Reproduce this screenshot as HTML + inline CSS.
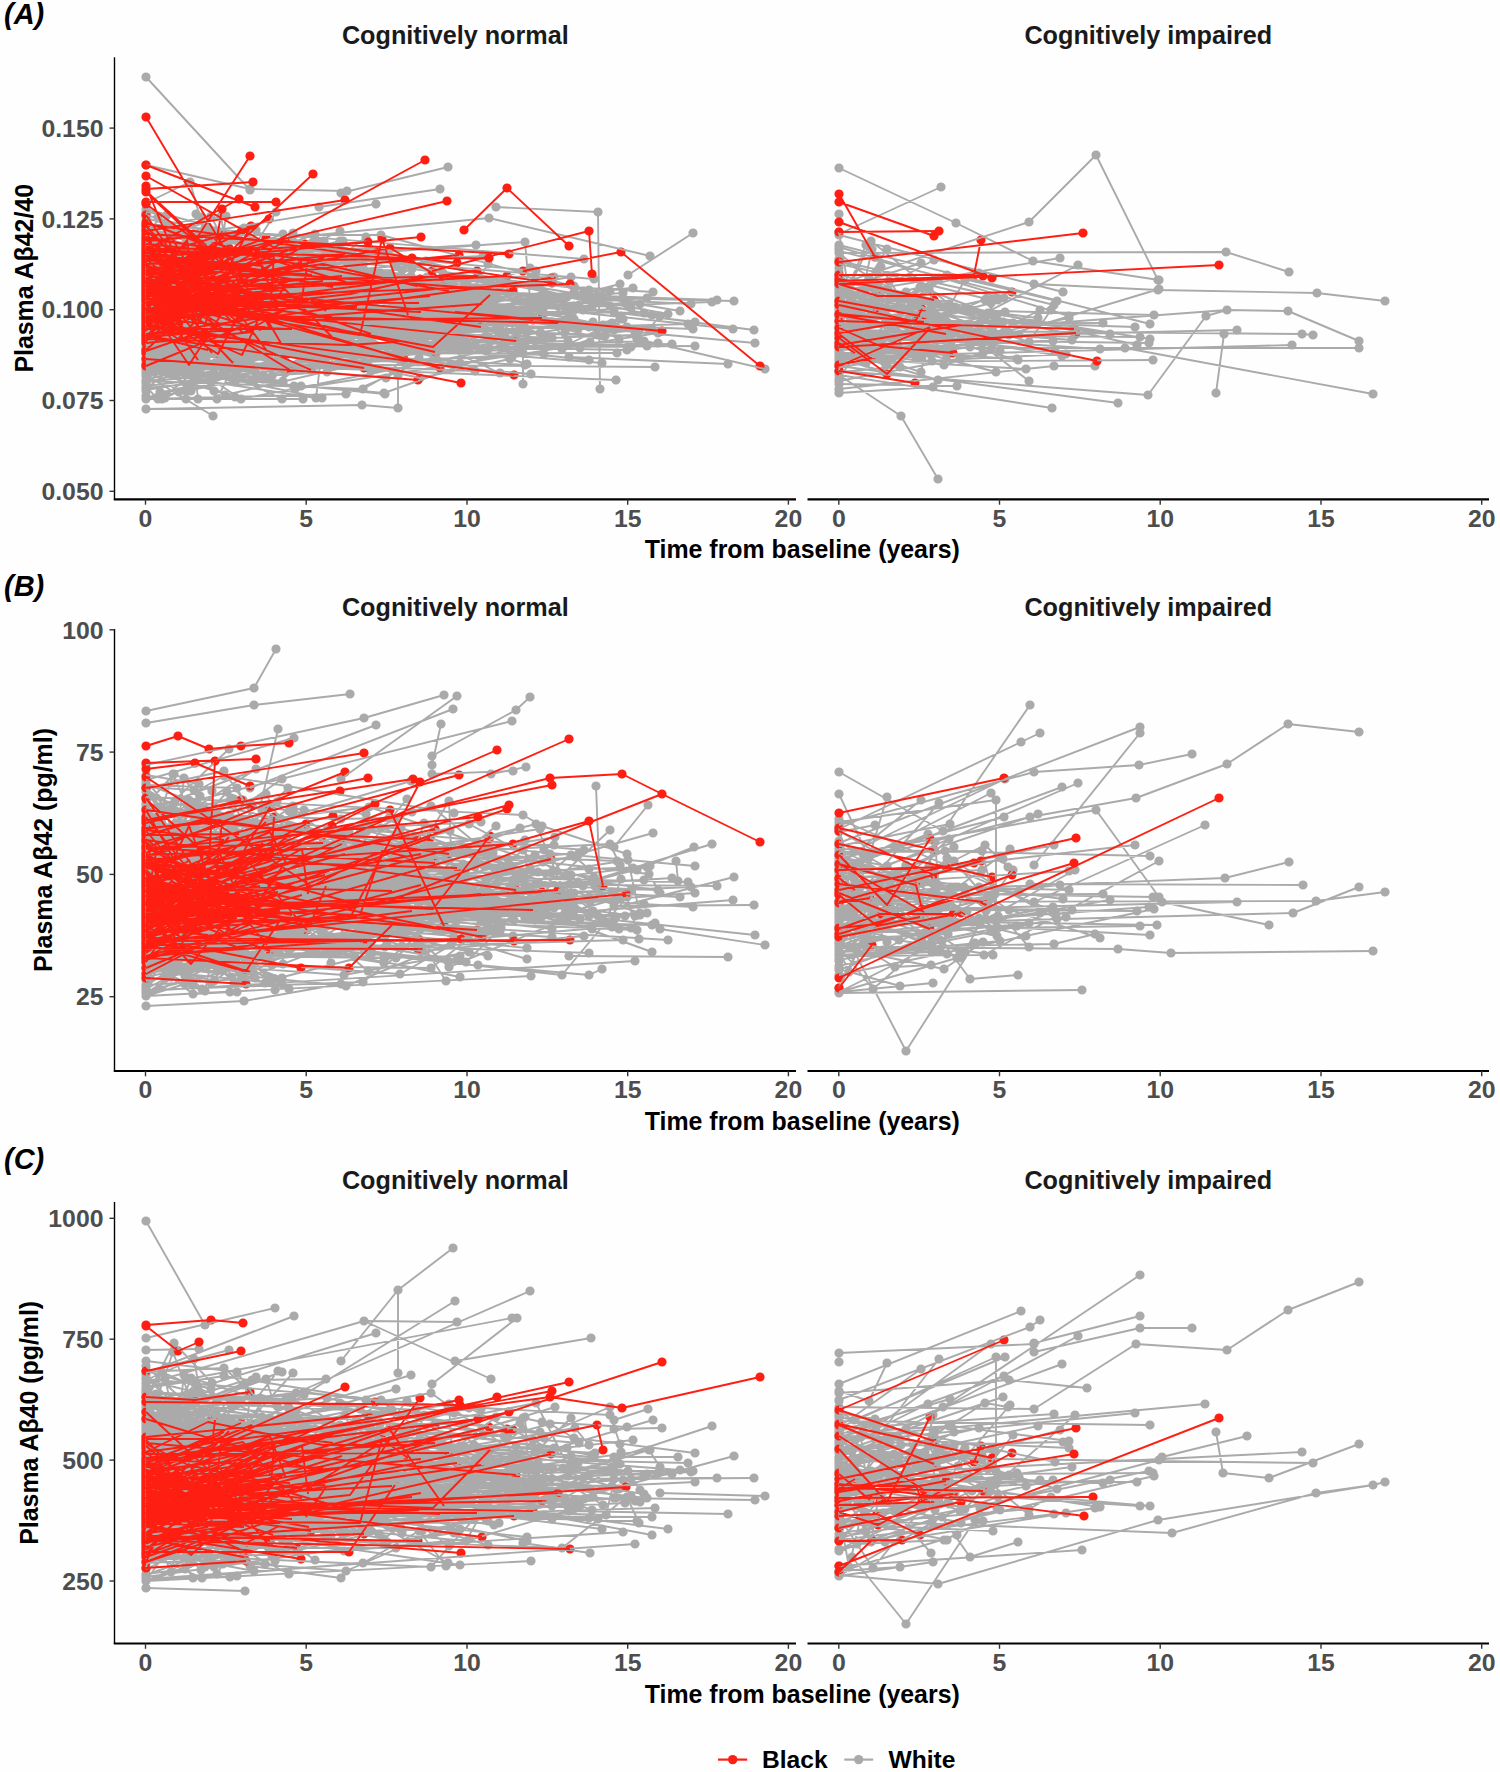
<!DOCTYPE html><html><head><meta charset="utf-8"><style>
html,body{margin:0;padding:0;background:#fefefe;width:1500px;height:1772px;overflow:hidden}
svg{display:block}
text{font-family:"Liberation Sans",sans-serif;font-weight:bold}
.lab{font-size:29px;font-style:italic;fill:#000}
.strip{font-size:25.2px;fill:#1a1a1a;text-anchor:middle}
.yt{font-size:24.8px;fill:#4d4d4d;text-anchor:end}
.xt{font-size:24.8px;fill:#4d4d4d;text-anchor:middle}
.xtitle{font-size:24.9px;fill:#000;text-anchor:middle}
.ytitle{font-size:24.9px;fill:#000;text-anchor:middle}
.leg{font-size:24.6px;fill:#000}
</style></head><body><svg width="1500" height="1772" viewBox="0 0 1500 1772"><rect width="1500" height="1772" fill="#fefefe"/><path d="M146 264h0M146 318h0M170 320h0M184 278h0M146 242h0M256 230h0M146 293h0M530 314h0M146 254h0M169 268h0M146 281h0M183 287h0M146 294h0M382 297h0M146 313h0M424 323h0M146 346h0M155 329h0M180 331h0M146 277h0M229 274h0M278 273h0M357 277h0M146 335h0M167 266h0M285 360h0M146 281h0M487 301h0M567 297h0M734 301h0M146 224h0M584 259h0M146 357h0M341 306h0M376 321h0M146 399h0M165 398h0M286 341h0M146 383h0M255 352h0M146 344h0M197 339h0M205 366h0M207 305h0M146 272h0M249 290h0M146 331h0M267 326h0M489 348h0M565 332h0M589 291h0M146 344h0M146 341h0M262 317h0M284 324h0M317 325h0M146 349h0M146 284h0M169 271h0M187 311h0M146 323h0M340 231h0M146 329h0M227 336h0M396 345h0M146 360h0M301 345h0M146 327h0M258 322h0M146 272h0M483 256h0M146 213h0M166 262h0M178 249h0M146 260h0M236 296h0M524 325h0M146 346h0M223 302h0M244 332h0M146 342h0M543 309h0M146 304h0M198 294h0M243 313h0M146 326h0M256 354h0M146 275h0M302 266h0M363 275h0M146 276h0M541 312h0M603 325h0M146 320h0M173 311h0M146 314h0M314 340h0M368 316h0M146 320h0M637 336h0M146 308h0M250 302h0M420 301h0M525 315h0M146 326h0M307 324h0M465 301h0M146 244h0M392 276h0M653 292h0M146 359h0M146 380h0M165 357h0M146 341h0M301 353h0M146 275h0M248 291h0M360 294h0M146 268h0M216 253h0M514 314h0M146 263h0M490 282h0M146 298h0M241 275h0M146 307h0M188 290h0M438 339h0M544 292h0M146 368h0M190 344h0M217 399h0M266 301h0M146 366h0M254 381h0M146 359h0M209 375h0M235 382h0M146 271h0M327 261h0M508 293h0M579 305h0M146 297h0M158 293h0M218 325h0M146 317h0M250 299h0M252 325h0M275 334h0M146 303h0M270 333h0M146 290h0M189 294h0M304 250h0M146 312h0M606 329h0M621 316h0M146 291h0M273 266h0M344 281h0M574 319h0M146 289h0M196 318h0M345 291h0M616 327h0M146 399h0M303 399h0M146 317h0M241 354h0M536 304h0M569 344h0M612 323h0M146 301h0M156 297h0M165 267h0M236 338h0M146 247h0M146 307h0M644 313h0M146 308h0M381 296h0M146 315h0M146 305h0M481 289h0M146 326h0M146 352h0M146 287h0M291 322h0M310 298h0M352 310h0M146 368h0M179 392h0M257 355h0M362 351h0M146 274h0M571 326h0M146 235h0M536 271h0M146 346h0M165 334h0M625 303h0M146 307h0M283 316h0M146 308h0M221 297h0M146 286h0M176 268h0M221 296h0M146 288h0M195 302h0M146 354h0M179 351h0M146 312h0M415 288h0M631 347h0M146 307h0M173 279h0M218 334h0M469 314h0M578 329h0M146 328h0M190 322h0M270 323h0M276 363h0M146 292h0M265 326h0M146 325h0M633 288h0M146 357h0M156 314h0M212 342h0M245 319h0M146 232h0M156 241h0M221 216h0M235 305h0M146 332h0M285 373h0M146 302h0M247 284h0M146 249h0M282 251h0M146 328h0M265 355h0M272 314h0M400 301h0M468 345h0M146 353h0M272 376h0M623 319h0M146 261h0M260 263h0M540 287h0M146 305h0M431 299h0M551 337h0M146 371h0M210 365h0M146 304h0M163 311h0M196 268h0M146 303h0M170 314h0M201 322h0M221 323h0M146 251h0M240 278h0M291 272h0M146 316h0M412 282h0M419 297h0M459 319h0M146 277h0M231 277h0M237 291h0M293 247h0M146 328h0M319 360h0M146 279h0M189 243h0M575 288h0M589 290h0M146 282h0M164 287h0M146 262h0M218 231h0M146 259h0M234 277h0M304 285h0M366 237h0M146 246h0M391 275h0M146 286h0M157 294h0M168 285h0M253 326h0M146 274h0M275 327h0M146 342h0M331 333h0M589 360h0M146 342h0M220 349h0M287 316h0M146 316h0M451 334h0M146 305h0M189 284h0M250 283h0M146 359h0M300 336h0M146 252h0M489 218h0M650 256h0M146 345h0M355 355h0M475 345h0M146 296h0M612 324h0M146 277h0M146 311h0M206 350h0M412 269h0M146 362h0M232 347h0M417 361h0M146 303h0M361 333h0M688 324h0M146 325h0M193 346h0M219 329h0M146 282h0M212 249h0M146 311h0M234 293h0M583 310h0M146 321h0M283 294h0M146 209h0M286 247h0M352 264h0M146 293h0M146 305h0M177 319h0M202 322h0M220 295h0M146 285h0M233 300h0M363 265h0M146 351h0M165 358h0M172 344h0M146 250h0M211 304h0M403 292h0M146 292h0M349 322h0M146 370h0M277 344h0M146 247h0M165 271h0M182 328h0M146 282h0M187 271h0M290 328h0M355 287h0M146 291h0M175 370h0M293 340h0M146 319h0M460 337h0M146 281h0M432 303h0M146 316h0M180 291h0M211 292h0M146 346h0M227 355h0M328 347h0M146 252h0M273 282h0M146 269h0M525 242h0M530 299h0M146 294h0M193 328h0M146 267h0M297 332h0M146 328h0M368 293h0M432 322h0M146 368h0M301 370h0M146 325h0M163 260h0M146 372h0M384 393h0M523 344h0M146 230h0M379 257h0M146 358h0M376 369h0M146 312h0M199 325h0M303 284h0M146 300h0M323 320h0M146 298h0M298 304h0M322 302h0M488 317h0M146 338h0M178 317h0M146 229h0M229 287h0M146 303h0M284 288h0M146 245h0M230 285h0M486 280h0M146 328h0M347 344h0M146 349h0M304 352h0M429 328h0M488 337h0M146 316h0M227 308h0M357 267h0M146 310h0M227 335h0M286 312h0M146 288h0M538 301h0M619 339h0M146 277h0M196 273h0M217 278h0M324 241h0M146 334h0M189 322h0M281 347h0M326 312h0M146 263h0M171 255h0M146 261h0M189 321h0M313 242h0M146 286h0M289 325h0M407 310h0M146 265h0M353 292h0M457 294h0M146 345h0M185 326h0M243 321h0M146 258h0M250 311h0M251 321h0M304 281h0M146 322h0M380 273h0M146 353h0M416 334h0M146 315h0M171 373h0M185 339h0M271 326h0M146 295h0M168 328h0M174 318h0M146 319h0M567 319h0M146 304h0M165 341h0M196 325h0M247 322h0M146 317h0M160 288h0M190 340h0M234 320h0M146 299h0M282 262h0M146 329h0M315 282h0M429 302h0M146 386h0M459 349h0M146 313h0M249 351h0M267 288h0M375 301h0M146 347h0M197 372h0M146 275h0M171 323h0M199 297h0M146 336h0M631 308h0M146 254h0M368 283h0M146 302h0M162 279h0M146 327h0M312 334h0M146 287h0M174 308h0M325 298h0M386 313h0M146 325h0M411 276h0M554 323h0M146 367h0M253 380h0M301 386h0M146 344h0M426 261h0M525 343h0M647 346h0M146 263h0M476 245h0M146 363h0M217 311h0M146 285h0M172 233h0M175 248h0M146 283h0M199 308h0M281 262h0M146 319h0M205 343h0M219 351h0M243 318h0M146 316h0M220 292h0M146 290h0M146 303h0M388 315h0M445 313h0M544 292h0M652 315h0M146 333h0M146 301h0M146 288h0M207 275h0M223 317h0M146 318h0M146 380h0M337 327h0M340 343h0M146 372h0M316 398h0M321 358h0M146 288h0M493 298h0M146 278h0M177 268h0M178 253h0M146 299h0M351 342h0M409 330h0M146 253h0M296 263h0M333 273h0M146 269h0M402 329h0M487 287h0M146 260h0M177 279h0M240 292h0M146 271h0M207 288h0M146 259h0M214 291h0M296 262h0M146 295h0M359 331h0M376 298h0M405 297h0M146 235h0M156 255h0M165 280h0M427 277h0M146 295h0M574 306h0M146 227h0M235 306h0M263 271h0M695 322h0M146 329h0M207 331h0M304 335h0M324 306h0M146 273h0M180 332h0M647 298h0M146 341h0M627 350h0M146 279h0M315 240h0M443 273h0M668 314h0M146 330h0M247 329h0M289 336h0M331 323h0M146 287h0M146 330h0M146 298h0M230 269h0M280 293h0M146 321h0M146 320h0M163 293h0M308 359h0M146 278h0M472 291h0M488 264h0M146 338h0M146 315h0M540 333h0M146 269h0M482 310h0M712 302h0M146 352h0M394 357h0M146 332h0M268 308h0M340 336h0M345 321h0M486 351h0M146 281h0M146 241h0M179 290h0M227 254h0M146 328h0M339 323h0M146 318h0M605 336h0M146 376h0M225 361h0M239 359h0M260 352h0M302 358h0M146 296h0M166 281h0M206 345h0M260 308h0M146 325h0M371 315h0M146 312h0M259 280h0M279 302h0M450 330h0M146 367h0M196 356h0M223 369h0M146 349h0M392 319h0M146 326h0M451 364h0M146 325h0M227 303h0M146 305h0M146 293h0M316 309h0M387 347h0M146 382h0M547 338h0M146 309h0M535 341h0M146 272h0M172 312h0M289 326h0M146 337h0M216 298h0M301 283h0M146 308h0M146 279h0M146 273h0M270 317h0M329 264h0M146 363h0M254 336h0M268 350h0M146 298h0M458 313h0M146 266h0M410 314h0M146 271h0M206 266h0M208 311h0M288 295h0M146 319h0M270 290h0M315 337h0M146 328h0M190 342h0M193 344h0M146 340h0M162 310h0M146 271h0M465 282h0M474 290h0M146 285h0M146 383h0M210 365h0M282 399h0M146 365h0M179 352h0M200 350h0M223 374h0M146 307h0M166 292h0M181 317h0M146 212h0M167 215h0M175 267h0M146 320h0M299 353h0M146 215h0M430 292h0M552 338h0M146 336h0M146 301h0M210 312h0M242 334h0M146 327h0M202 328h0M410 336h0M146 329h0M173 328h0M249 348h0M261 341h0M262 270h0M146 388h0M185 332h0M457 324h0M146 337h0M146 203h0M190 182h0M217 277h0M226 216h0M146 348h0M240 280h0M146 371h0M385 394h0M146 326h0M279 295h0M300 354h0M146 337h0M178 354h0M224 333h0M304 296h0M146 362h0M185 373h0M198 378h0M214 391h0M146 322h0M384 317h0M146 366h0M512 357h0M146 324h0M176 290h0M232 338h0M146 344h0M436 354h0M563 300h0M146 381h0M363 389h0M419 358h0M446 335h0M146 340h0M242 322h0M146 308h0M160 319h0M200 281h0M202 217h0M146 308h0M593 322h0M146 314h0M466 314h0M501 345h0M516 322h0M146 310h0M146 366h0M475 316h0M517 353h0M146 330h0M367 315h0M505 280h0M515 311h0M146 324h0M416 331h0M449 347h0M452 331h0M146 362h0M158 370h0M165 354h0M207 333h0M146 340h0M146 295h0M535 276h0M146 289h0M301 317h0M146 266h0M167 296h0M146 309h0M199 310h0M146 399h0M346 394h0M463 344h0M146 230h0M383 254h0M146 275h0M282 290h0M146 335h0M297 292h0M146 291h0M340 241h0M146 280h0M225 285h0M334 267h0M395 353h0M496 295h0M146 269h0M546 300h0M146 372h0M544 354h0M146 237h0M146 347h0M146 272h0M167 226h0M274 297h0M146 321h0M188 299h0M188 328h0M276 342h0M315 359h0M146 321h0M246 323h0M553 302h0M146 284h0M197 296h0M246 288h0M289 300h0M146 277h0M230 268h0M287 256h0M146 325h0M165 344h0M184 265h0M146 291h0M146 388h0M211 382h0M230 344h0M278 340h0M146 293h0M652 329h0M146 255h0M146 281h0M173 286h0M146 321h0M146 380h0M229 320h0M345 339h0M371 371h0M146 265h0M196 234h0M209 300h0M402 361h0M146 399h0M162 399h0M195 371h0M198 399h0M146 344h0M225 395h0M520 327h0M146 245h0M185 232h0M474 290h0M146 277h0M168 276h0M146 297h0M302 311h0M146 351h0M233 323h0M275 347h0M146 351h0M178 329h0M184 328h0M146 336h0M282 359h0M146 370h0M235 397h0M146 218h0M290 260h0M343 241h0M146 304h0M224 333h0M146 279h0M256 274h0M146 325h0M500 328h0M146 268h0M157 280h0M190 272h0M146 354h0M494 297h0M146 341h0M432 347h0M146 306h0M188 303h0M298 355h0M146 371h0M169 374h0M238 362h0M146 344h0M163 320h0M194 308h0M146 251h0M178 234h0M146 331h0M146 278h0M146 269h0M164 298h0M384 309h0M460 305h0M146 254h0M565 298h0M620 284h0M146 313h0M243 263h0M280 328h0M146 242h0M376 204h0M146 267h0M360 290h0M379 312h0M449 284h0M574 286h0M146 296h0M589 327h0M146 351h0M322 340h0M602 363h0M146 245h0M146 269h0M324 278h0M344 334h0M146 334h0M158 281h0M411 306h0M146 365h0M146 353h0M294 386h0M146 363h0M209 290h0M146 284h0M172 289h0M222 257h0M283 234h0M146 373h0M178 309h0M527 332h0M146 359h0M146 396h0M146 327h0M164 337h0M146 257h0M194 302h0M146 300h0M205 283h0M232 338h0M146 282h0M206 247h0M146 296h0M515 285h0M146 326h0M199 260h0M295 334h0M146 361h0M454 325h0M146 312h0M231 327h0M289 267h0M146 350h0M695 346h0M146 335h0M244 318h0M319 307h0M338 327h0M371 309h0M146 331h0M247 364h0M360 318h0M394 323h0M146 362h0M199 330h0M420 378h0M510 359h0M146 348h0M580 348h0M146 326h0M217 326h0M341 318h0M389 337h0M146 327h0M175 374h0M186 324h0M146 305h0M171 281h0M189 329h0M227 304h0M146 289h0M146 349h0M146 358h0M217 351h0M372 321h0M146 254h0M258 265h0M297 288h0M146 348h0M185 321h0M210 296h0M242 337h0M356 333h0M146 263h0M251 302h0M494 314h0M146 323h0M188 363h0M189 291h0M146 321h0M168 310h0M263 375h0M146 318h0M598 335h0M146 347h0M213 348h0M525 365h0M146 274h0M244 313h0M267 309h0M146 339h0M368 325h0M469 325h0M571 321h0M146 291h0M179 304h0M239 343h0M288 366h0M146 262h0M369 248h0M592 302h0M146 307h0M162 261h0M146 266h0M350 286h0M146 262h0M168 240h0M172 242h0M146 309h0M318 304h0M347 290h0M146 349h0M146 348h0M146 342h0M340 334h0M484 297h0M146 306h0M146 282h0M252 251h0M326 358h0M658 343h0M146 324h0M266 345h0M341 275h0M146 298h0M315 234h0M367 289h0M595 327h0M146 330h0M166 341h0M176 324h0M231 364h0M258 279h0M146 352h0M349 324h0M555 298h0M146 340h0M531 374h0M146 297h0M196 366h0M199 291h0M146 328h0M628 347h0M640 340h0M146 372h0M227 307h0M460 363h0M146 293h0M235 275h0M275 328h0M370 312h0M146 275h0M224 312h0M454 317h0M146 322h0M146 267h0M174 301h0M212 310h0M217 252h0M279 352h0M146 369h0M290 337h0M146 387h0M158 399h0M186 399h0M146 355h0M386 378h0M424 331h0M146 350h0M169 329h0M146 315h0M294 283h0M146 365h0M185 372h0M204 337h0M248 336h0M269 341h0M146 265h0M162 267h0M292 311h0M146 340h0M146 341h0M166 339h0M175 344h0M146 340h0M370 342h0M146 345h0M146 313h0M165 334h0M146 280h0M231 305h0M146 317h0M279 331h0M368 365h0M146 305h0M308 282h0M146 294h0M454 311h0M467 283h0M146 297h0M422 331h0M584 291h0M146 348h0M146 327h0M295 389h0M658 333h0M146 326h0M401 313h0M510 311h0M146 296h0M146 247h0M172 298h0M288 247h0M296 248h0M146 339h0M372 272h0M448 335h0M146 311h0M287 304h0M146 346h0M146 297h0M449 322h0M146 228h0M146 287h0M202 338h0M146 284h0M554 277h0M146 390h0M255 372h0M146 338h0M162 332h0M332 355h0M505 337h0M146 312h0M635 331h0M146 284h0M266 327h0M402 327h0M146 317h0M159 322h0M174 271h0M202 318h0M146 382h0M146 304h0M176 312h0M237 319h0M275 297h0M146 336h0M259 347h0M568 341h0M146 325h0M217 351h0M266 306h0M146 302h0M419 281h0M146 349h0M214 335h0M244 342h0M146 369h0M210 375h0M322 398h0M146 255h0M245 247h0M272 266h0M146 399h0M287 371h0M146 389h0M196 349h0M201 353h0M297 364h0M146 346h0M146 280h0M146 300h0M206 310h0M304 319h0M146 286h0M268 282h0M146 259h0M489 294h0M146 364h0M197 380h0M327 372h0M342 336h0M146 212h0M146 264h0M220 246h0M232 319h0M146 245h0M186 274h0M196 214h0M234 271h0M146 308h0M693 329h0M146 254h0M197 285h0M146 365h0M344 353h0M469 350h0M146 300h0M385 321h0M146 339h0M278 352h0M146 229h0M211 216h0M267 328h0M292 239h0M352 254h0M146 298h0M385 314h0M441 294h0M146 286h0M283 266h0M146 286h0M284 285h0M146 351h0M635 335h0M146 339h0M319 355h0M644 341h0M146 263h0M162 264h0M568 307h0M146 248h0M158 217h0M191 244h0M146 318h0M343 347h0M146 288h0M171 318h0M191 298h0M205 271h0M146 330h0M253 326h0M552 338h0M146 350h0M191 391h0M288 353h0M146 355h0M455 348h0M146 314h0M570 314h0M146 259h0M189 282h0M146 264h0M156 249h0M240 287h0M293 233h0M146 326h0M206 347h0M253 335h0M295 268h0M146 229h0M219 250h0M278 290h0M146 259h0M182 253h0M353 260h0M146 319h0M445 333h0M146 315h0M165 298h0M349 308h0M146 314h0M162 308h0M146 300h0M448 309h0M610 306h0M620 319h0M146 269h0M206 232h0M680 311h0M146 322h0M623 293h0M146 243h0M166 268h0M244 228h0M146 346h0M440 346h0M500 373h0M146 333h0M180 331h0M146 276h0M691 304h0M146 277h0M240 262h0M259 288h0M146 304h0M146 360h0M209 376h0M146 310h0M242 330h0M250 303h0M146 297h0M194 299h0M200 250h0M146 399h0M160 392h0M263 379h0M146 260h0M199 270h0M208 227h0M146 303h0M173 315h0M234 313h0M277 313h0M146 366h0M283 381h0M146 288h0M199 310h0M226 299h0M146 332h0M146 334h0M146 327h0M206 356h0M146 266h0M169 307h0M189 240h0M146 277h0M175 253h0M368 339h0M146 274h0M174 284h0M362 314h0M146 294h0M251 301h0M289 280h0M301 341h0M146 361h0M616 380h0M146 298h0M222 309h0M249 318h0M402 329h0M146 296h0M172 275h0M184 258h0M278 306h0M146 289h0M192 286h0M146 302h0M236 305h0M146 310h0M281 302h0M356 305h0M146 235h0M381 235h0M640 304h0M146 310h0M224 330h0M420 338h0M592 307h0M146 280h0M717 300h0M146 293h0M168 305h0M266 269h0M285 351h0M146 370h0M411 304h0M146 281h0M190 261h0M146 295h0M180 308h0M181 258h0M146 311h0M186 391h0M270 362h0M280 300h0M146 324h0M513 320h0M146 268h0M385 295h0M146 336h0M229 336h0M334 333h0M520 329h0M146 345h0M207 311h0M222 339h0M146 270h0M543 339h0M649 329h0M660 316h0M146 318h0M146 295h0M283 296h0M381 286h0M447 289h0M146 323h0M426 337h0M533 305h0M610 291h0M146 312h0M146 323h0M146 399h0M426 312h0M146 293h0M146 280h0M274 318h0M278 315h0M146 336h0M369 319h0M527 364h0M146 224h0M224 247h0M243 264h0M276 212h0M146 295h0M168 229h0M298 288h0M364 304h0M146 257h0M172 245h0M496 324h0M146 363h0M655 367h0M146 295h0M504 343h0M550 303h0M574 292h0M146 336h0M241 399h0M487 351h0M590 342h0M146 368h0M171 336h0M193 383h0M230 369h0M237 370h0M146 332h0M188 336h0M243 293h0M276 309h0M146 344h0M182 354h0M617 353h0M146 298h0M495 300h0M146 310h0M541 333h0M146 345h0M233 328h0M341 336h0M146 269h0M161 267h0M198 283h0M258 337h0M146 279h0M481 325h0M146 280h0M179 258h0M439 282h0M146 352h0M566 311h0M733 329h0M146 360h0M158 345h0M172 339h0M250 360h0M146 281h0M306 268h0M352 296h0M146 313h0M167 326h0M146 281h0M395 292h0M146 288h0M491 303h0M146 321h0M146 355h0M282 327h0M283 382h0M146 369h0M396 322h0M146 289h0M271 315h0M392 307h0M146 232h0M181 247h0M216 264h0M146 318h0M186 308h0M249 324h0M146 309h0M562 349h0M627 327h0M639 331h0M146 308h0M299 287h0M146 254h0M478 292h0M571 277h0M146 294h0M237 306h0M256 281h0M278 326h0M146 323h0M146 243h0M343 333h0M530 268h0M146 326h0M197 314h0M146 345h0M198 373h0M214 373h0M215 317h0M146 301h0M177 303h0M349 262h0M146 342h0M271 361h0M286 292h0M463 345h0M146 318h0M167 343h0M499 331h0M146 301h0M156 302h0M226 295h0M146 391h0M146 273h0M402 270h0M146 289h0M396 266h0M146 306h0M219 319h0M146 278h0M158 238h0M464 298h0M146 306h0M214 364h0M280 324h0M146 325h0M338 334h0M146 292h0M523 321h0M542 302h0M627 304h0M146 242h0M594 279h0M146 341h0M431 333h0M497 322h0M146 352h0M672 344h0M146 295h0M176 281h0M267 272h0M146 369h0M272 363h0M475 371h0M146 306h0M191 253h0M552 322h0M146 329h0M185 331h0M197 332h0M199 361h0M146 77h0M250 190h0M146 165h0M250 189h0M347 191h0M341 193h0M448 167h0M319 207h0M440 189h0M496 207h0M598 212h0M598 212h0M600 389h0M628 275h0M693 233h0M614 312h0M754 330h0M614 330h0M755 343h0M637 339h0M765 369h0M569 357h0M728 364h0M146 409h0M362 405h0M398 408h0M146 375h0M213 416h0M398 375h0M398 408h0M523 353h0M523 384h0M839 282h0M895 318h0M947 275h0M1057 301h0M839 295h0M887 364h0M1078 265h0M839 286h0M865 289h0M1029 342h0M1051 310h0M839 315h0M945 316h0M1029 381h0M839 293h0M935 351h0M839 348h0M1017 359h0M839 362h0M1153 360h0M839 299h0M917 334h0M943 317h0M839 334h0M920 319h0M935 325h0M940 333h0M839 247h0M1069 316h0M839 327h0M940 322h0M965 280h0M839 289h0M839 308h0M873 348h0M942 328h0M839 272h0M839 303h0M947 356h0M839 302h0M855 323h0M1062 356h0M839 290h0M921 263h0M839 302h0M1003 322h0M839 350h0M1053 341h0M839 367h0M932 354h0M839 278h0M954 310h0M839 322h0M865 355h0M948 349h0M839 333h0M839 300h0M1019 335h0M839 340h0M899 354h0M839 285h0M854 347h0M1005 312h0M839 285h0M960 359h0M839 291h0M839 335h0M961 339h0M839 333h0M985 300h0M1008 332h0M839 305h0M982 319h0M998 300h0M839 276h0M839 344h0M885 359h0M954 333h0M839 359h0M883 371h0M988 315h0M1009 335h0M839 332h0M839 323h0M1072 340h0M839 307h0M1154 315h0M839 235h0M1063 292h0M839 349h0M930 313h0M936 317h0M949 337h0M839 335h0M852 333h0M859 348h0M939 278h0M839 303h0M850 325h0M958 328h0M1010 334h0M839 331h0M996 372h0M839 304h0M839 342h0M931 355h0M839 384h0M957 386h0M839 332h0M839 302h0M950 311h0M839 352h0M839 264h0M876 272h0M991 300h0M839 371h0M851 299h0M866 363h0M839 278h0M1137 345h0M839 282h0M894 329h0M991 303h0M839 214h0M839 232h0M856 334h0M939 278h0M839 286h0M839 259h0M984 342h0M1159 289h0M839 344h0M991 328h0M839 356h0M861 317h0M869 358h0M839 324h0M906 292h0M916 357h0M839 379h0M857 351h0M944 365h0M983 353h0M839 289h0M1150 339h0M839 296h0M965 308h0M986 299h0M839 360h0M942 351h0M970 347h0M1018 360h0M839 361h0M979 325h0M986 316h0M1075 335h0M839 280h0M901 311h0M839 317h0M925 321h0M980 342h0M839 335h0M858 312h0M991 349h0M1013 323h0M839 314h0M922 357h0M839 294h0M927 329h0M839 304h0M860 329h0M920 287h0M988 313h0M839 356h0M993 343h0M839 307h0M979 273h0M839 308h0M871 285h0M937 304h0M839 310h0M871 241h0M949 304h0M839 346h0M839 357h0M839 393h0M933 387h0M839 274h0M888 290h0M995 318h0M839 264h0M839 290h0M878 286h0M955 307h0M839 293h0M993 334h0M1040 310h0M839 390h0M839 293h0M1038 318h0M839 331h0M1055 351h0M839 287h0M863 298h0M934 260h0M839 325h0M872 286h0M887 337h0M839 333h0M839 251h0M1054 305h0M839 354h0M932 361h0M839 381h0M1000 351h0M839 358h0M1026 369h0M839 260h0M839 308h0M890 299h0M929 289h0M946 348h0M839 323h0M875 339h0M839 309h0M866 245h0M839 310h0M839 333h0M908 352h0M964 327h0M839 314h0M898 319h0M1135 327h0M839 295h0M869 324h0M889 281h0M839 346h0M923 344h0M933 301h0M839 275h0M855 325h0M881 336h0M839 311h0M996 338h0M996 323h0M839 346h0M921 372h0M934 313h0M941 331h0M839 249h0M839 372h0M900 367h0M839 295h0M1060 258h0M839 324h0M1103 323h0M839 331h0M998 336h0M1140 337h0M839 318h0M849 339h0M870 303h0M839 288h0M851 302h0M997 315h0M839 280h0M982 319h0M839 268h0M859 309h0M872 249h0M839 253h0M869 278h0M887 249h0M839 284h0M860 351h0M928 324h0M839 296h0M1110 334h0M839 347h0M881 267h0M924 335h0M839 351h0M938 380h0M839 332h0M1100 349h0M839 389h0M1054 366h0M1095 366h0M839 301h0M839 339h0M1149 343h0M839 351h0M891 338h0M972 334h0M839 301h0M890 320h0M839 295h0M863 299h0M967 329h0M839 354h0M885 363h0M1066 354h0M839 290h0M871 315h0M884 313h0M935 278h0M839 245h0M1150 324h0M839 339h0M895 348h0M931 306h0M839 261h0M1004 298h0M839 354h0M951 342h0M1069 318h0M839 168h0M956 223h0M1033 261h0M1159 280h0M839 234h0M941 187h0M839 284h0M1029 222h0M1096 155h0M1158 280h0M839 253h0M1226 252h0M1289 272h0M1034 284h0M1158 290h0M1317 293h0M1385 301h0M839 375h0M901 416h0M938 479h0M839 339h0M1227 310h0M1288 311h0M1359 341h0M839 348h0M1359 348h0M1125 348h0M1373 394h0M839 375h0M1052 408h0M839 366h0M1118 403h0M839 371h0M1148 395h0M1206 316h0M1227 310h0M1216 393h0M1224 334h0M839 330h0M1302 334h0M1313 335h0M839 339h0M1237 330h0M839 357h0M1292 345h0" stroke="#aaaaaa" stroke-width="9.2" stroke-linecap="round" fill="none"/><path d="M146 268h0M276 298h0M481 327h0M146 282h0M171 332h0M231 338h0M146 334h0M551 278h0M146 256h0M263 266h0M146 275h0M211 272h0M222 209h0M146 281h0M221 272h0M146 300h0M323 281h0M146 222h0M195 241h0M250 156h0M146 305h0M225 281h0M146 301h0M419 303h0M146 289h0M278 308h0M146 249h0M172 238h0M203 291h0M146 287h0M160 286h0M233 363h0M146 319h0M286 329h0M146 309h0M209 300h0M215 244h0M146 289h0M240 296h0M146 314h0M146 253h0M289 274h0M146 240h0M228 298h0M232 302h0M146 290h0M392 281h0M146 244h0M253 255h0M146 290h0M240 315h0M146 338h0M189 279h0M215 329h0M146 293h0M187 240h0M195 291h0M146 263h0M146 317h0M302 262h0M146 267h0M146 284h0M533 320h0M146 267h0M186 289h0M146 286h0M205 310h0M146 293h0M273 242h0M146 283h0M200 268h0M146 314h0M255 299h0M146 297h0M244 279h0M146 365h0M146 259h0M312 275h0M146 291h0M236 315h0M146 241h0M241 232h0M146 267h0M273 276h0M146 281h0M252 307h0M272 301h0M146 314h0M158 314h0M301 300h0M146 265h0M203 286h0M146 317h0M212 342h0M146 326h0M514 375h0M146 309h0M177 314h0M146 260h0M276 273h0M146 302h0M360 335h0M382 239h0M408 315h0M146 257h0M252 227h0M146 250h0M228 257h0M146 288h0M246 314h0M279 276h0M146 249h0M254 248h0M272 293h0M146 320h0M182 298h0M194 266h0M146 300h0M286 290h0M146 247h0M157 245h0M243 333h0M307 298h0M146 335h0M187 331h0M146 290h0M186 313h0M193 266h0M146 323h0M146 321h0M146 274h0M345 254h0M146 283h0M254 258h0M333 338h0M146 316h0M180 301h0M146 292h0M273 284h0M146 282h0M478 276h0M146 224h0M552 283h0M146 192h0M261 301h0M146 350h0M181 319h0M146 285h0M309 330h0M146 300h0M264 306h0M146 310h0M208 339h0M146 295h0M332 317h0M146 329h0M292 329h0M146 318h0M302 283h0M146 270h0M229 255h0M270 328h0M146 320h0M200 243h0M146 321h0M430 296h0M146 324h0M285 241h0M457 263h0M146 273h0M146 331h0M196 267h0M280 310h0M146 366h0M310 299h0M326 311h0M146 271h0M228 268h0M146 251h0M274 256h0M146 285h0M191 337h0M251 226h0M146 278h0M325 256h0M146 186h0M188 288h0M305 244h0M376 252h0M146 261h0M289 250h0M146 335h0M306 245h0M146 259h0M190 296h0M146 300h0M271 296h0M274 255h0M146 323h0M237 274h0M146 300h0M421 312h0M146 285h0M198 360h0M146 296h0M146 312h0M146 294h0M261 330h0M146 191h0M249 285h0M275 261h0M146 270h0M288 320h0M542 318h0M146 230h0M160 265h0M513 291h0M146 284h0M435 352h0M146 250h0M239 199h0M146 276h0M146 321h0M461 383h0M146 324h0M244 340h0M146 288h0M440 368h0M146 341h0M224 235h0M146 282h0M290 370h0M146 283h0M164 284h0M205 325h0M219 276h0M146 275h0M146 328h0M161 289h0M270 320h0M146 284h0M176 306h0M146 269h0M208 265h0M146 313h0M477 271h0M146 251h0M255 335h0M146 319h0M268 311h0M146 339h0M349 345h0M395 342h0M146 313h0M558 323h0M146 351h0M244 317h0M146 331h0M146 325h0M146 321h0M325 257h0M146 301h0M146 257h0M270 308h0M286 285h0M146 336h0M364 368h0M146 312h0M182 321h0M146 323h0M146 295h0M214 243h0M346 282h0M146 337h0M265 327h0M146 264h0M421 237h0M146 302h0M199 321h0M146 321h0M183 324h0M146 318h0M189 322h0M146 297h0M260 280h0M146 226h0M207 292h0M266 257h0M146 293h0M180 313h0M264 294h0M146 293h0M146 315h0M146 306h0M203 294h0M146 277h0M186 305h0M146 295h0M297 305h0M146 272h0M233 290h0M507 276h0M146 293h0M260 299h0M146 280h0M308 274h0M146 285h0M211 274h0M146 286h0M459 255h0M146 238h0M146 291h0M146 291h0M236 290h0M146 321h0M186 306h0M146 234h0M509 254h0M146 250h0M412 258h0M146 280h0M302 298h0M308 260h0M146 261h0M162 315h0M350 294h0M420 279h0M146 256h0M146 257h0M368 242h0M146 296h0M193 251h0M146 277h0M146 230h0M237 311h0M146 296h0M226 296h0M267 351h0M146 340h0M146 341h0M238 265h0M146 297h0M311 370h0M146 359h0M418 380h0M146 300h0M255 317h0M146 299h0M570 284h0M146 264h0M229 262h0M146 319h0M228 305h0M146 320h0M435 289h0M146 313h0M180 291h0M146 330h0M211 299h0M146 302h0M189 365h0M226 307h0M242 274h0M146 273h0M212 353h0M146 279h0M269 219h0M146 308h0M218 354h0M239 314h0M146 323h0M220 301h0M240 316h0M146 318h0M146 204h0M202 245h0M146 276h0M146 294h0M433 347h0M490 295h0M146 302h0M516 341h0M146 317h0M178 339h0M238 278h0M146 310h0M375 289h0M146 309h0M229 248h0M146 298h0M272 319h0M482 304h0M146 270h0M179 297h0M243 247h0M146 313h0M260 308h0M146 239h0M311 260h0M489 258h0M146 295h0M342 276h0M146 255h0M371 334h0M146 289h0M194 302h0M206 309h0M146 231h0M345 200h0M146 215h0M180 265h0M146 281h0M404 359h0M146 277h0M192 318h0M289 281h0M146 314h0M242 355h0M265 305h0M146 247h0M242 320h0M146 343h0M252 332h0M146 299h0M357 307h0M146 237h0M449 291h0M146 252h0M333 287h0M146 299h0M146 353h0M146 296h0M208 280h0M323 264h0M417 286h0M146 287h0M222 261h0M146 280h0M220 324h0M146 296h0M176 250h0M146 325h0M174 311h0M228 287h0M146 338h0M251 292h0M282 345h0M146 283h0M266 238h0M146 335h0M208 350h0M146 293h0M390 248h0M444 280h0M146 310h0M241 306h0M146 117h0M242 278h0M146 165h0M255 207h0M146 176h0M275 248h0M146 189h0M253 182h0M146 202h0M276 202h0M205 275h0M313 174h0M146 312h0M425 160h0M146 271h0M447 201h0M464 230h0M507 188h0M569 246h0M432 271h0M589 231h0M592 274h0M523 271h0M621 252h0M760 366h0M455 312h0M662 331h0M839 366h0M930 327h0M839 333h0M916 320h0M922 309h0M839 347h0M1076 333h0M839 284h0M878 296h0M1012 292h0M839 284h0M839 328h0M880 346h0M953 353h0M839 202h0M934 236h0M839 365h0M872 358h0M839 301h0M877 308h0M920 316h0M839 281h0M983 276h0M839 334h0M870 358h0M839 275h0M974 275h0M981 240h0M839 314h0M924 322h0M839 338h0M887 374h0M930 328h0M839 315h0M946 334h0M839 345h0M961 325h0M839 321h0M1074 329h0M839 343h0M855 353h0M839 222h0M992 278h0M839 279h0M934 300h0M839 194h0M875 257h0M839 232h0M939 231h0M839 262h0M1083 233h0M839 284h0M1219 265h0M839 305h0M1097 361h0M839 371h0M915 383h0" stroke="#fe1e12" stroke-width="9.2" stroke-linecap="round" fill="none"/><path d="M146 318L170 320L184 278M146 242L256 230M146 293L530 314M146 254L169 268M146 281L183 287M146 294L382 297M146 313L424 323M146 346L155 329L180 331M146 277L229 274L278 273L357 277M146 335L167 266L285 360M146 281L487 301L567 297L734 301M146 224L584 259M146 357L341 306L376 321M146 399L165 398L286 341M146 383L255 352M146 344L197 339L205 366L207 305M146 272L249 290M146 331L267 326L489 348L565 332L589 291M146 341L262 317L284 324L317 325M146 284L169 271L187 311M146 323L340 231M146 329L227 336L396 345M146 360L301 345M146 327L258 322M146 272L483 256M146 213L166 262L178 249M146 260L236 296L524 325M146 346L223 302L244 332M146 342L543 309M146 304L198 294L243 313M146 326L256 354M146 275L302 266L363 275M146 276L541 312L603 325M146 320L173 311M146 314L314 340L368 316M146 320L637 336M146 308L250 302L420 301L525 315M146 326L307 324L465 301M146 244L392 276L653 292M146 380L165 357M146 341L301 353M146 275L248 291L360 294M146 268L216 253L514 314M146 263L490 282M146 298L241 275M146 307L188 290L438 339L544 292M146 368L190 344L217 399L266 301M146 366L254 381M146 359L209 375L235 382M146 271L327 261L508 293L579 305M146 297L158 293L218 325M146 317L250 299L252 325L275 334M146 303L270 333M146 290L189 294L304 250M146 312L606 329L621 316M146 291L273 266L344 281L574 319M146 289L196 318L345 291L616 327M146 399L303 399M146 317L241 354L536 304L569 344L612 323M146 301L156 297L165 267L236 338M146 307L644 313M146 308L381 296M146 305L481 289M146 287L291 322L310 298L352 310M146 368L179 392L257 355L362 351M146 274L571 326M146 235L536 271M146 346L165 334L625 303M146 307L283 316M146 308L221 297M146 286L176 268L221 296M146 288L195 302M146 354L179 351M146 312L415 288L631 347M146 307L173 279L218 334L469 314L578 329M146 328L190 322L270 323L276 363M146 292L265 326M146 325L633 288M146 357L156 314L212 342L245 319M146 232L156 241L221 216L235 305M146 332L285 373M146 302L247 284M146 249L282 251M146 328L265 355L272 314L400 301L468 345M146 353L272 376L623 319M146 261L260 263L540 287M146 305L431 299L551 337M146 371L210 365M146 304L163 311L196 268M146 303L170 314L201 322L221 323M146 251L240 278L291 272M146 316L412 282L419 297L459 319M146 277L231 277L237 291L293 247M146 328L319 360M146 279L189 243L575 288L589 290M146 282L164 287M146 262L218 231M146 259L234 277L304 285L366 237M146 246L391 275M146 286L157 294L168 285L253 326M146 274L275 327M146 342L331 333L589 360M146 342L220 349L287 316M146 316L451 334M146 305L189 284L250 283M146 359L300 336M146 252L489 218L650 256M146 345L355 355L475 345M146 296L612 324M146 311L206 350L412 269M146 362L232 347L417 361M146 303L361 333L688 324M146 325L193 346L219 329M146 282L212 249M146 311L234 293L583 310M146 321L283 294M146 209L286 247L352 264M146 305L177 319L202 322L220 295M146 285L233 300L363 265M146 351L165 358L172 344M146 250L211 304L403 292M146 292L349 322M146 370L277 344M146 247L165 271L182 328M146 282L187 271L290 328L355 287M146 291L175 370L293 340M146 319L460 337M146 281L432 303M146 316L180 291L211 292M146 346L227 355L328 347M146 252L273 282M146 269L525 242L530 299M146 294L193 328M146 267L297 332M146 328L368 293L432 322M146 368L301 370M146 325L163 260M146 372L384 393L523 344M146 230L379 257M146 358L376 369M146 312L199 325L303 284M146 300L323 320M146 298L298 304L322 302L488 317M146 338L178 317M146 229L229 287M146 303L284 288M146 245L230 285L486 280M146 328L347 344M146 349L304 352L429 328L488 337M146 316L227 308L357 267M146 310L227 335L286 312M146 288L538 301L619 339M146 277L196 273L217 278L324 241M146 334L189 322L281 347L326 312M146 263L171 255M146 261L189 321L313 242M146 286L289 325L407 310M146 265L353 292L457 294M146 345L185 326L243 321M146 258L250 311L251 321L304 281M146 322L380 273M146 353L416 334M146 315L171 373L185 339L271 326M146 295L168 328L174 318M146 319L567 319M146 304L165 341L196 325L247 322M146 317L160 288L190 340L234 320M146 299L282 262M146 329L315 282L429 302M146 386L459 349M146 313L249 351L267 288L375 301M146 347L197 372M146 275L171 323L199 297M146 336L631 308M146 254L368 283M146 302L162 279M146 327L312 334M146 287L174 308L325 298L386 313M146 325L411 276L554 323M146 367L253 380L301 386M146 344L426 261L525 343L647 346M146 263L476 245M146 363L217 311M146 285L172 233L175 248M146 283L199 308L281 262M146 319L205 343L219 351L243 318M146 316L220 292M146 303L388 315L445 313L544 292L652 315M146 288L207 275L223 317M146 380L337 327L340 343M146 372L316 398L321 358M146 288L493 298M146 278L177 268L178 253M146 299L351 342L409 330M146 253L296 263L333 273M146 269L402 329L487 287M146 260L177 279L240 292M146 271L207 288M146 259L214 291L296 262M146 295L359 331L376 298L405 297M146 235L156 255L165 280L427 277M146 295L574 306M146 227L235 306L263 271L695 322M146 329L207 331L304 335L324 306M146 273L180 332L647 298M146 341L627 350M146 279L315 240L443 273L668 314M146 330L247 329L289 336L331 323M146 298L230 269L280 293M146 320L163 293L308 359M146 278L472 291L488 264M146 315L540 333M146 269L482 310L712 302M146 352L394 357M146 332L268 308L340 336L345 321L486 351M146 241L179 290L227 254M146 328L339 323M146 318L605 336M146 376L225 361L239 359L260 352L302 358M146 296L166 281L206 345L260 308M146 325L371 315M146 312L259 280L279 302L450 330M146 367L196 356L223 369M146 349L392 319M146 326L451 364M146 325L227 303M146 293L316 309L387 347M146 382L547 338M146 309L535 341M146 272L172 312L289 326M146 337L216 298L301 283M146 273L270 317L329 264M146 363L254 336L268 350M146 298L458 313M146 266L410 314M146 271L206 266L208 311L288 295M146 319L270 290L315 337M146 328L190 342L193 344M146 340L162 310M146 271L465 282L474 290M146 383L210 365L282 399M146 365L179 352L200 350L223 374M146 307L166 292L181 317M146 212L167 215L175 267M146 320L299 353M146 215L430 292L552 338M146 301L210 312L242 334M146 327L202 328L410 336M146 329L173 328L249 348L261 341L262 270M146 388L185 332L457 324M146 203L190 182L217 277L226 216M146 348L240 280M146 371L385 394M146 326L279 295L300 354M146 337L178 354L224 333L304 296M146 362L185 373L198 378L214 391M146 322L384 317M146 366L512 357M146 324L176 290L232 338M146 344L436 354L563 300M146 381L363 389L419 358L446 335M146 340L242 322M146 308L160 319L200 281L202 217M146 308L593 322M146 314L466 314L501 345L516 322M146 366L475 316L517 353M146 330L367 315L505 280L515 311M146 324L416 331L449 347L452 331M146 362L158 370L165 354L207 333M146 295L535 276M146 289L301 317M146 266L167 296M146 309L199 310M146 399L346 394L463 344M146 230L383 254M146 275L282 290M146 335L297 292M146 291L340 241M146 280L225 285L334 267L395 353L496 295M146 269L546 300M146 372L544 354M146 272L167 226L274 297M146 321L188 299L188 328L276 342L315 359M146 321L246 323L553 302M146 284L197 296L246 288L289 300M146 277L230 268L287 256M146 325L165 344L184 265M146 388L211 382L230 344L278 340M146 293L652 329M146 281L173 286M146 380L229 320L345 339L371 371M146 265L196 234L209 300L402 361M146 399L162 399L195 371L198 399M146 344L225 395L520 327M146 245L185 232L474 290M146 277L168 276M146 297L302 311M146 351L233 323L275 347M146 351L178 329L184 328M146 336L282 359M146 370L235 397M146 218L290 260L343 241M146 304L224 333M146 279L256 274M146 325L500 328M146 268L157 280L190 272M146 354L494 297M146 341L432 347M146 306L188 303L298 355M146 371L169 374L238 362M146 344L163 320L194 308M146 251L178 234M146 269L164 298L384 309L460 305M146 254L565 298L620 284M146 313L243 263L280 328M146 242L376 204M146 267L360 290L379 312L449 284L574 286M146 296L589 327M146 351L322 340L602 363M146 269L324 278L344 334M146 334L158 281L411 306M146 353L294 386M146 363L209 290M146 284L172 289L222 257L283 234M146 373L178 309L527 332M146 327L164 337M146 257L194 302M146 300L205 283L232 338M146 282L206 247M146 296L515 285M146 326L199 260L295 334M146 361L454 325M146 312L231 327L289 267M146 350L695 346M146 335L244 318L319 307L338 327L371 309M146 331L247 364L360 318L394 323M146 362L199 330L420 378L510 359M146 348L580 348M146 326L217 326L341 318L389 337M146 327L175 374L186 324M146 305L171 281L189 329L227 304M146 358L217 351L372 321M146 254L258 265L297 288M146 348L185 321L210 296L242 337L356 333M146 263L251 302L494 314M146 323L188 363L189 291M146 321L168 310L263 375M146 318L598 335M146 347L213 348L525 365M146 274L244 313L267 309M146 339L368 325L469 325L571 321M146 291L179 304L239 343L288 366M146 262L369 248L592 302M146 307L162 261M146 266L350 286M146 262L168 240L172 242M146 309L318 304L347 290M146 342L340 334L484 297M146 282L252 251L326 358L658 343M146 324L266 345L341 275M146 298L315 234L367 289L595 327M146 330L166 341L176 324L231 364L258 279M146 352L349 324L555 298M146 340L531 374M146 297L196 366L199 291M146 328L628 347L640 340M146 372L227 307L460 363M146 293L235 275L275 328L370 312M146 275L224 312L454 317M146 267L174 301L212 310L217 252L279 352M146 369L290 337M146 387L158 399L186 399M146 355L386 378L424 331M146 350L169 329M146 315L294 283M146 365L185 372L204 337L248 336L269 341M146 265L162 267L292 311M146 341L166 339L175 344M146 340L370 342M146 313L165 334M146 280L231 305M146 317L279 331L368 365M146 305L308 282M146 294L454 311L467 283M146 297L422 331L584 291M146 327L295 389L658 333M146 326L401 313L510 311M146 247L172 298L288 247L296 248M146 339L372 272L448 335M146 311L287 304M146 297L449 322M146 287L202 338M146 284L554 277M146 390L255 372M146 338L162 332L332 355L505 337M146 312L635 331M146 284L266 327L402 327M146 317L159 322L174 271L202 318M146 304L176 312L237 319L275 297M146 336L259 347L568 341M146 325L217 351L266 306M146 302L419 281M146 349L214 335L244 342M146 369L210 375L322 398M146 255L245 247L272 266M146 399L287 371M146 389L196 349L201 353L297 364M146 300L206 310L304 319M146 286L268 282M146 259L489 294M146 364L197 380L327 372L342 336M146 264L220 246L232 319M146 245L186 274L196 214L234 271M146 308L693 329M146 254L197 285M146 365L344 353L469 350M146 300L385 321M146 339L278 352M146 229L211 216L267 328L292 239L352 254M146 298L385 314L441 294M146 286L283 266M146 286L284 285M146 351L635 335M146 339L319 355L644 341M146 263L162 264L568 307M146 248L158 217L191 244M146 318L343 347M146 288L171 318L191 298L205 271M146 330L253 326L552 338M146 350L191 391L288 353M146 355L455 348M146 314L570 314M146 259L189 282M146 264L156 249L240 287L293 233M146 326L206 347L253 335L295 268M146 229L219 250L278 290M146 259L182 253L353 260M146 319L445 333M146 315L165 298L349 308M146 314L162 308M146 300L448 309L610 306L620 319M146 269L206 232L680 311M146 322L623 293M146 243L166 268L244 228M146 346L440 346L500 373M146 333L180 331M146 276L691 304M146 277L240 262L259 288M146 360L209 376M146 310L242 330L250 303M146 297L194 299L200 250M146 399L160 392L263 379M146 260L199 270L208 227M146 303L173 315L234 313L277 313M146 366L283 381M146 288L199 310L226 299M146 327L206 356M146 266L169 307L189 240M146 277L175 253L368 339M146 274L174 284L362 314M146 294L251 301L289 280L301 341M146 361L616 380M146 298L222 309L249 318L402 329M146 296L172 275L184 258L278 306M146 289L192 286M146 302L236 305M146 310L281 302L356 305M146 235L381 235L640 304M146 310L224 330L420 338L592 307M146 280L717 300M146 293L168 305L266 269L285 351M146 370L411 304M146 281L190 261M146 295L180 308L181 258M146 311L186 391L270 362L280 300M146 324L513 320M146 268L385 295M146 336L229 336L334 333L520 329M146 345L207 311L222 339M146 270L543 339L649 329L660 316M146 295L283 296L381 286L447 289M146 323L426 337L533 305L610 291M146 399L426 312M146 280L274 318L278 315M146 336L369 319L527 364M146 224L224 247L243 264L276 212M146 295L168 229L298 288L364 304M146 257L172 245L496 324M146 363L655 367M146 295L504 343L550 303L574 292M146 336L241 399L487 351L590 342M146 368L171 336L193 383L230 369L237 370M146 332L188 336L243 293L276 309M146 344L182 354L617 353M146 298L495 300M146 310L541 333M146 345L233 328L341 336M146 269L161 267L198 283L258 337M146 279L481 325M146 280L179 258L439 282M146 352L566 311L733 329M146 360L158 345L172 339L250 360M146 281L306 268L352 296M146 313L167 326M146 281L395 292M146 288L491 303M146 355L282 327L283 382M146 369L396 322M146 289L271 315L392 307M146 232L181 247L216 264M146 318L186 308L249 324M146 309L562 349L627 327L639 331M146 308L299 287M146 254L478 292L571 277M146 294L237 306L256 281L278 326M146 243L343 333L530 268M146 326L197 314M146 345L198 373L214 373L215 317M146 301L177 303L349 262M146 342L271 361L286 292L463 345M146 318L167 343L499 331M146 301L156 302L226 295M146 273L402 270M146 289L396 266M146 306L219 319M146 278L158 238L464 298M146 306L214 364L280 324M146 325L338 334M146 292L523 321L542 302L627 304M146 242L594 279M146 341L431 333L497 322M146 352L672 344M146 295L176 281L267 272M146 369L272 363L475 371M146 306L191 253L552 322M146 329L185 331L197 332L199 361M146 77L250 190M146 165L250 189L347 191M341 193L448 167M319 207L440 189M496 207L598 212M598 212L600 389M628 275L693 233M614 312L754 330M614 330L755 343M637 339L765 369M569 357L728 364M146 409L362 405L398 408M146 375L213 416M398 375L398 408M523 353L523 384M839 282L895 318L947 275L1057 301M839 295L887 364L1078 265M839 286L865 289L1029 342L1051 310M839 315L945 316L1029 381M839 293L935 351M839 348L1017 359M839 362L1153 360M839 299L917 334L943 317M839 334L920 319L935 325L940 333M839 247L1069 316M839 327L940 322L965 280M839 308L873 348L942 328M839 303L947 356M839 302L855 323L1062 356M839 290L921 263M839 302L1003 322M839 350L1053 341M839 367L932 354M839 278L954 310M839 322L865 355L948 349M839 300L1019 335M839 340L899 354M839 285L854 347L1005 312M839 285L960 359M839 335L961 339M839 333L985 300L1008 332M839 305L982 319L998 300M839 344L885 359L954 333M839 359L883 371L988 315L1009 335M839 323L1072 340M839 307L1154 315M839 235L1063 292M839 349L930 313L936 317L949 337M839 335L852 333L859 348L939 278M839 303L850 325L958 328L1010 334M839 331L996 372M839 342L931 355M839 384L957 386M839 302L950 311M839 264L876 272L991 300M839 371L851 299L866 363M839 278L1137 345M839 282L894 329L991 303M839 232L856 334L939 278M839 259L984 342L1159 289M839 344L991 328M839 356L861 317L869 358M839 324L906 292L916 357M839 379L857 351L944 365L983 353M839 289L1150 339M839 296L965 308L986 299M839 360L942 351L970 347L1018 360M839 361L979 325L986 316L1075 335M839 280L901 311M839 317L925 321L980 342M839 335L858 312L991 349L1013 323M839 314L922 357M839 294L927 329M839 304L860 329L920 287L988 313M839 356L993 343M839 307L979 273M839 308L871 285L937 304M839 310L871 241L949 304M839 393L933 387M839 274L888 290L995 318M839 290L878 286L955 307M839 293L993 334L1040 310M839 293L1038 318M839 331L1055 351M839 287L863 298L934 260M839 325L872 286L887 337M839 251L1054 305M839 354L932 361M839 381L1000 351M839 358L1026 369M839 308L890 299L929 289L946 348M839 323L875 339M839 309L866 245M839 333L908 352L964 327M839 314L898 319L1135 327M839 295L869 324L889 281M839 346L923 344L933 301M839 275L855 325L881 336M839 311L996 338L996 323M839 346L921 372L934 313L941 331M839 372L900 367M839 295L1060 258M839 324L1103 323M839 331L998 336L1140 337M839 318L849 339L870 303M839 288L851 302L997 315M839 280L982 319M839 268L859 309L872 249M839 253L869 278L887 249M839 284L860 351L928 324M839 296L1110 334M839 347L881 267L924 335M839 351L938 380M839 332L1100 349M839 389L1054 366L1095 366M839 339L1149 343M839 351L891 338L972 334M839 301L890 320M839 295L863 299L967 329M839 354L885 363L1066 354M839 290L871 315L884 313L935 278M839 245L1150 324M839 339L895 348L931 306M839 261L1004 298M839 354L951 342L1069 318M839 168L956 223L1033 261L1159 280M839 234L941 187M839 284L1029 222L1096 155L1158 280M839 253L1226 252L1289 272M1034 284L1158 290L1317 293L1385 301M839 375L901 416L938 479M839 339L1227 310L1288 311L1359 341M839 348L1359 348M1125 348L1373 394M839 375L1052 408M839 366L1118 403M839 371L1148 395L1206 316L1227 310M1216 393L1224 334M839 330L1302 334L1313 335M839 339L1237 330M839 357L1292 345" stroke="#aaaaaa" stroke-width="1.9" stroke-linejoin="round" fill="none"/><path d="M146 268L276 298L481 327M146 282L171 332L231 338M146 334L551 278M146 256L263 266M146 275L211 272L222 209M146 281L221 272M146 300L323 281M146 222L195 241L250 156M146 305L225 281M146 301L419 303M146 289L278 308M146 249L172 238L203 291M146 287L160 286L233 363M146 319L286 329M146 309L209 300L215 244M146 289L240 296M146 253L289 274M146 240L228 298L232 302M146 290L392 281M146 244L253 255M146 290L240 315M146 338L189 279L215 329M146 293L187 240L195 291M146 317L302 262M146 284L533 320M146 267L186 289M146 286L205 310M146 293L273 242M146 283L200 268M146 314L255 299M146 297L244 279M146 259L312 275M146 291L236 315M146 241L241 232M146 267L273 276M146 281L252 307L272 301M146 314L158 314L301 300M146 265L203 286M146 317L212 342M146 326L514 375M146 309L177 314M146 260L276 273M146 302L360 335L382 239L408 315M146 257L252 227M146 250L228 257M146 288L246 314L279 276M146 249L254 248L272 293M146 320L182 298L194 266M146 300L286 290M146 247L157 245L243 333L307 298M146 335L187 331M146 290L186 313L193 266M146 274L345 254M146 283L254 258L333 338M146 316L180 301M146 292L273 284M146 282L478 276M146 224L552 283M146 192L261 301M146 350L181 319M146 285L309 330M146 300L264 306M146 310L208 339M146 295L332 317M146 329L292 329M146 318L302 283M146 270L229 255L270 328M146 320L200 243M146 321L430 296M146 324L285 241L457 263M146 331L196 267L280 310M146 366L310 299L326 311M146 271L228 268M146 251L274 256M146 285L191 337L251 226M146 278L325 256M146 186L188 288L305 244L376 252M146 261L289 250M146 335L306 245M146 259L190 296M146 300L271 296L274 255M146 323L237 274M146 300L421 312M146 285L198 360M146 294L261 330M146 191L249 285L275 261M146 270L288 320L542 318M146 230L160 265L513 291M146 284L435 352M146 250L239 199M146 321L461 383M146 324L244 340M146 288L440 368M146 341L224 235M146 282L290 370M146 283L164 284L205 325L219 276M146 328L161 289L270 320M146 284L176 306M146 269L208 265M146 313L477 271M146 251L255 335M146 319L268 311M146 339L349 345L395 342M146 313L558 323M146 351L244 317M146 321L325 257M146 257L270 308L286 285M146 336L364 368M146 312L182 321M146 295L214 243L346 282M146 337L265 327M146 264L421 237M146 302L199 321M146 321L183 324M146 318L189 322M146 297L260 280M146 226L207 292L266 257M146 293L180 313L264 294M146 306L203 294M146 277L186 305M146 295L297 305M146 272L233 290L507 276M146 293L260 299M146 280L308 274M146 285L211 274M146 286L459 255M146 291L236 290M146 321L186 306M146 234L509 254M146 250L412 258M146 280L302 298L308 260M146 261L162 315L350 294L420 279M146 257L368 242M146 296L193 251M146 230L237 311M146 296L226 296L267 351M146 341L238 265M146 297L311 370M146 359L418 380M146 300L255 317M146 299L570 284M146 264L229 262M146 319L228 305M146 320L435 289M146 313L180 291M146 330L211 299M146 302L189 365L226 307L242 274M146 273L212 353M146 279L269 219M146 308L218 354L239 314M146 323L220 301L240 316M146 204L202 245M146 294L433 347L490 295M146 302L516 341M146 317L178 339L238 278M146 310L375 289M146 309L229 248M146 298L272 319L482 304M146 270L179 297L243 247M146 313L260 308M146 239L311 260L489 258M146 295L342 276M146 255L371 334M146 289L194 302L206 309M146 231L345 200M146 215L180 265M146 281L404 359M146 277L192 318L289 281M146 314L242 355L265 305M146 247L242 320M146 343L252 332M146 299L357 307M146 237L449 291M146 252L333 287M146 296L208 280L323 264L417 286M146 287L222 261M146 280L220 324M146 296L176 250M146 325L174 311L228 287M146 338L251 292L282 345M146 283L266 238M146 335L208 350M146 293L390 248L444 280M146 310L241 306M146 117L242 278M146 165L255 207M146 176L275 248M146 189L253 182M146 202L276 202M205 275L313 174M146 312L425 160M146 271L447 201M464 230L507 188L569 246M432 271L589 231L592 274M523 271L621 252L760 366M455 312L662 331M839 366L930 327M839 333L916 320L922 309M839 347L1076 333M839 284L878 296L1012 292M839 328L880 346L953 353M839 202L934 236M839 365L872 358M839 301L877 308L920 316M839 281L983 276M839 334L870 358M839 275L974 275L981 240M839 314L924 322M839 338L887 374L930 328M839 315L946 334M839 345L961 325M839 321L1074 329M839 343L855 353M839 222L992 278M839 279L934 300M839 194L875 257M839 232L939 231M839 262L1083 233M839 284L1219 265M839 305L1097 361M839 371L915 383" stroke="#fe1e12" stroke-width="1.9" stroke-linejoin="round" fill="none"/><path d="M146 935h0M146 898h0M170 928h0M184 868h0M146 839h0M256 769h0M146 944h0M530 868h0M146 855h0M169 937h0M146 920h0M183 858h0M146 913h0M382 899h0M146 872h0M424 878h0M146 972h0M155 943h0M180 908h0M146 910h0M229 815h0M278 896h0M357 873h0M146 908h0M167 840h0M285 905h0M146 842h0M487 894h0M567 920h0M734 877h0M146 810h0M584 850h0M146 959h0M341 910h0M376 864h0M146 907h0M165 866h0M286 926h0M146 985h0M255 978h0M146 886h0M197 861h0M205 905h0M207 892h0M146 846h0M249 880h0M146 910h0M267 915h0M489 928h0M565 895h0M589 916h0M146 943h0M146 880h0M262 886h0M284 872h0M317 889h0M146 925h0M146 942h0M169 913h0M187 855h0M146 920h0M340 916h0M146 885h0M227 922h0M396 870h0M146 925h0M301 881h0M146 923h0M258 888h0M146 834h0M483 850h0M146 798h0M166 875h0M178 861h0M146 821h0M236 874h0M524 878h0M146 956h0M223 883h0M244 920h0M146 991h0M543 895h0M146 895h0M198 832h0M243 908h0M146 933h0M256 958h0M146 930h0M302 903h0M363 916h0M146 939h0M541 897h0M603 920h0M146 913h0M173 885h0M146 927h0M314 891h0M368 920h0M146 910h0M637 930h0M146 897h0M250 906h0M420 853h0M525 886h0M146 888h0M307 872h0M465 878h0M146 842h0M392 907h0M653 833h0M146 934h0M146 922h0M165 860h0M146 867h0M301 856h0M146 807h0M248 902h0M360 868h0M146 937h0M216 901h0M514 920h0M146 845h0M490 854h0M146 829h0M241 820h0M146 860h0M188 805h0M438 903h0M544 850h0M146 948h0M190 970h0M217 971h0M266 918h0M146 958h0M254 974h0M146 920h0M209 957h0M235 964h0M146 846h0M327 830h0M508 859h0M579 853h0M146 899h0M158 956h0M218 955h0M146 910h0M250 889h0M252 904h0M275 897h0M146 927h0M270 978h0M146 832h0M189 826h0M304 827h0M146 911h0M606 923h0M621 879h0M146 905h0M273 910h0M344 888h0M574 910h0M146 857h0M196 883h0M345 903h0M616 917h0M146 996h0M303 886h0M146 830h0M241 897h0M536 824h0M569 904h0M612 892h0M146 868h0M156 904h0M165 839h0M236 912h0M146 831h0M146 896h0M644 880h0M146 874h0M381 862h0M146 913h0M146 838h0M481 822h0M146 936h0M146 936h0M146 860h0M291 919h0M310 873h0M352 915h0M146 907h0M179 902h0M257 850h0M362 930h0M146 841h0M571 904h0M146 836h0M536 884h0M146 942h0M165 916h0M625 916h0M146 789h0M283 871h0M146 872h0M221 915h0M146 843h0M176 866h0M221 905h0M146 883h0M195 876h0M146 915h0M179 854h0M146 931h0M415 917h0M631 928h0M146 859h0M173 774h0M218 878h0M469 824h0M578 882h0M146 933h0M190 938h0M270 920h0M276 943h0M146 937h0M265 983h0M146 927h0M633 868h0M146 924h0M156 924h0M212 875h0M245 878h0M146 848h0M156 853h0M221 874h0M235 866h0M146 877h0M285 908h0M146 981h0M247 961h0M146 933h0M282 939h0M146 877h0M265 909h0M272 965h0M400 974h0M468 936h0M146 977h0M272 950h0M623 940h0M146 889h0M260 871h0M540 829h0M146 889h0M431 806h0M551 905h0M146 970h0M210 963h0M146 832h0M163 837h0M196 833h0M146 950h0M170 944h0M201 966h0M221 958h0M146 887h0M240 898h0M291 895h0M146 921h0M412 923h0M419 882h0M459 903h0M146 869h0M231 836h0M237 870h0M293 812h0M146 952h0M319 912h0M146 871h0M189 896h0M575 857h0M589 869h0M146 820h0M164 810h0M146 921h0M218 904h0M146 818h0M234 799h0M304 810h0M366 814h0M146 885h0M391 917h0M146 852h0M157 917h0M168 850h0M253 925h0M146 883h0M275 880h0M146 842h0M331 944h0M589 953h0M146 945h0M220 935h0M287 927h0M146 947h0M451 945h0M146 906h0M189 881h0M250 899h0M146 946h0M300 903h0M146 910h0M489 908h0M650 866h0M146 908h0M355 957h0M475 861h0M146 865h0M612 927h0M146 836h0M146 933h0M206 906h0M412 812h0M146 905h0M232 828h0M417 879h0M146 861h0M361 875h0M688 882h0M146 912h0M193 930h0M219 929h0M146 946h0M212 944h0M146 888h0M234 851h0M583 886h0M146 906h0M283 890h0M146 784h0M286 837h0M352 876h0M146 918h0M146 865h0M177 901h0M202 920h0M220 851h0M146 968h0M233 906h0M363 942h0M146 939h0M165 947h0M172 890h0M146 833h0M211 888h0M403 879h0M146 848h0M349 831h0M146 936h0M277 896h0M146 792h0M165 811h0M182 857h0M146 877h0M187 883h0M290 949h0M355 890h0M146 935h0M175 951h0M293 938h0M146 878h0M460 874h0M146 881h0M432 883h0M146 913h0M180 926h0M211 903h0M146 942h0M227 965h0M328 886h0M146 820h0M273 862h0M146 940h0M525 840h0M530 916h0M146 933h0M193 985h0M146 888h0M297 898h0M146 878h0M368 887h0M432 904h0M146 939h0M301 854h0M146 909h0M163 880h0M146 925h0M384 963h0M523 850h0M146 943h0M379 920h0M146 925h0M376 914h0M146 860h0M199 816h0M303 851h0M146 959h0M323 942h0M146 898h0M298 886h0M322 918h0M488 956h0M146 917h0M178 893h0M146 827h0M229 749h0M146 874h0M284 856h0M146 917h0M230 938h0M486 932h0M146 875h0M347 856h0M146 950h0M304 940h0M429 855h0M488 930h0M146 993h0M227 942h0M357 936h0M146 883h0M227 792h0M286 901h0M146 906h0M538 872h0M619 929h0M146 909h0M196 889h0M217 836h0M324 928h0M146 855h0M189 800h0M281 819h0M326 833h0M146 850h0M171 871h0M146 873h0M189 948h0M313 907h0M146 895h0M289 942h0M407 799h0M146 920h0M353 943h0M457 960h0M146 955h0M185 976h0M243 903h0M146 875h0M250 907h0M251 937h0M304 898h0M146 913h0M380 857h0M146 882h0M416 938h0M146 911h0M171 969h0M185 926h0M271 945h0M146 891h0M168 923h0M174 940h0M146 836h0M567 875h0M146 887h0M165 878h0M196 953h0M247 890h0M146 965h0M160 932h0M190 938h0M234 983h0M146 936h0M282 890h0M146 892h0M315 872h0M429 901h0M146 973h0M459 913h0M146 912h0M249 910h0M267 904h0M375 913h0M146 912h0M197 957h0M146 837h0M171 944h0M199 895h0M146 950h0M631 890h0M146 843h0M368 826h0M146 980h0M162 956h0M146 996h0M312 921h0M146 920h0M174 957h0M325 947h0M386 929h0M146 920h0M411 888h0M554 908h0M146 921h0M253 955h0M301 935h0M146 927h0M426 884h0M525 918h0M647 913h0M146 882h0M476 906h0M146 840h0M217 844h0M146 846h0M172 884h0M175 801h0M146 838h0M199 890h0M281 855h0M146 941h0M205 991h0M219 922h0M243 968h0M146 960h0M220 914h0M146 867h0M146 962h0M388 926h0M445 921h0M544 913h0M652 952h0M146 948h0M146 839h0M146 915h0M207 927h0M223 923h0M146 911h0M146 922h0M337 900h0M340 902h0M146 852h0M316 921h0M321 867h0M146 851h0M493 853h0M146 919h0M177 934h0M178 912h0M146 931h0M351 920h0M409 928h0M146 939h0M296 934h0M333 917h0M146 848h0M402 921h0M487 887h0M146 874h0M177 935h0M240 891h0M146 910h0M207 927h0M146 781h0M214 858h0M296 828h0M146 861h0M359 920h0M376 848h0M405 865h0M146 813h0M156 882h0M165 841h0M427 881h0M146 914h0M574 908h0M146 788h0M235 873h0M263 827h0M695 866h0M146 961h0M207 914h0M304 937h0M324 910h0M146 875h0M180 883h0M647 867h0M146 869h0M146 895h0M315 896h0M443 926h0M668 940h0M146 926h0M247 910h0M289 867h0M331 963h0M146 894h0M146 951h0M146 873h0M230 852h0M280 900h0M146 996h0M146 902h0M163 920h0M308 907h0M146 942h0M472 912h0M488 923h0M146 916h0M146 898h0M540 917h0M146 854h0M482 914h0M712 844h0M146 885h0M394 869h0M146 899h0M268 882h0M340 950h0M345 899h0M486 897h0M146 856h0M146 897h0M179 966h0M227 894h0M146 958h0M339 952h0M146 826h0M146 933h0M225 875h0M239 929h0M260 913h0M302 870h0M146 917h0M166 872h0M206 927h0M260 921h0M146 942h0M371 911h0M146 898h0M259 889h0M279 876h0M450 831h0M146 927h0M196 888h0M223 938h0M146 870h0M392 849h0M146 919h0M451 876h0M146 844h0M227 911h0M146 838h0M146 888h0M316 895h0M387 943h0M146 937h0M547 909h0M146 819h0M535 920h0M146 935h0M172 930h0M289 989h0M146 900h0M216 858h0M301 915h0M146 884h0M146 862h0M146 923h0M270 901h0M329 925h0M146 834h0M254 875h0M268 884h0M146 837h0M458 851h0M146 841h0M410 862h0M146 843h0M206 851h0M208 867h0M288 788h0M146 937h0M270 941h0M315 944h0M146 814h0M190 873h0M193 851h0M146 921h0M162 925h0M146 859h0M465 872h0M474 855h0M146 916h0M146 958h0M210 951h0M282 978h0M146 952h0M179 904h0M200 897h0M223 969h0M146 888h0M166 861h0M181 870h0M146 797h0M167 865h0M175 851h0M146 880h0M299 925h0M146 922h0M430 915h0M552 929h0M146 913h0M146 934h0M210 925h0M242 926h0M146 919h0M202 936h0M410 921h0M146 901h0M173 911h0M249 878h0M261 955h0M262 810h0M146 934h0M185 908h0M457 876h0M146 915h0M146 884h0M190 895h0M217 912h0M226 875h0M146 963h0M240 955h0M146 870h0M385 901h0M146 925h0M279 953h0M300 921h0M146 908h0M178 824h0M224 964h0M304 932h0M146 902h0M185 921h0M198 889h0M214 912h0M146 925h0M384 874h0M146 813h0M512 721h0M146 915h0M176 880h0M232 977h0M146 966h0M436 917h0M563 895h0M146 990h0M363 982h0M419 939h0M446 981h0M146 881h0M242 892h0M146 953h0M160 943h0M200 938h0M202 899h0M146 873h0M593 911h0M146 926h0M466 962h0M501 928h0M516 909h0M146 910h0M146 917h0M475 895h0M517 874h0M146 898h0M367 852h0M505 906h0M515 887h0M146 797h0M416 855h0M449 801h0M452 875h0M146 845h0M158 818h0M165 859h0M207 862h0M146 967h0M146 910h0M535 855h0M146 834h0M301 906h0M146 847h0M167 901h0M146 775h0M199 784h0M146 966h0M346 986h0M463 938h0M146 920h0M383 867h0M146 873h0M282 779h0M146 915h0M297 847h0M146 879h0M340 837h0M146 864h0M225 856h0M334 909h0M395 908h0M496 826h0M146 870h0M546 899h0M146 905h0M544 902h0M146 783h0M146 978h0M146 881h0M167 871h0M274 878h0M146 923h0M188 934h0M188 951h0M276 945h0M315 924h0M146 907h0M246 936h0M553 871h0M146 904h0M197 866h0M246 853h0M289 931h0M146 874h0M230 860h0M287 864h0M146 912h0M165 897h0M184 905h0M146 808h0M146 965h0M211 983h0M230 960h0M278 948h0M146 912h0M652 925h0M146 826h0M146 938h0M173 941h0M146 896h0M146 887h0M229 831h0M345 875h0M371 907h0M146 876h0M196 802h0M209 911h0M402 933h0M146 976h0M162 966h0M195 947h0M198 953h0M146 886h0M225 918h0M520 908h0M146 857h0M185 885h0M474 931h0M146 876h0M168 897h0M146 834h0M302 867h0M146 882h0M233 859h0M275 944h0M146 929h0M178 852h0M184 870h0M146 970h0M282 984h0M146 890h0M235 880h0M146 899h0M290 890h0M343 857h0M146 896h0M224 946h0M146 838h0M256 902h0M146 903h0M500 929h0M146 829h0M157 851h0M190 865h0M146 946h0M494 868h0M146 901h0M432 890h0M146 911h0M188 958h0M298 899h0M146 936h0M169 897h0M238 921h0M146 909h0M163 866h0M194 873h0M146 874h0M178 841h0M146 913h0M146 895h0M146 991h0M164 955h0M384 958h0M460 956h0M146 921h0M565 913h0M620 898h0M146 989h0M243 937h0M280 929h0M146 811h0M376 725h0M146 936h0M360 910h0M379 904h0M449 967h0M574 916h0M146 874h0M589 897h0M146 909h0M322 880h0M602 922h0M146 823h0M146 882h0M324 863h0M344 937h0M146 879h0M158 894h0M411 873h0M146 962h0M146 935h0M294 903h0M146 902h0M209 850h0M146 937h0M172 914h0M222 953h0M283 869h0M146 937h0M178 913h0M527 948h0M146 978h0M146 882h0M146 943h0M164 917h0M146 803h0M194 817h0M146 870h0M205 810h0M232 819h0M146 957h0M206 883h0M146 902h0M515 900h0M146 944h0M199 891h0M295 928h0M146 973h0M454 939h0M146 822h0M231 798h0M289 811h0M146 932h0M695 893h0M146 898h0M244 858h0M319 848h0M338 903h0M371 946h0M146 846h0M247 869h0M360 833h0M394 884h0M146 891h0M199 961h0M420 929h0M510 887h0M146 831h0M580 919h0M146 804h0M217 815h0M341 819h0M389 818h0M146 942h0M175 971h0M186 899h0M146 976h0M171 914h0M189 932h0M227 955h0M146 887h0M146 956h0M146 944h0M217 962h0M372 876h0M146 954h0M258 909h0M297 926h0M146 900h0M185 945h0M210 941h0M242 977h0M356 919h0M146 900h0M251 927h0M494 929h0M146 918h0M188 939h0M189 920h0M146 904h0M168 864h0M263 947h0M146 913h0M598 916h0M146 907h0M213 907h0M525 888h0M146 936h0M244 947h0M267 861h0M146 905h0M368 895h0M469 912h0M571 875h0M146 886h0M179 865h0M239 907h0M288 827h0M146 834h0M369 807h0M592 880h0M146 849h0M162 881h0M146 821h0M350 874h0M146 882h0M168 875h0M172 868h0M146 923h0M318 903h0M347 901h0M146 868h0M146 867h0M146 875h0M340 855h0M484 866h0M146 980h0M146 820h0M252 873h0M326 878h0M658 890h0M146 915h0M266 932h0M341 845h0M146 875h0M315 851h0M367 831h0M595 886h0M146 955h0M166 958h0M176 950h0M231 920h0M258 929h0M146 876h0M349 873h0M555 837h0M146 996h0M531 976h0M146 852h0M196 952h0M199 894h0M146 936h0M628 860h0M640 915h0M146 986h0M227 931h0M460 977h0M146 957h0M235 956h0M275 979h0M370 955h0M146 819h0M224 776h0M454 813h0M146 939h0M146 805h0M174 774h0M212 791h0M217 867h0M279 926h0M146 839h0M290 913h0M146 918h0M158 934h0M186 972h0M146 864h0M386 935h0M424 823h0M146 969h0M169 916h0M146 780h0M294 738h0M146 996h0M185 984h0M204 921h0M248 964h0M269 956h0M146 786h0M162 810h0M292 868h0M146 912h0M146 912h0M166 916h0M175 919h0M146 864h0M370 904h0M146 900h0M146 853h0M165 878h0M146 848h0M231 919h0M146 913h0M279 898h0M368 971h0M146 912h0M308 903h0M146 910h0M454 936h0M467 904h0M146 919h0M422 951h0M584 936h0M146 956h0M146 911h0M295 843h0M658 890h0M146 833h0M401 828h0M510 865h0M146 878h0M146 848h0M172 965h0M288 899h0M296 892h0M146 960h0M372 953h0M448 961h0M146 840h0M287 844h0M146 888h0M146 867h0M449 884h0M146 996h0M146 965h0M202 989h0M146 841h0M554 845h0M146 973h0M255 957h0M146 895h0M162 837h0M332 879h0M505 905h0M146 852h0M635 916h0M146 946h0M266 896h0M402 946h0M146 877h0M159 807h0M174 843h0M202 859h0M146 996h0M146 938h0M176 919h0M237 935h0M275 990h0M146 884h0M259 906h0M568 897h0M146 909h0M217 896h0M266 850h0M146 833h0M419 908h0M146 905h0M214 896h0M244 867h0M146 880h0M210 841h0M322 932h0M146 880h0M245 933h0M272 888h0M146 909h0M287 910h0M146 981h0M196 968h0M201 861h0M297 922h0M146 893h0M146 839h0M146 926h0M206 921h0M304 939h0M146 874h0M268 886h0M146 910h0M489 877h0M146 883h0M197 957h0M327 926h0M342 906h0M146 920h0M146 840h0M220 850h0M232 885h0M146 940h0M186 906h0M196 905h0M234 865h0M146 874h0M693 907h0M146 996h0M197 862h0M146 961h0M344 975h0M469 952h0M146 950h0M385 947h0M146 911h0M278 908h0M146 818h0M211 816h0M267 876h0M292 807h0M352 856h0M146 882h0M385 894h0M441 882h0M146 859h0M283 912h0M146 922h0M284 874h0M146 991h0M635 961h0M146 845h0M319 885h0M644 904h0M146 941h0M162 927h0M568 904h0M146 809h0M158 853h0M191 803h0M146 957h0M343 923h0M146 847h0M171 914h0M191 859h0M205 859h0M146 920h0M253 918h0M552 937h0M146 976h0M191 957h0M288 949h0M146 950h0M455 927h0M146 931h0M570 884h0M146 901h0M189 944h0M146 857h0M156 833h0M240 841h0M293 806h0M146 890h0M206 903h0M253 841h0M295 908h0M146 893h0M219 854h0M278 902h0M146 886h0M182 856h0M353 887h0M146 876h0M445 849h0M146 880h0M165 908h0M349 891h0M146 938h0M162 955h0M146 804h0M448 852h0M610 844h0M620 865h0M146 960h0M206 872h0M680 897h0M146 940h0M623 897h0M146 952h0M166 974h0M244 939h0M146 882h0M440 931h0M500 931h0M146 929h0M180 942h0M146 910h0M691 887h0M146 876h0M240 898h0M259 853h0M146 889h0M146 964h0M209 927h0M146 842h0M242 894h0M250 806h0M146 787h0M194 790h0M200 796h0M146 964h0M160 909h0M263 927h0M146 892h0M199 921h0M208 885h0M146 826h0M173 848h0M234 835h0M277 802h0M146 884h0M283 842h0M146 897h0M199 916h0M226 850h0M146 925h0M146 936h0M146 965h0M206 958h0M146 919h0M169 964h0M189 912h0M146 915h0M175 834h0M368 911h0M146 900h0M174 897h0M362 879h0M146 931h0M251 905h0M289 875h0M301 903h0M146 942h0M616 900h0M146 877h0M222 862h0M249 906h0M402 845h0M146 858h0M172 880h0M184 778h0M278 914h0M146 898h0M192 903h0M146 924h0M236 882h0M146 828h0M281 853h0M356 841h0M146 836h0M381 828h0M640 913h0M146 928h0M224 932h0M420 888h0M592 929h0M146 881h0M717 886h0M146 788h0M168 828h0M266 794h0M285 829h0M146 859h0M411 781h0M146 888h0M190 895h0M146 911h0M180 859h0M181 925h0M146 861h0M186 926h0M270 912h0M280 851h0M146 914h0M513 936h0M146 933h0M385 921h0M146 876h0M229 926h0M334 901h0M520 828h0M146 913h0M207 883h0M222 896h0M146 835h0M543 862h0M649 874h0M660 893h0M146 894h0M146 897h0M283 922h0M381 851h0M447 875h0M146 868h0M426 861h0M533 902h0M610 830h0M146 939h0M146 854h0M146 964h0M426 877h0M146 899h0M146 882h0M274 883h0M278 846h0M146 904h0M369 913h0M527 959h0M146 788h0M224 771h0M243 800h0M276 817h0M146 943h0M168 869h0M298 927h0M364 853h0M146 909h0M172 913h0M496 884h0M146 967h0M655 923h0M146 805h0M504 869h0M550 854h0M574 893h0M146 849h0M241 980h0M487 886h0M590 902h0M146 988h0M171 977h0M193 994h0M230 992h0M237 992h0M146 832h0M188 841h0M243 875h0M276 874h0M146 838h0M182 844h0M617 861h0M146 876h0M495 903h0M146 872h0M541 918h0M146 917h0M233 946h0M341 914h0M146 854h0M161 821h0M198 872h0M258 887h0M146 882h0M481 921h0M146 846h0M179 892h0M439 900h0M146 922h0M566 913h0M733 900h0M146 925h0M158 887h0M172 932h0M250 925h0M146 929h0M306 910h0M352 879h0M146 888h0M167 957h0M146 860h0M395 819h0M146 828h0M491 894h0M146 931h0M146 911h0M282 929h0M283 964h0M146 901h0M396 834h0M146 858h0M271 880h0M392 860h0M146 867h0M181 914h0M216 817h0M146 922h0M186 947h0M249 925h0M146 929h0M562 975h0M627 897h0M639 939h0M146 940h0M299 874h0M146 891h0M478 934h0M571 855h0M146 785h0M237 788h0M256 825h0M278 729h0M146 904h0M146 845h0M343 946h0M530 892h0M146 877h0M197 904h0M146 907h0M198 857h0M214 918h0M215 874h0M146 960h0M177 951h0M349 910h0M146 895h0M271 943h0M286 857h0M463 864h0M146 936h0M167 886h0M499 927h0M146 889h0M156 904h0M226 902h0M146 922h0M146 871h0M402 869h0M146 952h0M396 958h0M146 898h0M219 960h0M146 798h0M158 835h0M464 854h0M146 964h0M214 981h0M280 934h0M146 955h0M338 939h0M146 797h0M523 815h0M542 826h0M627 854h0M146 824h0M594 877h0M146 965h0M431 968h0M497 917h0M146 912h0M672 878h0M146 923h0M176 872h0M267 901h0M146 915h0M272 870h0M475 867h0M146 910h0M191 808h0M552 896h0M146 920h0M185 860h0M197 916h0M199 957h0M146 711h0M254 688h0M276 649h0M146 723h0M254 705h0M350 694h0M146 765h0M364 718h0M444 695h0M250 788h0M453 709h0M341 779h0M457 696h0M432 765h0M441 724h0M432 756h0M516 710h0M530 697h0M432 774h0M513 771h0M491 774h0M526 767h0M596 786h0M600 888h0M614 847h0M648 805h0M637 870h0M694 847h0M676 861h0M678 881h0M614 906h0M754 905h0M614 920h0M755 935h0M660 929h0M765 945h0M569 956h0M728 957h0M146 1006h0M244 1001h0M341 984h0M478 965h0M589 975h0M602 969h0M839 944h0M895 913h0M947 858h0M1057 919h0M839 857h0M887 866h0M1078 783h0M839 954h0M865 940h0M1029 923h0M1051 909h0M839 900h0M945 851h0M1029 947h0M839 913h0M935 882h0M839 934h0M1017 926h0M839 892h0M1153 897h0M839 860h0M917 915h0M943 920h0M839 908h0M920 901h0M935 842h0M940 902h0M839 885h0M1069 871h0M839 955h0M940 949h0M965 893h0M839 856h0M839 947h0M873 989h0M942 929h0M839 851h0M839 943h0M947 954h0M839 903h0M855 864h0M1062 787h0M839 866h0M921 800h0M839 891h0M1003 859h0M839 948h0M1053 907h0M839 956h0M932 952h0M839 895h0M954 847h0M839 933h0M865 938h0M948 934h0M839 869h0M839 921h0M1019 891h0M839 924h0M899 940h0M839 841h0M854 851h0M1005 779h0M839 885h0M960 953h0M839 890h0M839 909h0M961 958h0M839 918h0M985 845h0M1008 867h0M839 852h0M982 851h0M998 916h0M839 938h0M839 924h0M885 879h0M954 861h0M839 952h0M883 950h0M988 896h0M1009 910h0M839 926h0M839 907h0M1072 910h0M839 975h0M1154 909h0M839 869h0M1063 899h0M839 946h0M930 912h0M936 923h0M949 921h0M839 891h0M852 873h0M859 894h0M939 803h0M839 852h0M850 895h0M958 887h0M1010 849h0M839 849h0M996 928h0M839 900h0M839 966h0M931 943h0M839 992h0M957 958h0M839 944h0M839 846h0M950 824h0M839 893h0M839 831h0M876 852h0M991 793h0M839 954h0M851 909h0M866 925h0M839 909h0M1137 911h0M839 878h0M894 876h0M991 931h0M839 772h0M839 828h0M856 900h0M939 916h0M839 925h0M839 956h0M984 955h0M1159 861h0M839 942h0M991 896h0M839 905h0M861 886h0M869 943h0M839 901h0M906 865h0M916 893h0M839 988h0M857 951h0M944 969h0M983 942h0M839 918h0M1150 935h0M839 871h0M965 952h0M986 911h0M839 992h0M942 941h0M970 979h0M1018 975h0M839 970h0M979 918h0M986 919h0M1075 870h0M839 915h0M901 890h0M839 956h0M925 882h0M980 924h0M839 867h0M858 930h0M991 898h0M1013 870h0M839 910h0M922 941h0M839 916h0M927 925h0M839 913h0M860 897h0M920 876h0M988 908h0M839 931h0M993 955h0M839 909h0M979 887h0M839 934h0M871 890h0M937 884h0M839 872h0M871 908h0M949 839h0M839 940h0M839 959h0M839 992h0M933 983h0M839 915h0M888 900h0M995 894h0M839 822h0M839 924h0M878 900h0M955 887h0M839 936h0M993 919h0M1040 913h0M839 917h0M839 881h0M1038 814h0M839 819h0M1055 912h0M839 894h0M863 854h0M934 894h0M839 859h0M872 919h0M887 942h0M839 895h0M839 888h0M1054 845h0M839 918h0M932 938h0M839 956h0M1000 941h0M839 890h0M1026 936h0M839 862h0M839 903h0M890 884h0M929 866h0M946 907h0M839 832h0M875 825h0M839 952h0M866 947h0M839 922h0M839 864h0M908 907h0M964 887h0M839 874h0M898 872h0M1135 845h0M839 950h0M869 900h0M889 895h0M839 927h0M923 880h0M933 850h0M839 867h0M855 881h0M881 923h0M839 822h0M996 800h0M996 921h0M839 923h0M921 936h0M934 922h0M941 919h0M839 881h0M839 969h0M900 986h0M839 906h0M1060 885h0M839 895h0M1103 894h0M839 960h0M998 928h0M1140 926h0M839 950h0M849 972h0M870 917h0M839 918h0M851 906h0M997 936h0M839 878h0M982 870h0M839 961h0M859 884h0M872 853h0M839 794h0M869 858h0M887 797h0M839 866h0M860 862h0M928 834h0M839 947h0M1110 900h0M839 947h0M881 882h0M924 944h0M839 873h0M938 908h0M839 857h0M1100 938h0M839 948h0M1054 944h0M1095 934h0M839 968h0M839 929h0M1149 907h0M839 905h0M891 917h0M972 922h0M839 928h0M890 906h0M839 872h0M863 868h0M967 911h0M839 931h0M885 953h0M1066 917h0M839 879h0M871 940h0M884 920h0M935 937h0M839 849h0M1150 856h0M839 933h0M895 967h0M931 965h0M839 859h0M1004 817h0M839 860h0M951 887h0M1069 890h0M839 772h0M943 831h0M943 831h0M1030 705h0M839 829h0M1021 742h0M1040 733h0M839 843h0M1140 727h0M1034 865h0M1140 733h0M839 825h0M1034 772h0M1139 765h0M1192 754h0M839 865h0M1030 817h0M1136 798h0M1227 764h0M1288 724h0M1359 732h0M839 856h0M1096 810h0M1159 897h0M1034 902h0M1205 825h0M839 947h0M1118 949h0M1171 953h0M1373 951h0M839 993h0M1082 990h0M852 947h0M906 1051h0M975 943h0M839 902h0M1316 901h0M1385 892h0M839 925h0M1293 913h0M1359 887h0M1162 902h0M1269 925h0M839 893h0M1225 878h0M1289 862h0M1030 884h0M1303 885h0M839 911h0M1237 902h0M839 920h0M1157 925h0" stroke="#aaaaaa" stroke-width="9.2" stroke-linecap="round" fill="none"/><path d="M146 921h0M276 914h0M481 894h0M146 901h0M171 882h0M231 898h0M146 959h0M551 859h0M146 929h0M263 843h0M146 913h0M211 925h0M222 822h0M146 875h0M221 882h0M146 848h0M323 843h0M146 769h0M195 763h0M250 786h0M146 912h0M225 914h0M146 903h0M419 940h0M146 911h0M278 892h0M146 886h0M172 904h0M203 856h0M146 925h0M160 865h0M233 932h0M146 938h0M286 838h0M146 889h0M209 860h0M215 761h0M146 868h0M240 877h0M146 918h0M146 894h0M289 908h0M146 831h0M228 925h0M232 933h0M146 885h0M392 891h0M146 890h0M253 890h0M146 897h0M240 894h0M146 917h0M189 826h0M215 894h0M146 885h0M187 867h0M195 897h0M146 833h0M146 938h0M302 895h0M146 918h0M146 901h0M533 910h0M146 930h0M186 890h0M146 907h0M205 904h0M146 857h0M273 883h0M146 878h0M200 869h0M146 957h0M255 945h0M146 928h0M244 909h0M146 927h0M146 927h0M312 886h0M146 865h0M236 897h0M146 863h0M241 901h0M146 904h0M273 927h0M146 912h0M252 912h0M272 883h0M146 953h0M158 940h0M301 968h0M146 869h0M203 851h0M146 927h0M212 904h0M146 938h0M514 941h0M146 935h0M177 944h0M146 860h0M276 848h0M146 908h0M360 915h0M382 851h0M408 857h0M146 835h0M252 806h0M146 928h0M228 884h0M146 938h0M246 971h0M279 922h0M146 879h0M254 908h0M272 903h0M146 922h0M182 898h0M194 880h0M146 877h0M286 920h0M146 905h0M157 848h0M243 855h0M307 930h0M146 895h0M187 937h0M146 951h0M186 928h0M193 934h0M146 920h0M146 912h0M146 853h0M345 772h0M146 866h0M254 834h0M333 816h0M146 892h0M180 897h0M146 896h0M273 904h0M146 849h0M478 817h0M146 864h0M552 785h0M146 846h0M261 916h0M146 899h0M181 900h0M146 886h0M309 923h0M146 881h0M264 845h0M146 929h0M208 935h0M146 906h0M332 826h0M146 890h0M292 915h0M146 862h0M302 889h0M146 799h0M229 876h0M270 807h0M146 929h0M200 906h0M146 944h0M430 838h0M146 918h0M285 863h0M457 868h0M146 880h0M146 933h0M196 930h0M280 911h0M146 942h0M310 925h0M326 886h0M146 848h0M228 885h0M146 884h0M274 853h0M146 915h0M191 964h0M251 890h0M146 919h0M325 875h0M146 817h0M188 869h0M305 890h0M376 853h0M146 857h0M289 904h0M146 907h0M306 824h0M146 886h0M190 860h0M146 899h0M271 861h0M274 817h0M146 921h0M237 918h0M146 903h0M421 854h0M146 879h0M198 905h0M146 917h0M146 909h0M146 881h0M261 915h0M146 839h0M249 918h0M275 876h0M146 885h0M288 903h0M542 892h0M146 892h0M160 867h0M513 844h0M146 848h0M435 863h0M146 835h0M239 834h0M146 925h0M146 945h0M461 939h0M146 944h0M244 971h0M146 888h0M440 929h0M146 830h0M224 840h0M146 862h0M290 907h0M146 952h0M164 915h0M205 913h0M219 903h0M146 878h0M146 931h0M161 912h0M270 951h0M146 841h0M176 942h0M146 873h0M208 911h0M146 908h0M477 930h0M146 921h0M255 896h0M146 968h0M268 917h0M146 958h0M349 968h0M395 922h0M146 918h0M558 890h0M146 867h0M244 901h0M146 943h0M146 935h0M146 906h0M325 922h0M146 882h0M146 883h0M270 832h0M286 863h0M146 956h0M364 940h0M146 962h0M182 909h0M146 909h0M146 899h0M214 866h0M346 901h0M146 974h0M265 912h0M146 956h0M421 885h0M146 917h0M199 865h0M146 921h0M183 938h0M146 878h0M189 874h0M146 915h0M260 895h0M146 859h0M207 891h0M266 890h0M146 872h0M180 938h0M264 870h0M146 887h0M146 909h0M146 923h0M203 906h0M146 960h0M186 946h0M146 913h0M297 943h0M146 866h0M233 904h0M507 809h0M146 921h0M260 921h0M146 894h0M308 907h0M146 856h0M211 918h0M146 856h0M459 775h0M146 896h0M146 921h0M146 911h0M236 895h0M146 935h0M186 911h0M146 902h0M509 805h0M146 944h0M412 911h0M146 931h0M302 849h0M308 894h0M146 889h0M162 924h0M350 918h0M420 782h0M146 877h0M146 820h0M368 778h0M146 928h0M193 897h0M146 911h0M146 890h0M237 912h0M146 916h0M226 895h0M267 945h0M146 917h0M146 937h0M238 902h0M146 894h0M311 922h0M146 948h0M418 949h0M146 938h0M255 903h0M146 941h0M570 940h0M146 938h0M229 892h0M146 882h0M228 872h0M146 895h0M435 829h0M146 810h0M180 870h0M146 953h0M211 908h0M146 900h0M189 910h0M226 934h0M242 885h0M146 931h0M212 896h0M146 914h0M269 854h0M146 883h0M218 896h0M239 901h0M146 910h0M220 854h0M240 900h0M146 912h0M146 798h0M202 880h0M146 886h0M146 896h0M433 909h0M490 836h0M146 840h0M516 890h0M146 913h0M178 948h0M238 878h0M146 920h0M375 804h0M146 926h0M229 837h0M146 957h0M272 894h0M482 937h0M146 910h0M179 891h0M243 870h0M146 904h0M260 886h0M146 777h0M311 886h0M489 839h0M146 936h0M342 844h0M146 932h0M371 914h0M146 870h0M194 915h0M206 911h0M146 907h0M345 854h0M146 854h0M180 872h0M146 920h0M404 897h0M146 842h0M192 877h0M289 850h0M146 892h0M242 895h0M265 913h0M146 914h0M242 949h0M146 916h0M252 898h0M146 899h0M357 865h0M146 810h0M449 854h0M146 855h0M333 848h0M146 909h0M146 958h0M146 829h0M208 821h0M323 835h0M417 839h0M146 828h0M222 822h0M146 904h0M220 916h0M146 941h0M176 934h0M146 914h0M174 910h0M228 870h0M146 911h0M251 914h0M282 867h0M146 924h0M266 822h0M146 962h0M208 868h0M146 904h0M390 810h0M444 926h0M146 823h0M241 800h0M146 746h0M178 736h0M209 749h0M241 746h0M289 743h0M146 763h0M256 759h0M146 788h0M364 753h0M146 820h0M413 779h0M146 847h0M340 791h0M146 902h0M497 750h0M146 925h0M569 739h0M146 879h0M550 778h0M622 774h0M662 794h0M760 842h0M387 902h0M662 794h0M146 947h0M589 821h0M603 886h0M146 943h0M626 894h0M146 978h0M246 984h0M839 893h0M930 929h0M839 864h0M916 885h0M922 909h0M839 890h0M1076 838h0M839 928h0M878 924h0M1012 875h0M839 879h0M839 929h0M880 914h0M953 914h0M839 831h0M934 875h0M839 988h0M872 945h0M839 895h0M877 926h0M920 917h0M839 884h0M983 902h0M839 903h0M870 898h0M839 902h0M974 863h0M981 861h0M839 864h0M924 912h0M839 855h0M887 905h0M930 839h0M839 870h0M946 867h0M839 937h0M961 913h0M839 934h0M1074 863h0M839 878h0M855 890h0M839 844h0M992 877h0M839 828h0M934 850h0M839 813h0M1004 778h0M839 978h0M1219 798h0" stroke="#fe1e12" stroke-width="9.2" stroke-linecap="round" fill="none"/><path d="M146 898L170 928L184 868M146 839L256 769M146 944L530 868M146 855L169 937M146 920L183 858M146 913L382 899M146 872L424 878M146 972L155 943L180 908M146 910L229 815L278 896L357 873M146 908L167 840L285 905M146 842L487 894L567 920L734 877M146 810L584 850M146 959L341 910L376 864M146 907L165 866L286 926M146 985L255 978M146 886L197 861L205 905L207 892M146 846L249 880M146 910L267 915L489 928L565 895L589 916M146 880L262 886L284 872L317 889M146 942L169 913L187 855M146 920L340 916M146 885L227 922L396 870M146 925L301 881M146 923L258 888M146 834L483 850M146 798L166 875L178 861M146 821L236 874L524 878M146 956L223 883L244 920M146 991L543 895M146 895L198 832L243 908M146 933L256 958M146 930L302 903L363 916M146 939L541 897L603 920M146 913L173 885M146 927L314 891L368 920M146 910L637 930M146 897L250 906L420 853L525 886M146 888L307 872L465 878M146 842L392 907L653 833M146 922L165 860M146 867L301 856M146 807L248 902L360 868M146 937L216 901L514 920M146 845L490 854M146 829L241 820M146 860L188 805L438 903L544 850M146 948L190 970L217 971L266 918M146 958L254 974M146 920L209 957L235 964M146 846L327 830L508 859L579 853M146 899L158 956L218 955M146 910L250 889L252 904L275 897M146 927L270 978M146 832L189 826L304 827M146 911L606 923L621 879M146 905L273 910L344 888L574 910M146 857L196 883L345 903L616 917M146 996L303 886M146 830L241 897L536 824L569 904L612 892M146 868L156 904L165 839L236 912M146 896L644 880M146 874L381 862M146 838L481 822M146 860L291 919L310 873L352 915M146 907L179 902L257 850L362 930M146 841L571 904M146 836L536 884M146 942L165 916L625 916M146 789L283 871M146 872L221 915M146 843L176 866L221 905M146 883L195 876M146 915L179 854M146 931L415 917L631 928M146 859L173 774L218 878L469 824L578 882M146 933L190 938L270 920L276 943M146 937L265 983M146 927L633 868M146 924L156 924L212 875L245 878M146 848L156 853L221 874L235 866M146 877L285 908M146 981L247 961M146 933L282 939M146 877L265 909L272 965L400 974L468 936M146 977L272 950L623 940M146 889L260 871L540 829M146 889L431 806L551 905M146 970L210 963M146 832L163 837L196 833M146 950L170 944L201 966L221 958M146 887L240 898L291 895M146 921L412 923L419 882L459 903M146 869L231 836L237 870L293 812M146 952L319 912M146 871L189 896L575 857L589 869M146 820L164 810M146 921L218 904M146 818L234 799L304 810L366 814M146 885L391 917M146 852L157 917L168 850L253 925M146 883L275 880M146 842L331 944L589 953M146 945L220 935L287 927M146 947L451 945M146 906L189 881L250 899M146 946L300 903M146 910L489 908L650 866M146 908L355 957L475 861M146 865L612 927M146 933L206 906L412 812M146 905L232 828L417 879M146 861L361 875L688 882M146 912L193 930L219 929M146 946L212 944M146 888L234 851L583 886M146 906L283 890M146 784L286 837L352 876M146 865L177 901L202 920L220 851M146 968L233 906L363 942M146 939L165 947L172 890M146 833L211 888L403 879M146 848L349 831M146 936L277 896M146 792L165 811L182 857M146 877L187 883L290 949L355 890M146 935L175 951L293 938M146 878L460 874M146 881L432 883M146 913L180 926L211 903M146 942L227 965L328 886M146 820L273 862M146 940L525 840L530 916M146 933L193 985M146 888L297 898M146 878L368 887L432 904M146 939L301 854M146 909L163 880M146 925L384 963L523 850M146 943L379 920M146 925L376 914M146 860L199 816L303 851M146 959L323 942M146 898L298 886L322 918L488 956M146 917L178 893M146 827L229 749M146 874L284 856M146 917L230 938L486 932M146 875L347 856M146 950L304 940L429 855L488 930M146 993L227 942L357 936M146 883L227 792L286 901M146 906L538 872L619 929M146 909L196 889L217 836L324 928M146 855L189 800L281 819L326 833M146 850L171 871M146 873L189 948L313 907M146 895L289 942L407 799M146 920L353 943L457 960M146 955L185 976L243 903M146 875L250 907L251 937L304 898M146 913L380 857M146 882L416 938M146 911L171 969L185 926L271 945M146 891L168 923L174 940M146 836L567 875M146 887L165 878L196 953L247 890M146 965L160 932L190 938L234 983M146 936L282 890M146 892L315 872L429 901M146 973L459 913M146 912L249 910L267 904L375 913M146 912L197 957M146 837L171 944L199 895M146 950L631 890M146 843L368 826M146 980L162 956M146 996L312 921M146 920L174 957L325 947L386 929M146 920L411 888L554 908M146 921L253 955L301 935M146 927L426 884L525 918L647 913M146 882L476 906M146 840L217 844M146 846L172 884L175 801M146 838L199 890L281 855M146 941L205 991L219 922L243 968M146 960L220 914M146 962L388 926L445 921L544 913L652 952M146 915L207 927L223 923M146 922L337 900L340 902M146 852L316 921L321 867M146 851L493 853M146 919L177 934L178 912M146 931L351 920L409 928M146 939L296 934L333 917M146 848L402 921L487 887M146 874L177 935L240 891M146 910L207 927M146 781L214 858L296 828M146 861L359 920L376 848L405 865M146 813L156 882L165 841L427 881M146 914L574 908M146 788L235 873L263 827L695 866M146 961L207 914L304 937L324 910M146 875L180 883L647 867M146 895L315 896L443 926L668 940M146 926L247 910L289 867L331 963M146 873L230 852L280 900M146 902L163 920L308 907M146 942L472 912L488 923M146 898L540 917M146 854L482 914L712 844M146 885L394 869M146 899L268 882L340 950L345 899L486 897M146 897L179 966L227 894M146 958L339 952M146 933L225 875L239 929L260 913L302 870M146 917L166 872L206 927L260 921M146 942L371 911M146 898L259 889L279 876L450 831M146 927L196 888L223 938M146 870L392 849M146 919L451 876M146 844L227 911M146 888L316 895L387 943M146 937L547 909M146 819L535 920M146 935L172 930L289 989M146 900L216 858L301 915M146 923L270 901L329 925M146 834L254 875L268 884M146 837L458 851M146 841L410 862M146 843L206 851L208 867L288 788M146 937L270 941L315 944M146 814L190 873L193 851M146 921L162 925M146 859L465 872L474 855M146 958L210 951L282 978M146 952L179 904L200 897L223 969M146 888L166 861L181 870M146 797L167 865L175 851M146 880L299 925M146 922L430 915L552 929M146 934L210 925L242 926M146 919L202 936L410 921M146 901L173 911L249 878L261 955L262 810M146 934L185 908L457 876M146 884L190 895L217 912L226 875M146 963L240 955M146 870L385 901M146 925L279 953L300 921M146 908L178 824L224 964L304 932M146 902L185 921L198 889L214 912M146 925L384 874M146 813L512 721M146 915L176 880L232 977M146 966L436 917L563 895M146 990L363 982L419 939L446 981M146 881L242 892M146 953L160 943L200 938L202 899M146 873L593 911M146 926L466 962L501 928L516 909M146 917L475 895L517 874M146 898L367 852L505 906L515 887M146 797L416 855L449 801L452 875M146 845L158 818L165 859L207 862M146 910L535 855M146 834L301 906M146 847L167 901M146 775L199 784M146 966L346 986L463 938M146 920L383 867M146 873L282 779M146 915L297 847M146 879L340 837M146 864L225 856L334 909L395 908L496 826M146 870L546 899M146 905L544 902M146 881L167 871L274 878M146 923L188 934L188 951L276 945L315 924M146 907L246 936L553 871M146 904L197 866L246 853L289 931M146 874L230 860L287 864M146 912L165 897L184 905M146 965L211 983L230 960L278 948M146 912L652 925M146 938L173 941M146 887L229 831L345 875L371 907M146 876L196 802L209 911L402 933M146 976L162 966L195 947L198 953M146 886L225 918L520 908M146 857L185 885L474 931M146 876L168 897M146 834L302 867M146 882L233 859L275 944M146 929L178 852L184 870M146 970L282 984M146 890L235 880M146 899L290 890L343 857M146 896L224 946M146 838L256 902M146 903L500 929M146 829L157 851L190 865M146 946L494 868M146 901L432 890M146 911L188 958L298 899M146 936L169 897L238 921M146 909L163 866L194 873M146 874L178 841M146 991L164 955L384 958L460 956M146 921L565 913L620 898M146 989L243 937L280 929M146 811L376 725M146 936L360 910L379 904L449 967L574 916M146 874L589 897M146 909L322 880L602 922M146 882L324 863L344 937M146 879L158 894L411 873M146 935L294 903M146 902L209 850M146 937L172 914L222 953L283 869M146 937L178 913L527 948M146 943L164 917M146 803L194 817M146 870L205 810L232 819M146 957L206 883M146 902L515 900M146 944L199 891L295 928M146 973L454 939M146 822L231 798L289 811M146 932L695 893M146 898L244 858L319 848L338 903L371 946M146 846L247 869L360 833L394 884M146 891L199 961L420 929L510 887M146 831L580 919M146 804L217 815L341 819L389 818M146 942L175 971L186 899M146 976L171 914L189 932L227 955M146 944L217 962L372 876M146 954L258 909L297 926M146 900L185 945L210 941L242 977L356 919M146 900L251 927L494 929M146 918L188 939L189 920M146 904L168 864L263 947M146 913L598 916M146 907L213 907L525 888M146 936L244 947L267 861M146 905L368 895L469 912L571 875M146 886L179 865L239 907L288 827M146 834L369 807L592 880M146 849L162 881M146 821L350 874M146 882L168 875L172 868M146 923L318 903L347 901M146 875L340 855L484 866M146 820L252 873L326 878L658 890M146 915L266 932L341 845M146 875L315 851L367 831L595 886M146 955L166 958L176 950L231 920L258 929M146 876L349 873L555 837M146 996L531 976M146 852L196 952L199 894M146 936L628 860L640 915M146 986L227 931L460 977M146 957L235 956L275 979L370 955M146 819L224 776L454 813M146 805L174 774L212 791L217 867L279 926M146 839L290 913M146 918L158 934L186 972M146 864L386 935L424 823M146 969L169 916M146 780L294 738M146 996L185 984L204 921L248 964L269 956M146 786L162 810L292 868M146 912L166 916L175 919M146 864L370 904M146 853L165 878M146 848L231 919M146 913L279 898L368 971M146 912L308 903M146 910L454 936L467 904M146 919L422 951L584 936M146 911L295 843L658 890M146 833L401 828L510 865M146 848L172 965L288 899L296 892M146 960L372 953L448 961M146 840L287 844M146 867L449 884M146 965L202 989M146 841L554 845M146 973L255 957M146 895L162 837L332 879L505 905M146 852L635 916M146 946L266 896L402 946M146 877L159 807L174 843L202 859M146 938L176 919L237 935L275 990M146 884L259 906L568 897M146 909L217 896L266 850M146 833L419 908M146 905L214 896L244 867M146 880L210 841L322 932M146 880L245 933L272 888M146 909L287 910M146 981L196 968L201 861L297 922M146 926L206 921L304 939M146 874L268 886M146 910L489 877M146 883L197 957L327 926L342 906M146 840L220 850L232 885M146 940L186 906L196 905L234 865M146 874L693 907M146 996L197 862M146 961L344 975L469 952M146 950L385 947M146 911L278 908M146 818L211 816L267 876L292 807L352 856M146 882L385 894L441 882M146 859L283 912M146 922L284 874M146 991L635 961M146 845L319 885L644 904M146 941L162 927L568 904M146 809L158 853L191 803M146 957L343 923M146 847L171 914L191 859L205 859M146 920L253 918L552 937M146 976L191 957L288 949M146 950L455 927M146 931L570 884M146 901L189 944M146 857L156 833L240 841L293 806M146 890L206 903L253 841L295 908M146 893L219 854L278 902M146 886L182 856L353 887M146 876L445 849M146 880L165 908L349 891M146 938L162 955M146 804L448 852L610 844L620 865M146 960L206 872L680 897M146 940L623 897M146 952L166 974L244 939M146 882L440 931L500 931M146 929L180 942M146 910L691 887M146 876L240 898L259 853M146 964L209 927M146 842L242 894L250 806M146 787L194 790L200 796M146 964L160 909L263 927M146 892L199 921L208 885M146 826L173 848L234 835L277 802M146 884L283 842M146 897L199 916L226 850M146 965L206 958M146 919L169 964L189 912M146 915L175 834L368 911M146 900L174 897L362 879M146 931L251 905L289 875L301 903M146 942L616 900M146 877L222 862L249 906L402 845M146 858L172 880L184 778L278 914M146 898L192 903M146 924L236 882M146 828L281 853L356 841M146 836L381 828L640 913M146 928L224 932L420 888L592 929M146 881L717 886M146 788L168 828L266 794L285 829M146 859L411 781M146 888L190 895M146 911L180 859L181 925M146 861L186 926L270 912L280 851M146 914L513 936M146 933L385 921M146 876L229 926L334 901L520 828M146 913L207 883L222 896M146 835L543 862L649 874L660 893M146 897L283 922L381 851L447 875M146 868L426 861L533 902L610 830M146 964L426 877M146 882L274 883L278 846M146 904L369 913L527 959M146 788L224 771L243 800L276 817M146 943L168 869L298 927L364 853M146 909L172 913L496 884M146 967L655 923M146 805L504 869L550 854L574 893M146 849L241 980L487 886L590 902M146 988L171 977L193 994L230 992L237 992M146 832L188 841L243 875L276 874M146 838L182 844L617 861M146 876L495 903M146 872L541 918M146 917L233 946L341 914M146 854L161 821L198 872L258 887M146 882L481 921M146 846L179 892L439 900M146 922L566 913L733 900M146 925L158 887L172 932L250 925M146 929L306 910L352 879M146 888L167 957M146 860L395 819M146 828L491 894M146 911L282 929L283 964M146 901L396 834M146 858L271 880L392 860M146 867L181 914L216 817M146 922L186 947L249 925M146 929L562 975L627 897L639 939M146 940L299 874M146 891L478 934L571 855M146 785L237 788L256 825L278 729M146 845L343 946L530 892M146 877L197 904M146 907L198 857L214 918L215 874M146 960L177 951L349 910M146 895L271 943L286 857L463 864M146 936L167 886L499 927M146 889L156 904L226 902M146 871L402 869M146 952L396 958M146 898L219 960M146 798L158 835L464 854M146 964L214 981L280 934M146 955L338 939M146 797L523 815L542 826L627 854M146 824L594 877M146 965L431 968L497 917M146 912L672 878M146 923L176 872L267 901M146 915L272 870L475 867M146 910L191 808L552 896M146 920L185 860L197 916L199 957M146 711L254 688L276 649M146 723L254 705L350 694M146 765L364 718L444 695M250 788L453 709M341 779L457 696M432 765L441 724M432 756L516 710L530 697M432 774L513 771M491 774L526 767M596 786L600 888M614 847L648 805M637 870L694 847M676 861L678 881M614 906L754 905M614 920L755 935M660 929L765 945M569 956L728 957M146 1006L244 1001L341 984M478 965L589 975L602 969M839 944L895 913L947 858L1057 919M839 857L887 866L1078 783M839 954L865 940L1029 923L1051 909M839 900L945 851L1029 947M839 913L935 882M839 934L1017 926M839 892L1153 897M839 860L917 915L943 920M839 908L920 901L935 842L940 902M839 885L1069 871M839 955L940 949L965 893M839 947L873 989L942 929M839 943L947 954M839 903L855 864L1062 787M839 866L921 800M839 891L1003 859M839 948L1053 907M839 956L932 952M839 895L954 847M839 933L865 938L948 934M839 921L1019 891M839 924L899 940M839 841L854 851L1005 779M839 885L960 953M839 909L961 958M839 918L985 845L1008 867M839 852L982 851L998 916M839 924L885 879L954 861M839 952L883 950L988 896L1009 910M839 907L1072 910M839 975L1154 909M839 869L1063 899M839 946L930 912L936 923L949 921M839 891L852 873L859 894L939 803M839 852L850 895L958 887L1010 849M839 849L996 928M839 966L931 943M839 992L957 958M839 846L950 824M839 831L876 852L991 793M839 954L851 909L866 925M839 909L1137 911M839 878L894 876L991 931M839 828L856 900L939 916M839 956L984 955L1159 861M839 942L991 896M839 905L861 886L869 943M839 901L906 865L916 893M839 988L857 951L944 969L983 942M839 918L1150 935M839 871L965 952L986 911M839 992L942 941L970 979L1018 975M839 970L979 918L986 919L1075 870M839 915L901 890M839 956L925 882L980 924M839 867L858 930L991 898L1013 870M839 910L922 941M839 916L927 925M839 913L860 897L920 876L988 908M839 931L993 955M839 909L979 887M839 934L871 890L937 884M839 872L871 908L949 839M839 992L933 983M839 915L888 900L995 894M839 924L878 900L955 887M839 936L993 919L1040 913M839 881L1038 814M839 819L1055 912M839 894L863 854L934 894M839 859L872 919L887 942M839 888L1054 845M839 918L932 938M839 956L1000 941M839 890L1026 936M839 903L890 884L929 866L946 907M839 832L875 825M839 952L866 947M839 864L908 907L964 887M839 874L898 872L1135 845M839 950L869 900L889 895M839 927L923 880L933 850M839 867L855 881L881 923M839 822L996 800L996 921M839 923L921 936L934 922L941 919M839 969L900 986M839 906L1060 885M839 895L1103 894M839 960L998 928L1140 926M839 950L849 972L870 917M839 918L851 906L997 936M839 878L982 870M839 961L859 884L872 853M839 794L869 858L887 797M839 866L860 862L928 834M839 947L1110 900M839 947L881 882L924 944M839 873L938 908M839 857L1100 938M839 948L1054 944L1095 934M839 929L1149 907M839 905L891 917L972 922M839 928L890 906M839 872L863 868L967 911M839 931L885 953L1066 917M839 879L871 940L884 920L935 937M839 849L1150 856M839 933L895 967L931 965M839 859L1004 817M839 860L951 887L1069 890M839 772L943 831M943 831L1030 705M839 829L1021 742L1040 733M839 843L1140 727M1034 865L1140 733M839 825L1034 772L1139 765L1192 754M839 865L1030 817L1136 798L1227 764L1288 724L1359 732M839 856L1096 810L1159 897M1034 902L1205 825M839 947L1118 949L1171 953L1373 951M839 993L1082 990M852 947L906 1051L975 943M839 902L1316 901L1385 892M839 925L1293 913L1359 887M1162 902L1269 925M839 893L1225 878L1289 862M1030 884L1303 885M839 911L1237 902M839 920L1157 925" stroke="#aaaaaa" stroke-width="1.9" stroke-linejoin="round" fill="none"/><path d="M146 921L276 914L481 894M146 901L171 882L231 898M146 959L551 859M146 929L263 843M146 913L211 925L222 822M146 875L221 882M146 848L323 843M146 769L195 763L250 786M146 912L225 914M146 903L419 940M146 911L278 892M146 886L172 904L203 856M146 925L160 865L233 932M146 938L286 838M146 889L209 860L215 761M146 868L240 877M146 894L289 908M146 831L228 925L232 933M146 885L392 891M146 890L253 890M146 897L240 894M146 917L189 826L215 894M146 885L187 867L195 897M146 938L302 895M146 901L533 910M146 930L186 890M146 907L205 904M146 857L273 883M146 878L200 869M146 957L255 945M146 928L244 909M146 927L312 886M146 865L236 897M146 863L241 901M146 904L273 927M146 912L252 912L272 883M146 953L158 940L301 968M146 869L203 851M146 927L212 904M146 938L514 941M146 935L177 944M146 860L276 848M146 908L360 915L382 851L408 857M146 835L252 806M146 928L228 884M146 938L246 971L279 922M146 879L254 908L272 903M146 922L182 898L194 880M146 877L286 920M146 905L157 848L243 855L307 930M146 895L187 937M146 951L186 928L193 934M146 853L345 772M146 866L254 834L333 816M146 892L180 897M146 896L273 904M146 849L478 817M146 864L552 785M146 846L261 916M146 899L181 900M146 886L309 923M146 881L264 845M146 929L208 935M146 906L332 826M146 890L292 915M146 862L302 889M146 799L229 876L270 807M146 929L200 906M146 944L430 838M146 918L285 863L457 868M146 933L196 930L280 911M146 942L310 925L326 886M146 848L228 885M146 884L274 853M146 915L191 964L251 890M146 919L325 875M146 817L188 869L305 890L376 853M146 857L289 904M146 907L306 824M146 886L190 860M146 899L271 861L274 817M146 921L237 918M146 903L421 854M146 879L198 905M146 881L261 915M146 839L249 918L275 876M146 885L288 903L542 892M146 892L160 867L513 844M146 848L435 863M146 835L239 834M146 945L461 939M146 944L244 971M146 888L440 929M146 830L224 840M146 862L290 907M146 952L164 915L205 913L219 903M146 931L161 912L270 951M146 841L176 942M146 873L208 911M146 908L477 930M146 921L255 896M146 968L268 917M146 958L349 968L395 922M146 918L558 890M146 867L244 901M146 906L325 922M146 883L270 832L286 863M146 956L364 940M146 962L182 909M146 899L214 866L346 901M146 974L265 912M146 956L421 885M146 917L199 865M146 921L183 938M146 878L189 874M146 915L260 895M146 859L207 891L266 890M146 872L180 938L264 870M146 923L203 906M146 960L186 946M146 913L297 943M146 866L233 904L507 809M146 921L260 921M146 894L308 907M146 856L211 918M146 856L459 775M146 911L236 895M146 935L186 911M146 902L509 805M146 944L412 911M146 931L302 849L308 894M146 889L162 924L350 918L420 782M146 820L368 778M146 928L193 897M146 890L237 912M146 916L226 895L267 945M146 937L238 902M146 894L311 922M146 948L418 949M146 938L255 903M146 941L570 940M146 938L229 892M146 882L228 872M146 895L435 829M146 810L180 870M146 953L211 908M146 900L189 910L226 934L242 885M146 931L212 896M146 914L269 854M146 883L218 896L239 901M146 910L220 854L240 900M146 798L202 880M146 896L433 909L490 836M146 840L516 890M146 913L178 948L238 878M146 920L375 804M146 926L229 837M146 957L272 894L482 937M146 910L179 891L243 870M146 904L260 886M146 777L311 886L489 839M146 936L342 844M146 932L371 914M146 870L194 915L206 911M146 907L345 854M146 854L180 872M146 920L404 897M146 842L192 877L289 850M146 892L242 895L265 913M146 914L242 949M146 916L252 898M146 899L357 865M146 810L449 854M146 855L333 848M146 829L208 821L323 835L417 839M146 828L222 822M146 904L220 916M146 941L176 934M146 914L174 910L228 870M146 911L251 914L282 867M146 924L266 822M146 962L208 868M146 904L390 810L444 926M146 823L241 800M146 746L178 736L209 749L241 746L289 743M146 763L256 759M146 788L364 753M146 820L413 779M146 847L340 791M146 902L497 750M146 925L569 739M146 879L550 778L622 774L662 794L760 842M387 902L662 794M146 947L589 821L603 886M146 943L626 894M146 978L246 984M839 893L930 929M839 864L916 885L922 909M839 890L1076 838M839 928L878 924L1012 875M839 929L880 914L953 914M839 831L934 875M839 988L872 945M839 895L877 926L920 917M839 884L983 902M839 903L870 898M839 902L974 863L981 861M839 864L924 912M839 855L887 905L930 839M839 870L946 867M839 937L961 913M839 934L1074 863M839 878L855 890M839 844L992 877M839 828L934 850M839 813L1004 778M839 978L1219 798" stroke="#fe1e12" stroke-width="1.9" stroke-linejoin="round" fill="none"/><path d="M146 1511h0M146 1498h0M170 1496h0M184 1472h0M146 1411h0M256 1377h0M146 1500h0M530 1464h0M146 1458h0M169 1518h0M146 1474h0M183 1440h0M146 1506h0M382 1502h0M146 1458h0M424 1466h0M146 1545h0M155 1524h0M180 1501h0M146 1468h0M229 1420h0M278 1437h0M357 1448h0M146 1495h0M167 1432h0M285 1521h0M146 1451h0M487 1473h0M567 1501h0M734 1456h0M146 1435h0M146 1515h0M341 1487h0M376 1451h0M146 1503h0M165 1475h0M286 1498h0M146 1581h0M255 1546h0M146 1501h0M197 1446h0M205 1507h0M207 1446h0M146 1417h0M249 1432h0M146 1497h0M267 1499h0M489 1508h0M565 1485h0M589 1475h0M146 1531h0M146 1479h0M262 1476h0M284 1473h0M317 1444h0M146 1538h0M146 1528h0M169 1497h0M187 1446h0M146 1506h0M340 1497h0M146 1479h0M227 1496h0M396 1460h0M146 1504h0M301 1475h0M146 1530h0M258 1488h0M146 1419h0M483 1435h0M146 1416h0M166 1444h0M178 1437h0M146 1441h0M236 1505h0M524 1460h0M146 1531h0M223 1451h0M244 1521h0M146 1555h0M543 1487h0M146 1467h0M198 1387h0M243 1469h0M146 1537h0M256 1533h0M146 1510h0M302 1496h0M363 1504h0M146 1506h0M541 1468h0M603 1505h0M146 1485h0M173 1477h0M146 1507h0M314 1478h0M368 1506h0M146 1509h0M637 1521h0M146 1495h0M250 1480h0M420 1439h0M525 1470h0M146 1474h0M307 1472h0M465 1448h0M146 1441h0M392 1496h0M653 1420h0M146 1503h0M146 1487h0M165 1478h0M146 1440h0M301 1434h0M146 1414h0M248 1445h0M360 1449h0M146 1521h0M216 1465h0M514 1496h0M146 1401h0M490 1432h0M146 1418h0M241 1400h0M146 1463h0M188 1438h0M438 1493h0M544 1438h0M146 1545h0M190 1536h0M217 1574h0M266 1490h0M146 1551h0M254 1571h0M146 1522h0M209 1531h0M235 1545h0M146 1409h0M327 1398h0M508 1437h0M579 1443h0M146 1510h0M158 1552h0M218 1518h0M146 1512h0M250 1472h0M252 1501h0M275 1505h0M146 1525h0M270 1520h0M146 1418h0M189 1400h0M304 1395h0M146 1501h0M606 1515h0M621 1452h0M146 1492h0M273 1479h0M344 1494h0M574 1500h0M146 1464h0M196 1446h0M345 1502h0M616 1489h0M146 1549h0M303 1498h0M146 1420h0M241 1460h0M536 1403h0M569 1468h0M612 1467h0M146 1460h0M156 1472h0M165 1408h0M236 1497h0M146 1424h0M146 1438h0M644 1475h0M146 1457h0M381 1502h0M146 1499h0M146 1430h0M481 1409h0M146 1524h0M146 1506h0M146 1447h0M291 1480h0M310 1447h0M352 1497h0M146 1515h0M179 1505h0M257 1433h0M362 1509h0M146 1406h0M571 1463h0M146 1413h0M536 1472h0M146 1528h0M165 1524h0M625 1503h0M146 1391h0M283 1438h0M146 1475h0M221 1500h0M146 1451h0M176 1466h0M221 1485h0M146 1461h0M195 1437h0M146 1496h0M179 1458h0M146 1507h0M415 1521h0M631 1496h0M146 1431h0M173 1352h0M218 1474h0M469 1408h0M578 1463h0M146 1522h0M190 1533h0M270 1511h0M276 1523h0M146 1545h0M265 1564h0M146 1496h0M633 1440h0M146 1507h0M156 1516h0M212 1469h0M245 1489h0M146 1426h0M156 1394h0M221 1440h0M235 1472h0M146 1470h0M285 1487h0M146 1560h0M247 1552h0M146 1529h0M282 1528h0M146 1494h0M265 1504h0M272 1556h0M400 1527h0M468 1483h0M146 1556h0M272 1555h0M623 1532h0M146 1447h0M260 1398h0M540 1432h0M146 1441h0M431 1393h0M551 1479h0M146 1559h0M210 1541h0M146 1446h0M163 1414h0M196 1436h0M146 1550h0M170 1539h0M201 1570h0M221 1528h0M146 1463h0M240 1484h0M291 1467h0M146 1518h0M412 1499h0M419 1489h0M459 1488h0M146 1458h0M231 1440h0M237 1469h0M293 1429h0M146 1537h0M319 1518h0M146 1446h0M189 1493h0M575 1428h0M589 1445h0M146 1437h0M164 1407h0M146 1509h0M218 1486h0M146 1397h0M234 1400h0M304 1392h0M366 1400h0M146 1485h0M391 1484h0M146 1443h0M157 1501h0M168 1426h0M253 1490h0M146 1473h0M275 1449h0M146 1467h0M331 1504h0M589 1518h0M146 1514h0M220 1521h0M287 1489h0M146 1536h0M451 1529h0M146 1449h0M189 1481h0M250 1489h0M146 1528h0M300 1493h0M146 1525h0M489 1472h0M650 1450h0M146 1515h0M355 1523h0M475 1446h0M146 1473h0M612 1486h0M146 1417h0M146 1506h0M206 1507h0M412 1432h0M146 1470h0M232 1449h0M417 1488h0M146 1427h0M361 1456h0M688 1463h0M146 1507h0M193 1522h0M219 1513h0M146 1543h0M212 1534h0M146 1463h0M234 1461h0M583 1478h0M146 1516h0M283 1483h0M146 1392h0M286 1399h0M352 1475h0M146 1469h0M146 1468h0M177 1479h0M202 1474h0M220 1430h0M146 1540h0M233 1499h0M363 1531h0M146 1504h0M165 1538h0M172 1487h0M146 1403h0M211 1420h0M403 1457h0M146 1437h0M349 1440h0M146 1522h0M277 1507h0M146 1389h0M165 1378h0M182 1456h0M146 1500h0M187 1484h0M290 1503h0M355 1449h0M146 1514h0M175 1539h0M293 1531h0M146 1468h0M460 1446h0M146 1446h0M432 1479h0M146 1520h0M180 1523h0M211 1522h0M146 1509h0M227 1536h0M328 1491h0M146 1405h0M273 1461h0M146 1519h0M525 1417h0M530 1492h0M146 1531h0M193 1556h0M146 1476h0M297 1490h0M146 1461h0M368 1447h0M432 1489h0M146 1515h0M301 1459h0M146 1493h0M163 1470h0M146 1489h0M384 1539h0M523 1429h0M146 1521h0M379 1534h0M146 1489h0M376 1513h0M146 1426h0M199 1446h0M303 1425h0M146 1519h0M323 1512h0M146 1515h0M298 1476h0M322 1497h0M488 1545h0M146 1489h0M178 1497h0M146 1372h0M229 1350h0M146 1435h0M284 1421h0M146 1502h0M230 1521h0M486 1519h0M146 1460h0M347 1442h0M146 1519h0M304 1520h0M429 1468h0M488 1521h0M146 1575h0M227 1546h0M357 1515h0M146 1450h0M227 1422h0M286 1490h0M146 1493h0M538 1463h0M619 1489h0M146 1503h0M196 1482h0M217 1468h0M324 1531h0M146 1438h0M189 1415h0M281 1418h0M326 1430h0M146 1431h0M171 1468h0M146 1482h0M189 1564h0M313 1504h0M146 1527h0M289 1545h0M407 1401h0M146 1495h0M353 1512h0M457 1516h0M146 1543h0M185 1557h0M243 1515h0M146 1461h0M250 1493h0M251 1520h0M304 1461h0M146 1465h0M380 1424h0M146 1494h0M416 1496h0M146 1515h0M171 1572h0M185 1518h0M271 1550h0M146 1479h0M168 1511h0M174 1508h0M146 1403h0M567 1448h0M146 1466h0M165 1490h0M196 1536h0M247 1466h0M146 1517h0M160 1502h0M190 1521h0M234 1551h0M146 1538h0M282 1484h0M146 1451h0M315 1420h0M429 1479h0M146 1546h0M459 1513h0M146 1501h0M249 1513h0M267 1455h0M375 1493h0M146 1490h0M197 1533h0M146 1439h0M171 1529h0M199 1460h0M146 1517h0M631 1479h0M146 1443h0M368 1415h0M146 1535h0M162 1549h0M146 1581h0M312 1507h0M146 1507h0M174 1524h0M325 1537h0M386 1502h0M146 1516h0M411 1485h0M554 1499h0M146 1522h0M253 1531h0M301 1533h0M146 1514h0M426 1461h0M525 1485h0M647 1498h0M146 1499h0M476 1472h0M146 1430h0M217 1402h0M146 1446h0M172 1435h0M175 1413h0M146 1450h0M199 1486h0M281 1452h0M146 1540h0M205 1567h0M219 1504h0M243 1549h0M146 1540h0M220 1488h0M146 1465h0M146 1532h0M388 1508h0M445 1503h0M544 1515h0M652 1535h0M146 1536h0M146 1452h0M146 1514h0M207 1510h0M223 1517h0M146 1407h0M146 1508h0M337 1477h0M340 1504h0M146 1477h0M316 1502h0M321 1457h0M146 1442h0M493 1449h0M146 1508h0M177 1505h0M178 1461h0M146 1497h0M351 1489h0M409 1506h0M146 1504h0M296 1508h0M333 1509h0M146 1446h0M402 1496h0M487 1459h0M146 1462h0M177 1519h0M240 1477h0M146 1509h0M207 1510h0M146 1374h0M214 1449h0M296 1411h0M146 1426h0M359 1506h0M376 1415h0M405 1436h0M146 1424h0M156 1441h0M165 1425h0M427 1460h0M146 1455h0M146 1366h0M235 1448h0M263 1399h0M695 1453h0M146 1540h0M207 1512h0M304 1537h0M324 1491h0M146 1478h0M180 1466h0M647 1474h0M146 1465h0M146 1498h0M315 1492h0M443 1501h0M668 1529h0M146 1524h0M247 1501h0M289 1477h0M331 1536h0M146 1456h0M146 1539h0M146 1456h0M230 1466h0M280 1483h0M146 1581h0M146 1492h0M163 1501h0M308 1505h0M146 1525h0M472 1488h0M488 1503h0M146 1510h0M146 1488h0M540 1488h0M146 1430h0M482 1502h0M712 1426h0M146 1447h0M394 1442h0M146 1483h0M268 1453h0M340 1525h0M345 1493h0M486 1495h0M146 1432h0M146 1492h0M179 1538h0M227 1461h0M146 1519h0M339 1529h0M146 1411h0M146 1528h0M225 1496h0M239 1527h0M260 1508h0M302 1487h0M146 1509h0M166 1464h0M206 1520h0M260 1495h0M146 1527h0M371 1507h0M146 1479h0M259 1480h0M279 1486h0M450 1452h0M146 1514h0M196 1504h0M223 1508h0M146 1446h0M392 1470h0M146 1503h0M451 1487h0M146 1446h0M227 1474h0M146 1383h0M146 1481h0M316 1470h0M387 1542h0M146 1520h0M547 1498h0M146 1420h0M535 1494h0M146 1528h0M172 1513h0M289 1574h0M146 1487h0M216 1415h0M301 1487h0M146 1456h0M146 1455h0M146 1489h0M270 1500h0M329 1463h0M146 1436h0M254 1442h0M268 1443h0M146 1396h0M458 1452h0M146 1427h0M410 1457h0M146 1436h0M206 1449h0M208 1438h0M288 1407h0M146 1511h0M270 1529h0M315 1560h0M146 1410h0M190 1433h0M193 1425h0M146 1517h0M162 1514h0M146 1451h0M465 1436h0M474 1445h0M146 1476h0M146 1561h0M210 1531h0M282 1551h0M146 1541h0M179 1514h0M200 1503h0M223 1564h0M146 1468h0M166 1471h0M181 1441h0M146 1379h0M167 1436h0M175 1403h0M146 1482h0M299 1494h0M146 1496h0M430 1499h0M552 1506h0M146 1507h0M146 1505h0M210 1544h0M242 1548h0M146 1498h0M202 1499h0M410 1504h0M146 1467h0M173 1507h0M249 1470h0M261 1528h0M262 1417h0M146 1531h0M185 1489h0M457 1473h0M146 1512h0M146 1511h0M190 1490h0M217 1494h0M226 1467h0M146 1550h0M240 1528h0M146 1488h0M385 1513h0M146 1529h0M279 1513h0M300 1519h0M146 1464h0M178 1430h0M224 1533h0M304 1500h0M146 1474h0M185 1513h0M198 1475h0M214 1489h0M146 1512h0M384 1479h0M146 1387h0M512 1318h0M146 1496h0M176 1454h0M232 1561h0M146 1551h0M436 1510h0M563 1468h0M146 1581h0M363 1563h0M419 1531h0M446 1566h0M146 1493h0M242 1487h0M146 1559h0M160 1547h0M200 1541h0M202 1464h0M146 1470h0M593 1497h0M146 1511h0M466 1541h0M501 1479h0M516 1446h0M146 1482h0M146 1505h0M475 1459h0M517 1457h0M146 1485h0M367 1435h0M505 1475h0M515 1468h0M146 1393h0M416 1410h0M449 1404h0M452 1453h0M146 1412h0M158 1439h0M165 1421h0M207 1435h0M146 1562h0M146 1467h0M535 1452h0M146 1460h0M301 1476h0M146 1419h0M167 1490h0M146 1350h0M199 1349h0M146 1556h0M346 1571h0M463 1520h0M146 1481h0M383 1451h0M146 1419h0M282 1372h0M146 1505h0M297 1442h0M146 1465h0M340 1403h0M146 1466h0M225 1466h0M334 1478h0M395 1495h0M496 1417h0M146 1422h0M546 1453h0M146 1484h0M544 1478h0M146 1383h0M146 1552h0M146 1470h0M167 1439h0M274 1448h0M146 1511h0M188 1514h0M188 1539h0M276 1521h0M315 1499h0M146 1500h0M246 1499h0M553 1469h0M146 1469h0M197 1477h0M246 1441h0M289 1510h0M146 1482h0M230 1459h0M287 1452h0M146 1499h0M165 1513h0M184 1491h0M146 1375h0M146 1563h0M211 1560h0M230 1561h0M278 1534h0M146 1515h0M652 1517h0M146 1400h0M146 1548h0M173 1527h0M146 1500h0M146 1466h0M229 1443h0M345 1415h0M371 1479h0M146 1450h0M196 1382h0M209 1483h0M402 1531h0M146 1555h0M162 1542h0M195 1533h0M198 1539h0M146 1456h0M225 1490h0M520 1482h0M146 1461h0M185 1453h0M474 1480h0M146 1457h0M168 1461h0M146 1449h0M302 1466h0M146 1510h0M233 1455h0M275 1513h0M146 1515h0M178 1483h0M184 1464h0M146 1562h0M282 1539h0M146 1477h0M235 1504h0M146 1451h0M290 1506h0M343 1443h0M146 1498h0M224 1513h0M146 1397h0M256 1450h0M146 1493h0M500 1508h0M146 1419h0M157 1443h0M190 1430h0M146 1528h0M494 1483h0M146 1498h0M432 1470h0M146 1491h0M188 1519h0M298 1474h0M146 1494h0M169 1482h0M238 1508h0M146 1486h0M163 1473h0M194 1472h0M146 1473h0M178 1409h0M146 1485h0M146 1474h0M146 1562h0M164 1526h0M384 1544h0M460 1529h0M146 1492h0M565 1498h0M620 1464h0M146 1559h0M243 1522h0M280 1481h0M146 1404h0M376 1333h0M146 1517h0M360 1503h0M379 1496h0M449 1546h0M574 1509h0M146 1460h0M146 1514h0M322 1494h0M602 1529h0M146 1458h0M146 1475h0M324 1457h0M344 1528h0M146 1496h0M158 1467h0M411 1477h0M146 1533h0M146 1505h0M294 1504h0M146 1495h0M209 1442h0M146 1532h0M172 1514h0M222 1516h0M283 1449h0M146 1535h0M178 1499h0M527 1537h0M146 1564h0M146 1460h0M146 1510h0M164 1510h0M146 1378h0M194 1421h0M146 1427h0M205 1412h0M232 1407h0M146 1533h0M206 1509h0M146 1492h0M515 1486h0M146 1512h0M199 1451h0M295 1519h0M146 1577h0M454 1533h0M146 1380h0M231 1401h0M289 1409h0M146 1508h0M695 1482h0M146 1483h0M244 1495h0M319 1448h0M338 1490h0M371 1515h0M146 1400h0M247 1432h0M360 1409h0M394 1474h0M146 1521h0M199 1535h0M420 1522h0M510 1482h0M146 1469h0M580 1506h0M146 1407h0M217 1417h0M341 1441h0M389 1410h0M146 1532h0M175 1556h0M186 1484h0M146 1567h0M171 1504h0M189 1530h0M227 1553h0M146 1469h0M146 1520h0M146 1531h0M217 1520h0M372 1468h0M146 1526h0M258 1505h0M297 1513h0M146 1493h0M185 1530h0M210 1504h0M242 1551h0M356 1480h0M146 1500h0M251 1490h0M494 1525h0M146 1508h0M188 1550h0M189 1492h0M146 1491h0M168 1442h0M263 1498h0M146 1499h0M598 1519h0M146 1441h0M213 1448h0M525 1492h0M146 1495h0M244 1528h0M267 1479h0M146 1478h0M368 1479h0M469 1501h0M571 1456h0M146 1467h0M179 1473h0M239 1497h0M288 1416h0M146 1412h0M369 1420h0M592 1455h0M146 1442h0M162 1472h0M146 1397h0M350 1450h0M146 1481h0M168 1455h0M172 1447h0M146 1513h0M318 1472h0M347 1469h0M146 1458h0M146 1448h0M146 1465h0M340 1425h0M484 1451h0M146 1575h0M146 1423h0M252 1380h0M326 1379h0M146 1495h0M266 1515h0M341 1456h0M146 1459h0M315 1429h0M367 1439h0M595 1453h0M146 1537h0M166 1553h0M176 1517h0M231 1510h0M258 1491h0M146 1474h0M349 1469h0M555 1407h0M146 1581h0M531 1561h0M146 1432h0M196 1521h0M199 1481h0M146 1526h0M628 1471h0M640 1490h0M146 1569h0M227 1531h0M460 1565h0M146 1548h0M235 1534h0M275 1553h0M370 1531h0M146 1388h0M224 1376h0M454 1413h0M146 1512h0M146 1398h0M174 1343h0M212 1383h0M217 1454h0M279 1532h0M146 1459h0M290 1489h0M146 1504h0M158 1495h0M186 1547h0M146 1469h0M386 1523h0M424 1415h0M146 1551h0M169 1505h0M146 1373h0M294 1316h0M146 1574h0M185 1569h0M204 1515h0M248 1535h0M269 1531h0M146 1400h0M162 1372h0M292 1429h0M146 1480h0M146 1454h0M166 1495h0M175 1495h0M146 1481h0M370 1502h0M146 1493h0M146 1438h0M165 1453h0M146 1461h0M231 1505h0M146 1504h0M279 1488h0M368 1532h0M146 1479h0M308 1489h0M146 1508h0M454 1506h0M467 1493h0M146 1501h0M422 1531h0M584 1499h0M146 1554h0M146 1493h0M295 1445h0M658 1473h0M146 1432h0M401 1428h0M510 1463h0M146 1454h0M146 1490h0M172 1519h0M288 1469h0M296 1485h0M146 1543h0M372 1521h0M448 1563h0M146 1455h0M287 1445h0M146 1446h0M146 1484h0M449 1492h0M146 1550h0M146 1553h0M202 1578h0M146 1437h0M554 1448h0M146 1549h0M255 1535h0M146 1474h0M162 1442h0M332 1462h0M505 1479h0M146 1459h0M635 1501h0M146 1513h0M266 1486h0M402 1533h0M146 1466h0M159 1441h0M174 1431h0M202 1436h0M146 1576h0M146 1516h0M176 1504h0M237 1516h0M275 1561h0M146 1467h0M259 1507h0M568 1476h0M146 1477h0M217 1476h0M266 1442h0M146 1411h0M419 1486h0M146 1490h0M214 1462h0M244 1481h0M146 1423h0M210 1439h0M322 1502h0M146 1478h0M245 1504h0M272 1462h0M146 1484h0M287 1517h0M146 1544h0M196 1550h0M201 1466h0M297 1498h0M146 1498h0M146 1390h0M146 1502h0M206 1519h0M304 1523h0M146 1449h0M268 1464h0M146 1486h0M489 1474h0M146 1505h0M197 1529h0M327 1490h0M342 1512h0M146 1504h0M146 1421h0M220 1420h0M232 1460h0M146 1527h0M186 1512h0M196 1494h0M234 1488h0M146 1468h0M693 1471h0M146 1540h0M197 1484h0M146 1560h0M344 1551h0M469 1539h0M146 1534h0M385 1520h0M146 1523h0M278 1501h0M146 1371h0M211 1389h0M267 1467h0M292 1398h0M352 1433h0M146 1483h0M385 1479h0M441 1470h0M146 1458h0M283 1482h0M146 1462h0M284 1471h0M146 1579h0M635 1544h0M146 1411h0M319 1444h0M644 1494h0M146 1518h0M162 1504h0M568 1507h0M146 1398h0M158 1425h0M191 1393h0M146 1520h0M343 1490h0M146 1446h0M171 1503h0M191 1431h0M205 1455h0M146 1509h0M253 1504h0M552 1519h0M146 1525h0M191 1547h0M288 1522h0M146 1493h0M455 1301h0M146 1493h0M570 1468h0M146 1480h0M189 1516h0M146 1450h0M156 1432h0M240 1431h0M293 1373h0M146 1479h0M206 1487h0M253 1434h0M295 1486h0M146 1458h0M219 1435h0M278 1490h0M146 1461h0M182 1438h0M353 1459h0M146 1483h0M445 1457h0M146 1466h0M165 1449h0M349 1479h0M146 1424h0M162 1407h0M146 1379h0M448 1406h0M610 1415h0M620 1444h0M146 1536h0M206 1434h0M680 1470h0M146 1506h0M623 1480h0M146 1524h0M166 1536h0M244 1511h0M146 1473h0M440 1491h0M500 1514h0M146 1526h0M180 1540h0M146 1494h0M691 1472h0M146 1451h0M240 1480h0M259 1467h0M146 1450h0M146 1556h0M209 1535h0M146 1462h0M242 1480h0M250 1394h0M146 1380h0M194 1359h0M200 1393h0M146 1555h0M160 1515h0M263 1499h0M146 1506h0M199 1488h0M208 1480h0M146 1406h0M173 1428h0M234 1405h0M277 1406h0M146 1433h0M283 1455h0M146 1493h0M199 1489h0M226 1451h0M146 1511h0M146 1526h0M146 1550h0M206 1562h0M146 1495h0M169 1549h0M189 1483h0M146 1463h0M175 1434h0M368 1484h0M146 1499h0M174 1492h0M362 1461h0M146 1504h0M251 1486h0M289 1488h0M301 1505h0M146 1527h0M616 1498h0M146 1467h0M222 1454h0M249 1480h0M402 1454h0M146 1473h0M172 1474h0M184 1375h0M278 1495h0M146 1475h0M192 1492h0M146 1525h0M236 1479h0M146 1456h0M281 1436h0M356 1421h0M146 1439h0M381 1434h0M640 1502h0M146 1507h0M224 1496h0M420 1449h0M592 1510h0M146 1481h0M717 1478h0M146 1392h0M168 1415h0M266 1379h0M285 1437h0M146 1457h0M411 1375h0M146 1487h0M190 1489h0M146 1485h0M180 1460h0M181 1499h0M146 1460h0M186 1523h0M270 1478h0M280 1433h0M146 1512h0M513 1512h0M146 1515h0M385 1503h0M146 1456h0M229 1482h0M334 1493h0M520 1423h0M146 1476h0M207 1423h0M222 1460h0M146 1422h0M543 1482h0M649 1450h0M660 1467h0M146 1468h0M146 1456h0M283 1485h0M381 1400h0M447 1452h0M146 1468h0M426 1453h0M533 1440h0M610 1407h0M146 1522h0M146 1460h0M146 1522h0M426 1462h0M146 1463h0M146 1460h0M274 1475h0M278 1449h0M146 1521h0M369 1508h0M527 1541h0M146 1372h0M224 1368h0M243 1385h0M276 1433h0M146 1503h0M168 1451h0M298 1501h0M364 1456h0M146 1499h0M172 1504h0M496 1462h0M146 1523h0M655 1508h0M146 1428h0M504 1436h0M550 1424h0M574 1438h0M146 1470h0M241 1547h0M487 1476h0M590 1489h0M146 1581h0M171 1545h0M193 1578h0M230 1577h0M237 1576h0M146 1467h0M188 1402h0M243 1455h0M276 1451h0M146 1446h0M182 1430h0M617 1461h0M146 1457h0M495 1464h0M146 1498h0M541 1483h0M146 1516h0M233 1517h0M341 1499h0M146 1435h0M161 1420h0M198 1452h0M258 1474h0M146 1493h0M481 1511h0M146 1459h0M179 1456h0M439 1465h0M146 1394h0M146 1519h0M158 1509h0M172 1499h0M250 1493h0M146 1514h0M306 1516h0M352 1487h0M146 1510h0M167 1529h0M146 1429h0M395 1428h0M146 1440h0M491 1494h0M146 1527h0M146 1531h0M282 1522h0M283 1532h0M146 1458h0M396 1389h0M146 1466h0M271 1469h0M392 1410h0M146 1444h0M181 1481h0M216 1413h0M146 1506h0M186 1510h0M249 1513h0M146 1533h0M562 1548h0M627 1497h0M639 1523h0M146 1524h0M299 1453h0M146 1467h0M478 1508h0M571 1418h0M146 1361h0M237 1372h0M256 1399h0M278 1371h0M146 1493h0M146 1461h0M343 1535h0M530 1464h0M146 1472h0M197 1473h0M146 1493h0M198 1457h0M214 1511h0M215 1464h0M146 1533h0M177 1531h0M349 1448h0M146 1483h0M271 1523h0M286 1435h0M463 1446h0M146 1520h0M167 1521h0M499 1523h0M146 1488h0M156 1487h0M226 1488h0M146 1513h0M146 1473h0M402 1466h0M146 1548h0M396 1548h0M146 1481h0M219 1542h0M146 1391h0M158 1423h0M464 1424h0M146 1529h0M214 1567h0M280 1513h0M146 1535h0M338 1522h0M146 1401h0M523 1418h0M542 1422h0M627 1427h0M146 1425h0M594 1457h0M146 1554h0M431 1567h0M497 1493h0M146 1524h0M672 1474h0M146 1504h0M176 1503h0M267 1461h0M146 1490h0M272 1431h0M475 1476h0M146 1497h0M191 1378h0M552 1491h0M146 1517h0M185 1465h0M197 1489h0M199 1531h0M146 1221h0M205 1325h0M341 1361h0M398 1290h0M453 1248h0M398 1290h0M398 1373h0M296 1393h0M530 1291h0M432 1384h0M517 1318h0M455 1361h0M591 1338h0M146 1338h0M275 1308h0M146 1384h0M364 1321h0M457 1322h0M364 1321h0M491 1379h0M614 1457h0M678 1457h0M614 1479h0M754 1478h0M614 1498h0M755 1500h0M660 1493h0M765 1496h0M569 1511h0M728 1514h0M146 1588h0M245 1591h0M250 1566h0M341 1578h0M523 1543h0M590 1553h0M614 1420h0M648 1409h0M614 1429h0M662 1428h0M839 1492h0M895 1489h0M947 1455h0M1057 1489h0M839 1457h0M887 1438h0M1078 1336h0M839 1520h0M865 1523h0M1029 1509h0M1051 1497h0M839 1463h0M945 1446h0M1029 1515h0M839 1486h0M935 1444h0M839 1529h0M1017 1473h0M839 1475h0M1153 1473h0M839 1458h0M917 1465h0M943 1471h0M839 1483h0M920 1456h0M935 1431h0M940 1451h0M839 1437h0M1069 1448h0M839 1539h0M940 1504h0M965 1448h0M839 1444h0M839 1517h0M873 1568h0M942 1484h0M839 1432h0M839 1518h0M947 1540h0M839 1464h0M855 1440h0M1062 1364h0M839 1427h0M921 1369h0M839 1452h0M1003 1397h0M839 1529h0M1053 1480h0M839 1537h0M932 1522h0M839 1459h0M954 1446h0M839 1504h0M865 1512h0M948 1502h0M839 1451h0M839 1488h0M1019 1477h0M839 1506h0M899 1514h0M839 1412h0M854 1420h0M1005 1357h0M839 1462h0M960 1511h0M839 1461h0M839 1495h0M961 1523h0M839 1495h0M985 1403h0M1008 1407h0M839 1448h0M982 1460h0M998 1476h0M839 1521h0M839 1469h0M885 1471h0M954 1432h0M839 1524h0M883 1513h0M988 1469h0M1009 1475h0M839 1492h0M839 1497h0M1072 1467h0M839 1549h0M1154 1476h0M839 1447h0M1063 1442h0M839 1525h0M930 1459h0M936 1480h0M949 1504h0M839 1447h0M852 1451h0M859 1460h0M939 1359h0M839 1427h0M850 1477h0M958 1466h0M1010 1405h0M839 1415h0M996 1484h0M839 1482h0M839 1527h0M931 1501h0M839 1572h0M957 1535h0M839 1491h0M839 1431h0M950 1399h0M839 1488h0M839 1416h0M876 1427h0M991 1344h0M839 1528h0M851 1478h0M866 1532h0M839 1481h0M1137 1482h0M839 1469h0M894 1454h0M991 1487h0M839 1362h0M839 1431h0M856 1464h0M939 1496h0M839 1501h0M839 1506h0M984 1506h0M1159 1460h0M839 1488h0M991 1449h0M839 1475h0M861 1437h0M869 1503h0M839 1465h0M906 1429h0M916 1466h0M839 1539h0M857 1544h0M944 1540h0M983 1521h0M839 1479h0M1150 1506h0M839 1471h0M965 1509h0M986 1486h0M839 1576h0M942 1517h0M970 1557h0M1018 1542h0M839 1549h0M979 1488h0M986 1493h0M1075 1415h0M839 1453h0M901 1445h0M839 1528h0M925 1452h0M980 1508h0M839 1441h0M858 1502h0M991 1463h0M1013 1435h0M839 1483h0M922 1510h0M839 1491h0M927 1490h0M839 1485h0M860 1488h0M920 1457h0M988 1493h0M839 1524h0M993 1531h0M839 1460h0M979 1428h0M839 1501h0M871 1480h0M937 1452h0M839 1471h0M871 1471h0M949 1426h0M839 1515h0M839 1550h0M839 1576h0M933 1562h0M839 1459h0M888 1462h0M995 1451h0M839 1401h0M839 1498h0M878 1474h0M955 1493h0M839 1510h0M993 1484h0M1040 1480h0M839 1483h0M839 1468h0M1038 1426h0M839 1417h0M1055 1462h0M839 1437h0M863 1431h0M934 1435h0M839 1469h0M872 1491h0M887 1501h0M839 1484h0M839 1429h0M1054 1414h0M839 1486h0M932 1500h0M839 1549h0M1000 1510h0M839 1452h0M1026 1486h0M839 1422h0M839 1453h0M890 1442h0M929 1446h0M946 1477h0M839 1413h0M875 1419h0M839 1539h0M866 1515h0M839 1492h0M839 1435h0M908 1470h0M964 1450h0M839 1436h0M898 1437h0M1135 1413h0M839 1517h0M869 1480h0M889 1468h0M839 1507h0M923 1468h0M933 1415h0M839 1418h0M855 1472h0M881 1499h0M839 1428h0M996 1357h0M996 1471h0M839 1500h0M921 1506h0M934 1482h0M941 1485h0M839 1426h0M839 1571h0M900 1567h0M839 1492h0M1060 1430h0M839 1473h0M1103 1483h0M839 1551h0M998 1497h0M1140 1506h0M839 1512h0M849 1567h0M870 1477h0M839 1488h0M851 1467h0M997 1508h0M839 1473h0M982 1455h0M839 1505h0M859 1486h0M872 1457h0M839 1391h0M869 1401h0M887 1363h0M839 1443h0M860 1437h0M928 1404h0M839 1494h0M1110 1480h0M839 1508h0M881 1451h0M924 1504h0M839 1476h0M938 1489h0M839 1467h0M1100 1507h0M839 1540h0M1054 1514h0M1095 1508h0M839 1573h0M839 1534h0M1149 1471h0M839 1494h0M891 1487h0M972 1491h0M839 1541h0M890 1490h0M839 1442h0M863 1450h0M967 1478h0M839 1496h0M885 1542h0M1066 1513h0M839 1483h0M871 1542h0M884 1465h0M935 1510h0M839 1421h0M1150 1425h0M839 1523h0M895 1512h0M931 1553h0M839 1435h0M1004 1376h0M839 1433h0M951 1426h0M1069 1441h0M839 1353h0M1034 1344h0M839 1384h0M1021 1311h0M839 1400h0M1030 1327h0M1040 1320h0M943 1407h0M1140 1275h0M1034 1343h0M1140 1316h0M1034 1352h0M1140 1328h0M1192 1328h0M839 1407h0M1034 1409h0M1136 1344h0M1227 1350h0M1288 1310h0M1359 1282h0M839 1393h0M1009 1380h0M1087 1388h0M839 1438h0M1205 1404h0M1216 1432h0M1223 1473h0M1269 1478h0M1359 1444h0M852 1557h0M906 1624h0M975 1520h0M839 1575h0M938 1584h0M1158 1520h0M1373 1485h0M1385 1482h0M839 1566h0M1082 1550h0M839 1520h0M1172 1533h0M1316 1493h0M1373 1485h0M839 1475h0M1302 1452h0M1162 1457h0M1247 1436h0M839 1457h0M1313 1463h0" stroke="#aaaaaa" stroke-width="9.2" stroke-linecap="round" fill="none"/><path d="M146 1509h0M276 1494h0M481 1465h0M146 1486h0M171 1492h0M231 1507h0M146 1547h0M551 1454h0M146 1533h0M263 1440h0M146 1510h0M211 1523h0M222 1437h0M146 1480h0M221 1497h0M146 1459h0M323 1468h0M146 1397h0M195 1400h0M250 1392h0M146 1511h0M225 1505h0M146 1517h0M419 1510h0M146 1507h0M278 1497h0M146 1498h0M172 1501h0M203 1484h0M146 1517h0M160 1480h0M233 1518h0M146 1535h0M286 1456h0M146 1479h0M209 1468h0M215 1420h0M146 1480h0M240 1475h0M146 1506h0M146 1500h0M289 1507h0M146 1461h0M228 1513h0M232 1512h0M146 1499h0M392 1486h0M146 1478h0M253 1464h0M146 1473h0M240 1474h0M146 1513h0M189 1464h0M215 1505h0M146 1479h0M187 1472h0M195 1486h0M146 1448h0M146 1519h0M302 1476h0M146 1518h0M146 1505h0M533 1511h0M146 1512h0M186 1478h0M146 1512h0M205 1519h0M146 1471h0M273 1513h0M146 1496h0M200 1492h0M146 1537h0M255 1538h0M146 1523h0M244 1527h0M146 1533h0M146 1527h0M312 1488h0M146 1492h0M236 1500h0M146 1478h0M241 1501h0M146 1490h0M273 1535h0M146 1503h0M252 1523h0M272 1499h0M146 1562h0M158 1536h0M301 1559h0M146 1475h0M203 1455h0M146 1544h0M212 1514h0M146 1540h0M514 1516h0M146 1543h0M177 1533h0M146 1491h0M276 1442h0M146 1521h0M360 1523h0M382 1439h0M408 1458h0M146 1467h0M252 1425h0M146 1517h0M228 1474h0M146 1525h0M246 1543h0M279 1526h0M146 1483h0M254 1511h0M272 1494h0M146 1519h0M182 1494h0M194 1498h0M146 1485h0M286 1516h0M146 1482h0M157 1460h0M243 1442h0M307 1517h0M146 1497h0M187 1506h0M146 1539h0M186 1533h0M193 1504h0M146 1519h0M146 1509h0M146 1474h0M345 1387h0M146 1477h0M254 1432h0M333 1443h0M146 1504h0M180 1500h0M146 1506h0M273 1483h0M146 1459h0M478 1419h0M146 1467h0M552 1391h0M146 1480h0M261 1495h0M146 1495h0M181 1523h0M146 1498h0M309 1527h0M146 1484h0M264 1469h0M146 1538h0M208 1527h0M146 1503h0M332 1435h0M146 1511h0M292 1519h0M146 1483h0M302 1498h0M146 1412h0M229 1489h0M270 1452h0M146 1522h0M200 1494h0M146 1540h0M430 1442h0M146 1509h0M285 1486h0M457 1463h0M146 1506h0M146 1543h0M196 1524h0M280 1523h0M146 1533h0M310 1511h0M326 1487h0M146 1470h0M228 1485h0M146 1494h0M274 1478h0M146 1518h0M191 1555h0M251 1500h0M146 1496h0M325 1485h0M146 1444h0M188 1465h0M305 1490h0M376 1446h0M146 1477h0M289 1502h0M146 1499h0M306 1444h0M146 1483h0M190 1487h0M146 1504h0M271 1486h0M274 1443h0M146 1518h0M237 1509h0M146 1488h0M421 1459h0M146 1490h0M198 1498h0M146 1502h0M146 1516h0M146 1490h0M261 1509h0M146 1465h0M249 1520h0M275 1502h0M146 1500h0M288 1505h0M542 1501h0M146 1506h0M160 1469h0M513 1430h0M146 1460h0M435 1443h0M146 1439h0M239 1439h0M146 1532h0M146 1527h0M461 1553h0M146 1539h0M244 1557h0M146 1501h0M440 1514h0M146 1473h0M224 1432h0M146 1476h0M290 1483h0M146 1544h0M164 1511h0M205 1516h0M219 1486h0M146 1502h0M146 1542h0M161 1508h0M270 1541h0M146 1469h0M176 1516h0M146 1492h0M208 1507h0M146 1513h0M477 1513h0M146 1512h0M255 1510h0M146 1562h0M268 1522h0M146 1552h0M349 1552h0M395 1485h0M146 1513h0M558 1493h0M146 1471h0M244 1496h0M146 1553h0M146 1526h0M146 1504h0M325 1509h0M146 1500h0M146 1483h0M270 1436h0M286 1478h0M146 1540h0M364 1534h0M146 1554h0M182 1513h0M146 1504h0M146 1511h0M214 1471h0M346 1509h0M146 1562h0M265 1515h0M146 1540h0M421 1493h0M146 1502h0M199 1478h0M146 1533h0M183 1529h0M146 1476h0M189 1483h0M146 1514h0M260 1496h0M146 1446h0M207 1496h0M266 1487h0M146 1491h0M180 1521h0M264 1455h0M146 1499h0M146 1522h0M146 1518h0M203 1511h0M146 1557h0M186 1543h0M146 1535h0M297 1548h0M146 1470h0M233 1493h0M507 1429h0M146 1507h0M260 1521h0M146 1495h0M308 1510h0M146 1492h0M211 1516h0M146 1465h0M459 1400h0M146 1494h0M146 1530h0M146 1508h0M236 1488h0M146 1523h0M186 1520h0M146 1496h0M509 1412h0M146 1522h0M412 1497h0M146 1527h0M302 1446h0M308 1494h0M146 1495h0M162 1515h0M350 1495h0M420 1398h0M146 1504h0M146 1437h0M368 1415h0M146 1535h0M193 1506h0M146 1514h0M146 1485h0M237 1509h0M146 1519h0M226 1494h0M267 1543h0M146 1524h0M146 1526h0M238 1509h0M146 1507h0M311 1531h0M146 1536h0M418 1541h0M146 1517h0M255 1491h0M146 1541h0M570 1549h0M146 1525h0M229 1490h0M146 1497h0M228 1492h0M146 1505h0M435 1425h0M146 1452h0M180 1482h0M146 1555h0M211 1517h0M146 1506h0M189 1511h0M226 1516h0M242 1494h0M146 1512h0M212 1498h0M146 1494h0M269 1447h0M146 1489h0M218 1484h0M239 1509h0M146 1502h0M220 1468h0M240 1505h0M146 1520h0M146 1440h0M202 1498h0M146 1486h0M146 1497h0M433 1508h0M490 1450h0M146 1443h0M516 1475h0M146 1515h0M178 1516h0M238 1487h0M146 1506h0M375 1402h0M146 1517h0M229 1431h0M146 1554h0M272 1510h0M482 1537h0M146 1508h0M179 1488h0M243 1487h0M146 1511h0M260 1483h0M146 1419h0M311 1469h0M489 1427h0M146 1516h0M342 1456h0M146 1521h0M371 1512h0M146 1487h0M194 1527h0M206 1504h0M146 1501h0M345 1467h0M146 1467h0M180 1469h0M146 1507h0M404 1502h0M146 1466h0M192 1487h0M289 1437h0M146 1506h0M242 1484h0M265 1501h0M146 1509h0M242 1550h0M146 1499h0M252 1489h0M146 1505h0M357 1442h0M146 1454h0M449 1453h0M146 1458h0M333 1434h0M146 1505h0M146 1562h0M146 1452h0M208 1422h0M323 1445h0M417 1445h0M146 1462h0M222 1434h0M146 1495h0M220 1513h0M146 1536h0M176 1518h0M146 1513h0M174 1525h0M228 1478h0M146 1510h0M251 1510h0M282 1475h0M146 1521h0M266 1451h0M146 1550h0M208 1492h0M146 1514h0M390 1430h0M444 1506h0M146 1464h0M241 1423h0M146 1325h0M211 1320h0M243 1323h0M146 1326h0M178 1351h0M199 1342h0M146 1371h0M241 1351h0M146 1402h0M460 1405h0M146 1475h0M569 1382h0M146 1452h0M550 1397h0M622 1408h0M760 1377h0M387 1452h0M662 1362h0M146 1498h0M497 1397h0M146 1520h0M597 1425h0M603 1450h0M146 1520h0M626 1487h0M146 1568h0M246 1561h0M839 1505h0M930 1502h0M839 1485h0M916 1486h0M922 1501h0M839 1479h0M1076 1428h0M839 1512h0M878 1525h0M1012 1453h0M839 1473h0M839 1512h0M880 1502h0M953 1494h0M839 1425h0M934 1464h0M839 1572h0M872 1540h0M839 1516h0M877 1514h0M920 1535h0M839 1488h0M983 1491h0M839 1474h0M870 1500h0M839 1490h0M974 1462h0M981 1446h0M839 1436h0M924 1490h0M839 1449h0M887 1502h0M930 1417h0M839 1501h0M946 1481h0M839 1528h0M961 1502h0M839 1492h0M1074 1454h0M839 1489h0M855 1479h0M839 1424h0M992 1458h0M839 1410h0M934 1441h0M839 1410h0M1004 1340h0M839 1566h0M1219 1418h0M839 1541h0M902 1540h0M839 1484h0M1084 1516h0M839 1498h0M1093 1497h0" stroke="#fe1e12" stroke-width="9.2" stroke-linecap="round" fill="none"/><path d="M146 1498L170 1496L184 1472M146 1411L256 1377M146 1500L530 1464M146 1458L169 1518M146 1474L183 1440M146 1506L382 1502M146 1458L424 1466M146 1545L155 1524L180 1501M146 1468L229 1420L278 1437L357 1448M146 1495L167 1432L285 1521M146 1451L487 1473L567 1501L734 1456M146 1515L341 1487L376 1451M146 1503L165 1475L286 1498M146 1581L255 1546M146 1501L197 1446L205 1507L207 1446M146 1417L249 1432M146 1497L267 1499L489 1508L565 1485L589 1475M146 1479L262 1476L284 1473L317 1444M146 1528L169 1497L187 1446M146 1506L340 1497M146 1479L227 1496L396 1460M146 1504L301 1475M146 1530L258 1488M146 1419L483 1435M146 1416L166 1444L178 1437M146 1441L236 1505L524 1460M146 1531L223 1451L244 1521M146 1555L543 1487M146 1467L198 1387L243 1469M146 1537L256 1533M146 1510L302 1496L363 1504M146 1506L541 1468L603 1505M146 1485L173 1477M146 1507L314 1478L368 1506M146 1509L637 1521M146 1495L250 1480L420 1439L525 1470M146 1474L307 1472L465 1448M146 1441L392 1496L653 1420M146 1487L165 1478M146 1440L301 1434M146 1414L248 1445L360 1449M146 1521L216 1465L514 1496M146 1401L490 1432M146 1418L241 1400M146 1463L188 1438L438 1493L544 1438M146 1545L190 1536L217 1574L266 1490M146 1551L254 1571M146 1522L209 1531L235 1545M146 1409L327 1398L508 1437L579 1443M146 1510L158 1552L218 1518M146 1512L250 1472L252 1501L275 1505M146 1525L270 1520M146 1418L189 1400L304 1395M146 1501L606 1515L621 1452M146 1492L273 1479L344 1494L574 1500M146 1464L196 1446L345 1502L616 1489M146 1549L303 1498M146 1420L241 1460L536 1403L569 1468L612 1467M146 1460L156 1472L165 1408L236 1497M146 1438L644 1475M146 1457L381 1502M146 1430L481 1409M146 1447L291 1480L310 1447L352 1497M146 1515L179 1505L257 1433L362 1509M146 1406L571 1463M146 1413L536 1472M146 1528L165 1524L625 1503M146 1391L283 1438M146 1475L221 1500M146 1451L176 1466L221 1485M146 1461L195 1437M146 1496L179 1458M146 1507L415 1521L631 1496M146 1431L173 1352L218 1474L469 1408L578 1463M146 1522L190 1533L270 1511L276 1523M146 1545L265 1564M146 1496L633 1440M146 1507L156 1516L212 1469L245 1489M146 1426L156 1394L221 1440L235 1472M146 1470L285 1487M146 1560L247 1552M146 1529L282 1528M146 1494L265 1504L272 1556L400 1527L468 1483M146 1556L272 1555L623 1532M146 1447L260 1398L540 1432M146 1441L431 1393L551 1479M146 1559L210 1541M146 1446L163 1414L196 1436M146 1550L170 1539L201 1570L221 1528M146 1463L240 1484L291 1467M146 1518L412 1499L419 1489L459 1488M146 1458L231 1440L237 1469L293 1429M146 1537L319 1518M146 1446L189 1493L575 1428L589 1445M146 1437L164 1407M146 1509L218 1486M146 1397L234 1400L304 1392L366 1400M146 1485L391 1484M146 1443L157 1501L168 1426L253 1490M146 1473L275 1449M146 1467L331 1504L589 1518M146 1514L220 1521L287 1489M146 1536L451 1529M146 1449L189 1481L250 1489M146 1528L300 1493M146 1525L489 1472L650 1450M146 1515L355 1523L475 1446M146 1473L612 1486M146 1506L206 1507L412 1432M146 1470L232 1449L417 1488M146 1427L361 1456L688 1463M146 1507L193 1522L219 1513M146 1543L212 1534M146 1463L234 1461L583 1478M146 1516L283 1483M146 1392L286 1399L352 1475M146 1468L177 1479L202 1474L220 1430M146 1540L233 1499L363 1531M146 1504L165 1538L172 1487M146 1403L211 1420L403 1457M146 1437L349 1440M146 1522L277 1507M146 1389L165 1378L182 1456M146 1500L187 1484L290 1503L355 1449M146 1514L175 1539L293 1531M146 1468L460 1446M146 1446L432 1479M146 1520L180 1523L211 1522M146 1509L227 1536L328 1491M146 1405L273 1461M146 1519L525 1417L530 1492M146 1531L193 1556M146 1476L297 1490M146 1461L368 1447L432 1489M146 1515L301 1459M146 1493L163 1470M146 1489L384 1539L523 1429M146 1521L379 1534M146 1489L376 1513M146 1426L199 1446L303 1425M146 1519L323 1512M146 1515L298 1476L322 1497L488 1545M146 1489L178 1497M146 1372L229 1350M146 1435L284 1421M146 1502L230 1521L486 1519M146 1460L347 1442M146 1519L304 1520L429 1468L488 1521M146 1575L227 1546L357 1515M146 1450L227 1422L286 1490M146 1493L538 1463L619 1489M146 1503L196 1482L217 1468L324 1531M146 1438L189 1415L281 1418L326 1430M146 1431L171 1468M146 1482L189 1564L313 1504M146 1527L289 1545L407 1401M146 1495L353 1512L457 1516M146 1543L185 1557L243 1515M146 1461L250 1493L251 1520L304 1461M146 1465L380 1424M146 1494L416 1496M146 1515L171 1572L185 1518L271 1550M146 1479L168 1511L174 1508M146 1403L567 1448M146 1466L165 1490L196 1536L247 1466M146 1517L160 1502L190 1521L234 1551M146 1538L282 1484M146 1451L315 1420L429 1479M146 1546L459 1513M146 1501L249 1513L267 1455L375 1493M146 1490L197 1533M146 1439L171 1529L199 1460M146 1517L631 1479M146 1443L368 1415M146 1535L162 1549M146 1581L312 1507M146 1507L174 1524L325 1537L386 1502M146 1516L411 1485L554 1499M146 1522L253 1531L301 1533M146 1514L426 1461L525 1485L647 1498M146 1499L476 1472M146 1430L217 1402M146 1446L172 1435L175 1413M146 1450L199 1486L281 1452M146 1540L205 1567L219 1504L243 1549M146 1540L220 1488M146 1532L388 1508L445 1503L544 1515L652 1535M146 1514L207 1510L223 1517M146 1508L337 1477L340 1504M146 1477L316 1502L321 1457M146 1442L493 1449M146 1508L177 1505L178 1461M146 1497L351 1489L409 1506M146 1504L296 1508L333 1509M146 1446L402 1496L487 1459M146 1462L177 1519L240 1477M146 1509L207 1510M146 1374L214 1449L296 1411M146 1426L359 1506L376 1415L405 1436M146 1424L156 1441L165 1425L427 1460M146 1366L235 1448L263 1399L695 1453M146 1540L207 1512L304 1537L324 1491M146 1478L180 1466L647 1474M146 1498L315 1492L443 1501L668 1529M146 1524L247 1501L289 1477L331 1536M146 1456L230 1466L280 1483M146 1492L163 1501L308 1505M146 1525L472 1488L488 1503M146 1488L540 1488M146 1430L482 1502L712 1426M146 1447L394 1442M146 1483L268 1453L340 1525L345 1493L486 1495M146 1492L179 1538L227 1461M146 1519L339 1529M146 1528L225 1496L239 1527L260 1508L302 1487M146 1509L166 1464L206 1520L260 1495M146 1527L371 1507M146 1479L259 1480L279 1486L450 1452M146 1514L196 1504L223 1508M146 1446L392 1470M146 1503L451 1487M146 1446L227 1474M146 1481L316 1470L387 1542M146 1520L547 1498M146 1420L535 1494M146 1528L172 1513L289 1574M146 1487L216 1415L301 1487M146 1489L270 1500L329 1463M146 1436L254 1442L268 1443M146 1396L458 1452M146 1427L410 1457M146 1436L206 1449L208 1438L288 1407M146 1511L270 1529L315 1560M146 1410L190 1433L193 1425M146 1517L162 1514M146 1451L465 1436L474 1445M146 1561L210 1531L282 1551M146 1541L179 1514L200 1503L223 1564M146 1468L166 1471L181 1441M146 1379L167 1436L175 1403M146 1482L299 1494M146 1496L430 1499L552 1506M146 1505L210 1544L242 1548M146 1498L202 1499L410 1504M146 1467L173 1507L249 1470L261 1528L262 1417M146 1531L185 1489L457 1473M146 1511L190 1490L217 1494L226 1467M146 1550L240 1528M146 1488L385 1513M146 1529L279 1513L300 1519M146 1464L178 1430L224 1533L304 1500M146 1474L185 1513L198 1475L214 1489M146 1512L384 1479M146 1387L512 1318M146 1496L176 1454L232 1561M146 1551L436 1510L563 1468M146 1581L363 1563L419 1531L446 1566M146 1493L242 1487M146 1559L160 1547L200 1541L202 1464M146 1470L593 1497M146 1511L466 1541L501 1479L516 1446M146 1505L475 1459L517 1457M146 1485L367 1435L505 1475L515 1468M146 1393L416 1410L449 1404L452 1453M146 1412L158 1439L165 1421L207 1435M146 1467L535 1452M146 1460L301 1476M146 1419L167 1490M146 1350L199 1349M146 1556L346 1571L463 1520M146 1481L383 1451M146 1419L282 1372M146 1505L297 1442M146 1465L340 1403M146 1466L225 1466L334 1478L395 1495L496 1417M146 1422L546 1453M146 1484L544 1478M146 1470L167 1439L274 1448M146 1511L188 1514L188 1539L276 1521L315 1499M146 1500L246 1499L553 1469M146 1469L197 1477L246 1441L289 1510M146 1482L230 1459L287 1452M146 1499L165 1513L184 1491M146 1563L211 1560L230 1561L278 1534M146 1515L652 1517M146 1548L173 1527M146 1466L229 1443L345 1415L371 1479M146 1450L196 1382L209 1483L402 1531M146 1555L162 1542L195 1533L198 1539M146 1456L225 1490L520 1482M146 1461L185 1453L474 1480M146 1457L168 1461M146 1449L302 1466M146 1510L233 1455L275 1513M146 1515L178 1483L184 1464M146 1562L282 1539M146 1477L235 1504M146 1451L290 1506L343 1443M146 1498L224 1513M146 1397L256 1450M146 1493L500 1508M146 1419L157 1443L190 1430M146 1528L494 1483M146 1498L432 1470M146 1491L188 1519L298 1474M146 1494L169 1482L238 1508M146 1486L163 1473L194 1472M146 1473L178 1409M146 1562L164 1526L384 1544L460 1529M146 1492L565 1498L620 1464M146 1559L243 1522L280 1481M146 1404L376 1333M146 1517L360 1503L379 1496L449 1546L574 1509M146 1514L322 1494L602 1529M146 1475L324 1457L344 1528M146 1496L158 1467L411 1477M146 1505L294 1504M146 1495L209 1442M146 1532L172 1514L222 1516L283 1449M146 1535L178 1499L527 1537M146 1510L164 1510M146 1378L194 1421M146 1427L205 1412L232 1407M146 1533L206 1509M146 1492L515 1486M146 1512L199 1451L295 1519M146 1577L454 1533M146 1380L231 1401L289 1409M146 1508L695 1482M146 1483L244 1495L319 1448L338 1490L371 1515M146 1400L247 1432L360 1409L394 1474M146 1521L199 1535L420 1522L510 1482M146 1469L580 1506M146 1407L217 1417L341 1441L389 1410M146 1532L175 1556L186 1484M146 1567L171 1504L189 1530L227 1553M146 1531L217 1520L372 1468M146 1526L258 1505L297 1513M146 1493L185 1530L210 1504L242 1551L356 1480M146 1500L251 1490L494 1525M146 1508L188 1550L189 1492M146 1491L168 1442L263 1498M146 1499L598 1519M146 1441L213 1448L525 1492M146 1495L244 1528L267 1479M146 1478L368 1479L469 1501L571 1456M146 1467L179 1473L239 1497L288 1416M146 1412L369 1420L592 1455M146 1442L162 1472M146 1397L350 1450M146 1481L168 1455L172 1447M146 1513L318 1472L347 1469M146 1465L340 1425L484 1451M146 1423L252 1380L326 1379M146 1495L266 1515L341 1456M146 1459L315 1429L367 1439L595 1453M146 1537L166 1553L176 1517L231 1510L258 1491M146 1474L349 1469L555 1407M146 1581L531 1561M146 1432L196 1521L199 1481M146 1526L628 1471L640 1490M146 1569L227 1531L460 1565M146 1548L235 1534L275 1553L370 1531M146 1388L224 1376L454 1413M146 1398L174 1343L212 1383L217 1454L279 1532M146 1459L290 1489M146 1504L158 1495L186 1547M146 1469L386 1523L424 1415M146 1551L169 1505M146 1373L294 1316M146 1574L185 1569L204 1515L248 1535L269 1531M146 1400L162 1372L292 1429M146 1454L166 1495L175 1495M146 1481L370 1502M146 1438L165 1453M146 1461L231 1505M146 1504L279 1488L368 1532M146 1479L308 1489M146 1508L454 1506L467 1493M146 1501L422 1531L584 1499M146 1493L295 1445L658 1473M146 1432L401 1428L510 1463M146 1490L172 1519L288 1469L296 1485M146 1543L372 1521L448 1563M146 1455L287 1445M146 1484L449 1492M146 1553L202 1578M146 1437L554 1448M146 1549L255 1535M146 1474L162 1442L332 1462L505 1479M146 1459L635 1501M146 1513L266 1486L402 1533M146 1466L159 1441L174 1431L202 1436M146 1516L176 1504L237 1516L275 1561M146 1467L259 1507L568 1476M146 1477L217 1476L266 1442M146 1411L419 1486M146 1490L214 1462L244 1481M146 1423L210 1439L322 1502M146 1478L245 1504L272 1462M146 1484L287 1517M146 1544L196 1550L201 1466L297 1498M146 1502L206 1519L304 1523M146 1449L268 1464M146 1486L489 1474M146 1505L197 1529L327 1490L342 1512M146 1421L220 1420L232 1460M146 1527L186 1512L196 1494L234 1488M146 1468L693 1471M146 1540L197 1484M146 1560L344 1551L469 1539M146 1534L385 1520M146 1523L278 1501M146 1371L211 1389L267 1467L292 1398L352 1433M146 1483L385 1479L441 1470M146 1458L283 1482M146 1462L284 1471M146 1579L635 1544M146 1411L319 1444L644 1494M146 1518L162 1504L568 1507M146 1398L158 1425L191 1393M146 1520L343 1490M146 1446L171 1503L191 1431L205 1455M146 1509L253 1504L552 1519M146 1525L191 1547L288 1522M146 1493L455 1301M146 1493L570 1468M146 1480L189 1516M146 1450L156 1432L240 1431L293 1373M146 1479L206 1487L253 1434L295 1486M146 1458L219 1435L278 1490M146 1461L182 1438L353 1459M146 1483L445 1457M146 1466L165 1449L349 1479M146 1424L162 1407M146 1379L448 1406L610 1415L620 1444M146 1536L206 1434L680 1470M146 1506L623 1480M146 1524L166 1536L244 1511M146 1473L440 1491L500 1514M146 1526L180 1540M146 1494L691 1472M146 1451L240 1480L259 1467M146 1556L209 1535M146 1462L242 1480L250 1394M146 1380L194 1359L200 1393M146 1555L160 1515L263 1499M146 1506L199 1488L208 1480M146 1406L173 1428L234 1405L277 1406M146 1433L283 1455M146 1493L199 1489L226 1451M146 1550L206 1562M146 1495L169 1549L189 1483M146 1463L175 1434L368 1484M146 1499L174 1492L362 1461M146 1504L251 1486L289 1488L301 1505M146 1527L616 1498M146 1467L222 1454L249 1480L402 1454M146 1473L172 1474L184 1375L278 1495M146 1475L192 1492M146 1525L236 1479M146 1456L281 1436L356 1421M146 1439L381 1434L640 1502M146 1507L224 1496L420 1449L592 1510M146 1481L717 1478M146 1392L168 1415L266 1379L285 1437M146 1457L411 1375M146 1487L190 1489M146 1485L180 1460L181 1499M146 1460L186 1523L270 1478L280 1433M146 1512L513 1512M146 1515L385 1503M146 1456L229 1482L334 1493L520 1423M146 1476L207 1423L222 1460M146 1422L543 1482L649 1450L660 1467M146 1456L283 1485L381 1400L447 1452M146 1468L426 1453L533 1440L610 1407M146 1522L426 1462M146 1460L274 1475L278 1449M146 1521L369 1508L527 1541M146 1372L224 1368L243 1385L276 1433M146 1503L168 1451L298 1501L364 1456M146 1499L172 1504L496 1462M146 1523L655 1508M146 1428L504 1436L550 1424L574 1438M146 1470L241 1547L487 1476L590 1489M146 1581L171 1545L193 1578L230 1577L237 1576M146 1467L188 1402L243 1455L276 1451M146 1446L182 1430L617 1461M146 1457L495 1464M146 1498L541 1483M146 1516L233 1517L341 1499M146 1435L161 1420L198 1452L258 1474M146 1493L481 1511M146 1459L179 1456L439 1465M146 1519L158 1509L172 1499L250 1493M146 1514L306 1516L352 1487M146 1510L167 1529M146 1429L395 1428M146 1440L491 1494M146 1531L282 1522L283 1532M146 1458L396 1389M146 1466L271 1469L392 1410M146 1444L181 1481L216 1413M146 1506L186 1510L249 1513M146 1533L562 1548L627 1497L639 1523M146 1524L299 1453M146 1467L478 1508L571 1418M146 1361L237 1372L256 1399L278 1371M146 1461L343 1535L530 1464M146 1472L197 1473M146 1493L198 1457L214 1511L215 1464M146 1533L177 1531L349 1448M146 1483L271 1523L286 1435L463 1446M146 1520L167 1521L499 1523M146 1488L156 1487L226 1488M146 1473L402 1466M146 1548L396 1548M146 1481L219 1542M146 1391L158 1423L464 1424M146 1529L214 1567L280 1513M146 1535L338 1522M146 1401L523 1418L542 1422L627 1427M146 1425L594 1457M146 1554L431 1567L497 1493M146 1524L672 1474M146 1504L176 1503L267 1461M146 1490L272 1431L475 1476M146 1497L191 1378L552 1491M146 1517L185 1465L197 1489L199 1531M146 1221L205 1325M341 1361L398 1290L453 1248M398 1290L398 1373M296 1393L530 1291M432 1384L517 1318M455 1361L591 1338M146 1338L275 1308M146 1384L364 1321L457 1322M364 1321L491 1379M614 1457L678 1457M614 1479L754 1478M614 1498L755 1500M660 1493L765 1496M569 1511L728 1514M146 1588L245 1591M250 1566L341 1578M523 1543L590 1553M614 1420L648 1409M614 1429L662 1428M839 1492L895 1489L947 1455L1057 1489M839 1457L887 1438L1078 1336M839 1520L865 1523L1029 1509L1051 1497M839 1463L945 1446L1029 1515M839 1486L935 1444M839 1529L1017 1473M839 1475L1153 1473M839 1458L917 1465L943 1471M839 1483L920 1456L935 1431L940 1451M839 1437L1069 1448M839 1539L940 1504L965 1448M839 1517L873 1568L942 1484M839 1518L947 1540M839 1464L855 1440L1062 1364M839 1427L921 1369M839 1452L1003 1397M839 1529L1053 1480M839 1537L932 1522M839 1459L954 1446M839 1504L865 1512L948 1502M839 1488L1019 1477M839 1506L899 1514M839 1412L854 1420L1005 1357M839 1462L960 1511M839 1495L961 1523M839 1495L985 1403L1008 1407M839 1448L982 1460L998 1476M839 1469L885 1471L954 1432M839 1524L883 1513L988 1469L1009 1475M839 1497L1072 1467M839 1549L1154 1476M839 1447L1063 1442M839 1525L930 1459L936 1480L949 1504M839 1447L852 1451L859 1460L939 1359M839 1427L850 1477L958 1466L1010 1405M839 1415L996 1484M839 1527L931 1501M839 1572L957 1535M839 1431L950 1399M839 1416L876 1427L991 1344M839 1528L851 1478L866 1532M839 1481L1137 1482M839 1469L894 1454L991 1487M839 1431L856 1464L939 1496M839 1506L984 1506L1159 1460M839 1488L991 1449M839 1475L861 1437L869 1503M839 1465L906 1429L916 1466M839 1539L857 1544L944 1540L983 1521M839 1479L1150 1506M839 1471L965 1509L986 1486M839 1576L942 1517L970 1557L1018 1542M839 1549L979 1488L986 1493L1075 1415M839 1453L901 1445M839 1528L925 1452L980 1508M839 1441L858 1502L991 1463L1013 1435M839 1483L922 1510M839 1491L927 1490M839 1485L860 1488L920 1457L988 1493M839 1524L993 1531M839 1460L979 1428M839 1501L871 1480L937 1452M839 1471L871 1471L949 1426M839 1576L933 1562M839 1459L888 1462L995 1451M839 1498L878 1474L955 1493M839 1510L993 1484L1040 1480M839 1468L1038 1426M839 1417L1055 1462M839 1437L863 1431L934 1435M839 1469L872 1491L887 1501M839 1429L1054 1414M839 1486L932 1500M839 1549L1000 1510M839 1452L1026 1486M839 1453L890 1442L929 1446L946 1477M839 1413L875 1419M839 1539L866 1515M839 1435L908 1470L964 1450M839 1436L898 1437L1135 1413M839 1517L869 1480L889 1468M839 1507L923 1468L933 1415M839 1418L855 1472L881 1499M839 1428L996 1357L996 1471M839 1500L921 1506L934 1482L941 1485M839 1571L900 1567M839 1492L1060 1430M839 1473L1103 1483M839 1551L998 1497L1140 1506M839 1512L849 1567L870 1477M839 1488L851 1467L997 1508M839 1473L982 1455M839 1505L859 1486L872 1457M839 1391L869 1401L887 1363M839 1443L860 1437L928 1404M839 1494L1110 1480M839 1508L881 1451L924 1504M839 1476L938 1489M839 1467L1100 1507M839 1540L1054 1514L1095 1508M839 1534L1149 1471M839 1494L891 1487L972 1491M839 1541L890 1490M839 1442L863 1450L967 1478M839 1496L885 1542L1066 1513M839 1483L871 1542L884 1465L935 1510M839 1421L1150 1425M839 1523L895 1512L931 1553M839 1435L1004 1376M839 1433L951 1426L1069 1441M839 1353L1034 1344M839 1384L1021 1311M839 1400L1030 1327L1040 1320M943 1407L1140 1275M1034 1343L1140 1316M1034 1352L1140 1328L1192 1328M839 1407L1034 1409L1136 1344L1227 1350L1288 1310L1359 1282M839 1393L1009 1380L1087 1388M839 1438L1205 1404M1216 1432L1223 1473L1269 1478L1359 1444M852 1557L906 1624L975 1520M839 1575L938 1584L1158 1520L1373 1485L1385 1482M839 1566L1082 1550M839 1520L1172 1533L1316 1493L1373 1485M839 1475L1302 1452M1162 1457L1247 1436M839 1457L1313 1463" stroke="#aaaaaa" stroke-width="1.9" stroke-linejoin="round" fill="none"/><path d="M146 1509L276 1494L481 1465M146 1486L171 1492L231 1507M146 1547L551 1454M146 1533L263 1440M146 1510L211 1523L222 1437M146 1480L221 1497M146 1459L323 1468M146 1397L195 1400L250 1392M146 1511L225 1505M146 1517L419 1510M146 1507L278 1497M146 1498L172 1501L203 1484M146 1517L160 1480L233 1518M146 1535L286 1456M146 1479L209 1468L215 1420M146 1480L240 1475M146 1500L289 1507M146 1461L228 1513L232 1512M146 1499L392 1486M146 1478L253 1464M146 1473L240 1474M146 1513L189 1464L215 1505M146 1479L187 1472L195 1486M146 1519L302 1476M146 1505L533 1511M146 1512L186 1478M146 1512L205 1519M146 1471L273 1513M146 1496L200 1492M146 1537L255 1538M146 1523L244 1527M146 1527L312 1488M146 1492L236 1500M146 1478L241 1501M146 1490L273 1535M146 1503L252 1523L272 1499M146 1562L158 1536L301 1559M146 1475L203 1455M146 1544L212 1514M146 1540L514 1516M146 1543L177 1533M146 1491L276 1442M146 1521L360 1523L382 1439L408 1458M146 1467L252 1425M146 1517L228 1474M146 1525L246 1543L279 1526M146 1483L254 1511L272 1494M146 1519L182 1494L194 1498M146 1485L286 1516M146 1482L157 1460L243 1442L307 1517M146 1497L187 1506M146 1539L186 1533L193 1504M146 1474L345 1387M146 1477L254 1432L333 1443M146 1504L180 1500M146 1506L273 1483M146 1459L478 1419M146 1467L552 1391M146 1480L261 1495M146 1495L181 1523M146 1498L309 1527M146 1484L264 1469M146 1538L208 1527M146 1503L332 1435M146 1511L292 1519M146 1483L302 1498M146 1412L229 1489L270 1452M146 1522L200 1494M146 1540L430 1442M146 1509L285 1486L457 1463M146 1543L196 1524L280 1523M146 1533L310 1511L326 1487M146 1470L228 1485M146 1494L274 1478M146 1518L191 1555L251 1500M146 1496L325 1485M146 1444L188 1465L305 1490L376 1446M146 1477L289 1502M146 1499L306 1444M146 1483L190 1487M146 1504L271 1486L274 1443M146 1518L237 1509M146 1488L421 1459M146 1490L198 1498M146 1490L261 1509M146 1465L249 1520L275 1502M146 1500L288 1505L542 1501M146 1506L160 1469L513 1430M146 1460L435 1443M146 1439L239 1439M146 1527L461 1553M146 1539L244 1557M146 1501L440 1514M146 1473L224 1432M146 1476L290 1483M146 1544L164 1511L205 1516L219 1486M146 1542L161 1508L270 1541M146 1469L176 1516M146 1492L208 1507M146 1513L477 1513M146 1512L255 1510M146 1562L268 1522M146 1552L349 1552L395 1485M146 1513L558 1493M146 1471L244 1496M146 1504L325 1509M146 1483L270 1436L286 1478M146 1540L364 1534M146 1554L182 1513M146 1511L214 1471L346 1509M146 1562L265 1515M146 1540L421 1493M146 1502L199 1478M146 1533L183 1529M146 1476L189 1483M146 1514L260 1496M146 1446L207 1496L266 1487M146 1491L180 1521L264 1455M146 1518L203 1511M146 1557L186 1543M146 1535L297 1548M146 1470L233 1493L507 1429M146 1507L260 1521M146 1495L308 1510M146 1492L211 1516M146 1465L459 1400M146 1508L236 1488M146 1523L186 1520M146 1496L509 1412M146 1522L412 1497M146 1527L302 1446L308 1494M146 1495L162 1515L350 1495L420 1398M146 1437L368 1415M146 1535L193 1506M146 1485L237 1509M146 1519L226 1494L267 1543M146 1526L238 1509M146 1507L311 1531M146 1536L418 1541M146 1517L255 1491M146 1541L570 1549M146 1525L229 1490M146 1497L228 1492M146 1505L435 1425M146 1452L180 1482M146 1555L211 1517M146 1506L189 1511L226 1516L242 1494M146 1512L212 1498M146 1494L269 1447M146 1489L218 1484L239 1509M146 1502L220 1468L240 1505M146 1440L202 1498M146 1497L433 1508L490 1450M146 1443L516 1475M146 1515L178 1516L238 1487M146 1506L375 1402M146 1517L229 1431M146 1554L272 1510L482 1537M146 1508L179 1488L243 1487M146 1511L260 1483M146 1419L311 1469L489 1427M146 1516L342 1456M146 1521L371 1512M146 1487L194 1527L206 1504M146 1501L345 1467M146 1467L180 1469M146 1507L404 1502M146 1466L192 1487L289 1437M146 1506L242 1484L265 1501M146 1509L242 1550M146 1499L252 1489M146 1505L357 1442M146 1454L449 1453M146 1458L333 1434M146 1452L208 1422L323 1445L417 1445M146 1462L222 1434M146 1495L220 1513M146 1536L176 1518M146 1513L174 1525L228 1478M146 1510L251 1510L282 1475M146 1521L266 1451M146 1550L208 1492M146 1514L390 1430L444 1506M146 1464L241 1423M146 1325L211 1320L243 1323M146 1326L178 1351L199 1342M146 1371L241 1351M146 1402L460 1405M146 1475L569 1382M146 1452L550 1397L622 1408L760 1377M387 1452L662 1362M146 1498L497 1397M146 1520L597 1425L603 1450M146 1520L626 1487M146 1568L246 1561M839 1505L930 1502M839 1485L916 1486L922 1501M839 1479L1076 1428M839 1512L878 1525L1012 1453M839 1512L880 1502L953 1494M839 1425L934 1464M839 1572L872 1540M839 1516L877 1514L920 1535M839 1488L983 1491M839 1474L870 1500M839 1490L974 1462L981 1446M839 1436L924 1490M839 1449L887 1502L930 1417M839 1501L946 1481M839 1528L961 1502M839 1492L1074 1454M839 1489L855 1479M839 1424L992 1458M839 1410L934 1441M839 1410L1004 1340M839 1566L1219 1418M839 1541L902 1540M839 1484L1084 1516M839 1498L1093 1497" stroke="#fe1e12" stroke-width="1.9" stroke-linejoin="round" fill="none"/><text x="4" y="24" class="lab">(A)</text><text x="455.3" y="43.8" class="strip">Cognitively normal</text><text x="1148.3" y="43.8" class="strip">Cognitively impaired</text><line x1="114.5" y1="57.3" x2="114.5" y2="499.9" stroke="#000" stroke-width="1.4"/><line x1="109.5" y1="491.3" x2="114.5" y2="491.3" stroke="#333" stroke-width="1.4"/><text x="103.5" y="500" class="yt">0.050</text><line x1="109.5" y1="400.5" x2="114.5" y2="400.5" stroke="#333" stroke-width="1.4"/><text x="103.5" y="409.2" class="yt">0.075</text><line x1="109.5" y1="309.7" x2="114.5" y2="309.7" stroke="#333" stroke-width="1.4"/><text x="103.5" y="318.4" class="yt">0.100</text><line x1="109.5" y1="218.9" x2="114.5" y2="218.9" stroke="#333" stroke-width="1.4"/><text x="103.5" y="227.6" class="yt">0.125</text><line x1="109.5" y1="128.1" x2="114.5" y2="128.1" stroke="#333" stroke-width="1.4"/><text x="103.5" y="136.8" class="yt">0.150</text><line x1="113.8" y1="499.4" x2="796" y2="499.4" stroke="#000" stroke-width="2.2"/><line x1="145.5" y1="499.4" x2="145.5" y2="504.7" stroke="#333" stroke-width="1.4"/><text x="145.5" y="526.6" class="xt">0</text><line x1="306.2" y1="499.4" x2="306.2" y2="504.7" stroke="#333" stroke-width="1.4"/><text x="306.2" y="526.6" class="xt">5</text><line x1="467" y1="499.4" x2="467" y2="504.7" stroke="#333" stroke-width="1.4"/><text x="467" y="526.6" class="xt">10</text><line x1="627.7" y1="499.4" x2="627.7" y2="504.7" stroke="#333" stroke-width="1.4"/><text x="627.7" y="526.6" class="xt">15</text><line x1="788.4" y1="499.4" x2="788.4" y2="504.7" stroke="#333" stroke-width="1.4"/><text x="788.4" y="526.6" class="xt">20</text><line x1="807.5" y1="499.4" x2="1489" y2="499.4" stroke="#000" stroke-width="2.2"/><line x1="838.8" y1="499.4" x2="838.8" y2="504.7" stroke="#333" stroke-width="1.4"/><text x="838.8" y="526.6" class="xt">0</text><line x1="999.5" y1="499.4" x2="999.5" y2="504.7" stroke="#333" stroke-width="1.4"/><text x="999.5" y="526.6" class="xt">5</text><line x1="1160.2" y1="499.4" x2="1160.2" y2="504.7" stroke="#333" stroke-width="1.4"/><text x="1160.2" y="526.6" class="xt">10</text><line x1="1321" y1="499.4" x2="1321" y2="504.7" stroke="#333" stroke-width="1.4"/><text x="1321" y="526.6" class="xt">15</text><line x1="1481.7" y1="499.4" x2="1481.7" y2="504.7" stroke="#333" stroke-width="1.4"/><text x="1481.7" y="526.6" class="xt">20</text><text x="802.3" y="558.2" class="xtitle">Time from baseline (years)</text><text transform="translate(32.5,278.3) rotate(-90)" class="ytitle">Plasma Aβ42/40</text><text x="4" y="595.8" class="lab">(B)</text><text x="455.3" y="615.6" class="strip">Cognitively normal</text><text x="1148.3" y="615.6" class="strip">Cognitively impaired</text><line x1="114.5" y1="629.1" x2="114.5" y2="1071.5" stroke="#000" stroke-width="1.4"/><line x1="109.5" y1="996.7" x2="114.5" y2="996.7" stroke="#333" stroke-width="1.4"/><text x="103.5" y="1005.4" class="yt">25</text><line x1="109.5" y1="874.4" x2="114.5" y2="874.4" stroke="#333" stroke-width="1.4"/><text x="103.5" y="883.1" class="yt">50</text><line x1="109.5" y1="752.1" x2="114.5" y2="752.1" stroke="#333" stroke-width="1.4"/><text x="103.5" y="760.8" class="yt">75</text><line x1="109.5" y1="629.8" x2="114.5" y2="629.8" stroke="#333" stroke-width="1.4"/><text x="103.5" y="638.5" class="yt">100</text><line x1="113.8" y1="1071" x2="796" y2="1071" stroke="#000" stroke-width="2.2"/><line x1="145.5" y1="1071" x2="145.5" y2="1076.3" stroke="#333" stroke-width="1.4"/><text x="145.5" y="1098.2" class="xt">0</text><line x1="306.2" y1="1071" x2="306.2" y2="1076.3" stroke="#333" stroke-width="1.4"/><text x="306.2" y="1098.2" class="xt">5</text><line x1="467" y1="1071" x2="467" y2="1076.3" stroke="#333" stroke-width="1.4"/><text x="467" y="1098.2" class="xt">10</text><line x1="627.7" y1="1071" x2="627.7" y2="1076.3" stroke="#333" stroke-width="1.4"/><text x="627.7" y="1098.2" class="xt">15</text><line x1="788.4" y1="1071" x2="788.4" y2="1076.3" stroke="#333" stroke-width="1.4"/><text x="788.4" y="1098.2" class="xt">20</text><line x1="807.5" y1="1071" x2="1489" y2="1071" stroke="#000" stroke-width="2.2"/><line x1="838.8" y1="1071" x2="838.8" y2="1076.3" stroke="#333" stroke-width="1.4"/><text x="838.8" y="1098.2" class="xt">0</text><line x1="999.5" y1="1071" x2="999.5" y2="1076.3" stroke="#333" stroke-width="1.4"/><text x="999.5" y="1098.2" class="xt">5</text><line x1="1160.2" y1="1071" x2="1160.2" y2="1076.3" stroke="#333" stroke-width="1.4"/><text x="1160.2" y="1098.2" class="xt">10</text><line x1="1321" y1="1071" x2="1321" y2="1076.3" stroke="#333" stroke-width="1.4"/><text x="1321" y="1098.2" class="xt">15</text><line x1="1481.7" y1="1071" x2="1481.7" y2="1076.3" stroke="#333" stroke-width="1.4"/><text x="1481.7" y="1098.2" class="xt">20</text><text x="802.3" y="1130" class="xtitle">Time from baseline (years)</text><text transform="translate(51.6,850) rotate(-90)" class="ytitle">Plasma Aβ42 (pg/ml)</text><text x="4" y="1168.7" class="lab">(C)</text><text x="455.3" y="1188.5" class="strip">Cognitively normal</text><text x="1148.3" y="1188.5" class="strip">Cognitively impaired</text><line x1="114.5" y1="1202" x2="114.5" y2="1644" stroke="#000" stroke-width="1.4"/><line x1="109.5" y1="1581" x2="114.5" y2="1581" stroke="#333" stroke-width="1.4"/><text x="103.5" y="1589.7" class="yt">250</text><line x1="109.5" y1="1460.1" x2="114.5" y2="1460.1" stroke="#333" stroke-width="1.4"/><text x="103.5" y="1468.8" class="yt">500</text><line x1="109.5" y1="1339.2" x2="114.5" y2="1339.2" stroke="#333" stroke-width="1.4"/><text x="103.5" y="1347.9" class="yt">750</text><line x1="109.5" y1="1218.3" x2="114.5" y2="1218.3" stroke="#333" stroke-width="1.4"/><text x="103.5" y="1227" class="yt">1000</text><line x1="113.8" y1="1643.5" x2="796" y2="1643.5" stroke="#000" stroke-width="2.2"/><line x1="145.5" y1="1643.5" x2="145.5" y2="1648.8" stroke="#333" stroke-width="1.4"/><text x="145.5" y="1670.7" class="xt">0</text><line x1="306.2" y1="1643.5" x2="306.2" y2="1648.8" stroke="#333" stroke-width="1.4"/><text x="306.2" y="1670.7" class="xt">5</text><line x1="467" y1="1643.5" x2="467" y2="1648.8" stroke="#333" stroke-width="1.4"/><text x="467" y="1670.7" class="xt">10</text><line x1="627.7" y1="1643.5" x2="627.7" y2="1648.8" stroke="#333" stroke-width="1.4"/><text x="627.7" y="1670.7" class="xt">15</text><line x1="788.4" y1="1643.5" x2="788.4" y2="1648.8" stroke="#333" stroke-width="1.4"/><text x="788.4" y="1670.7" class="xt">20</text><line x1="807.5" y1="1643.5" x2="1489" y2="1643.5" stroke="#000" stroke-width="2.2"/><line x1="838.8" y1="1643.5" x2="838.8" y2="1648.8" stroke="#333" stroke-width="1.4"/><text x="838.8" y="1670.7" class="xt">0</text><line x1="999.5" y1="1643.5" x2="999.5" y2="1648.8" stroke="#333" stroke-width="1.4"/><text x="999.5" y="1670.7" class="xt">5</text><line x1="1160.2" y1="1643.5" x2="1160.2" y2="1648.8" stroke="#333" stroke-width="1.4"/><text x="1160.2" y="1670.7" class="xt">10</text><line x1="1321" y1="1643.5" x2="1321" y2="1648.8" stroke="#333" stroke-width="1.4"/><text x="1321" y="1670.7" class="xt">15</text><line x1="1481.7" y1="1643.5" x2="1481.7" y2="1648.8" stroke="#333" stroke-width="1.4"/><text x="1481.7" y="1670.7" class="xt">20</text><text x="802.3" y="1702.9" class="xtitle">Time from baseline (years)</text><text transform="translate(37.6,1422.8) rotate(-90)" class="ytitle">Plasma Aβ40 (pg/ml)</text><line x1="718" y1="1759.6" x2="747.2" y2="1759.6" stroke="#fe1e12" stroke-width="2.2"/><circle cx="732.7" cy="1759.6" r="4.7" fill="#fe1e12"/><text x="762" y="1768" class="leg">Black</text><line x1="844.3" y1="1759.6" x2="873.2" y2="1759.6" stroke="#aaaaaa" stroke-width="2.2"/><circle cx="858.7" cy="1759.6" r="4.7" fill="#aaaaaa"/><text x="888.5" y="1768" class="leg">White</text></svg></body></html>
